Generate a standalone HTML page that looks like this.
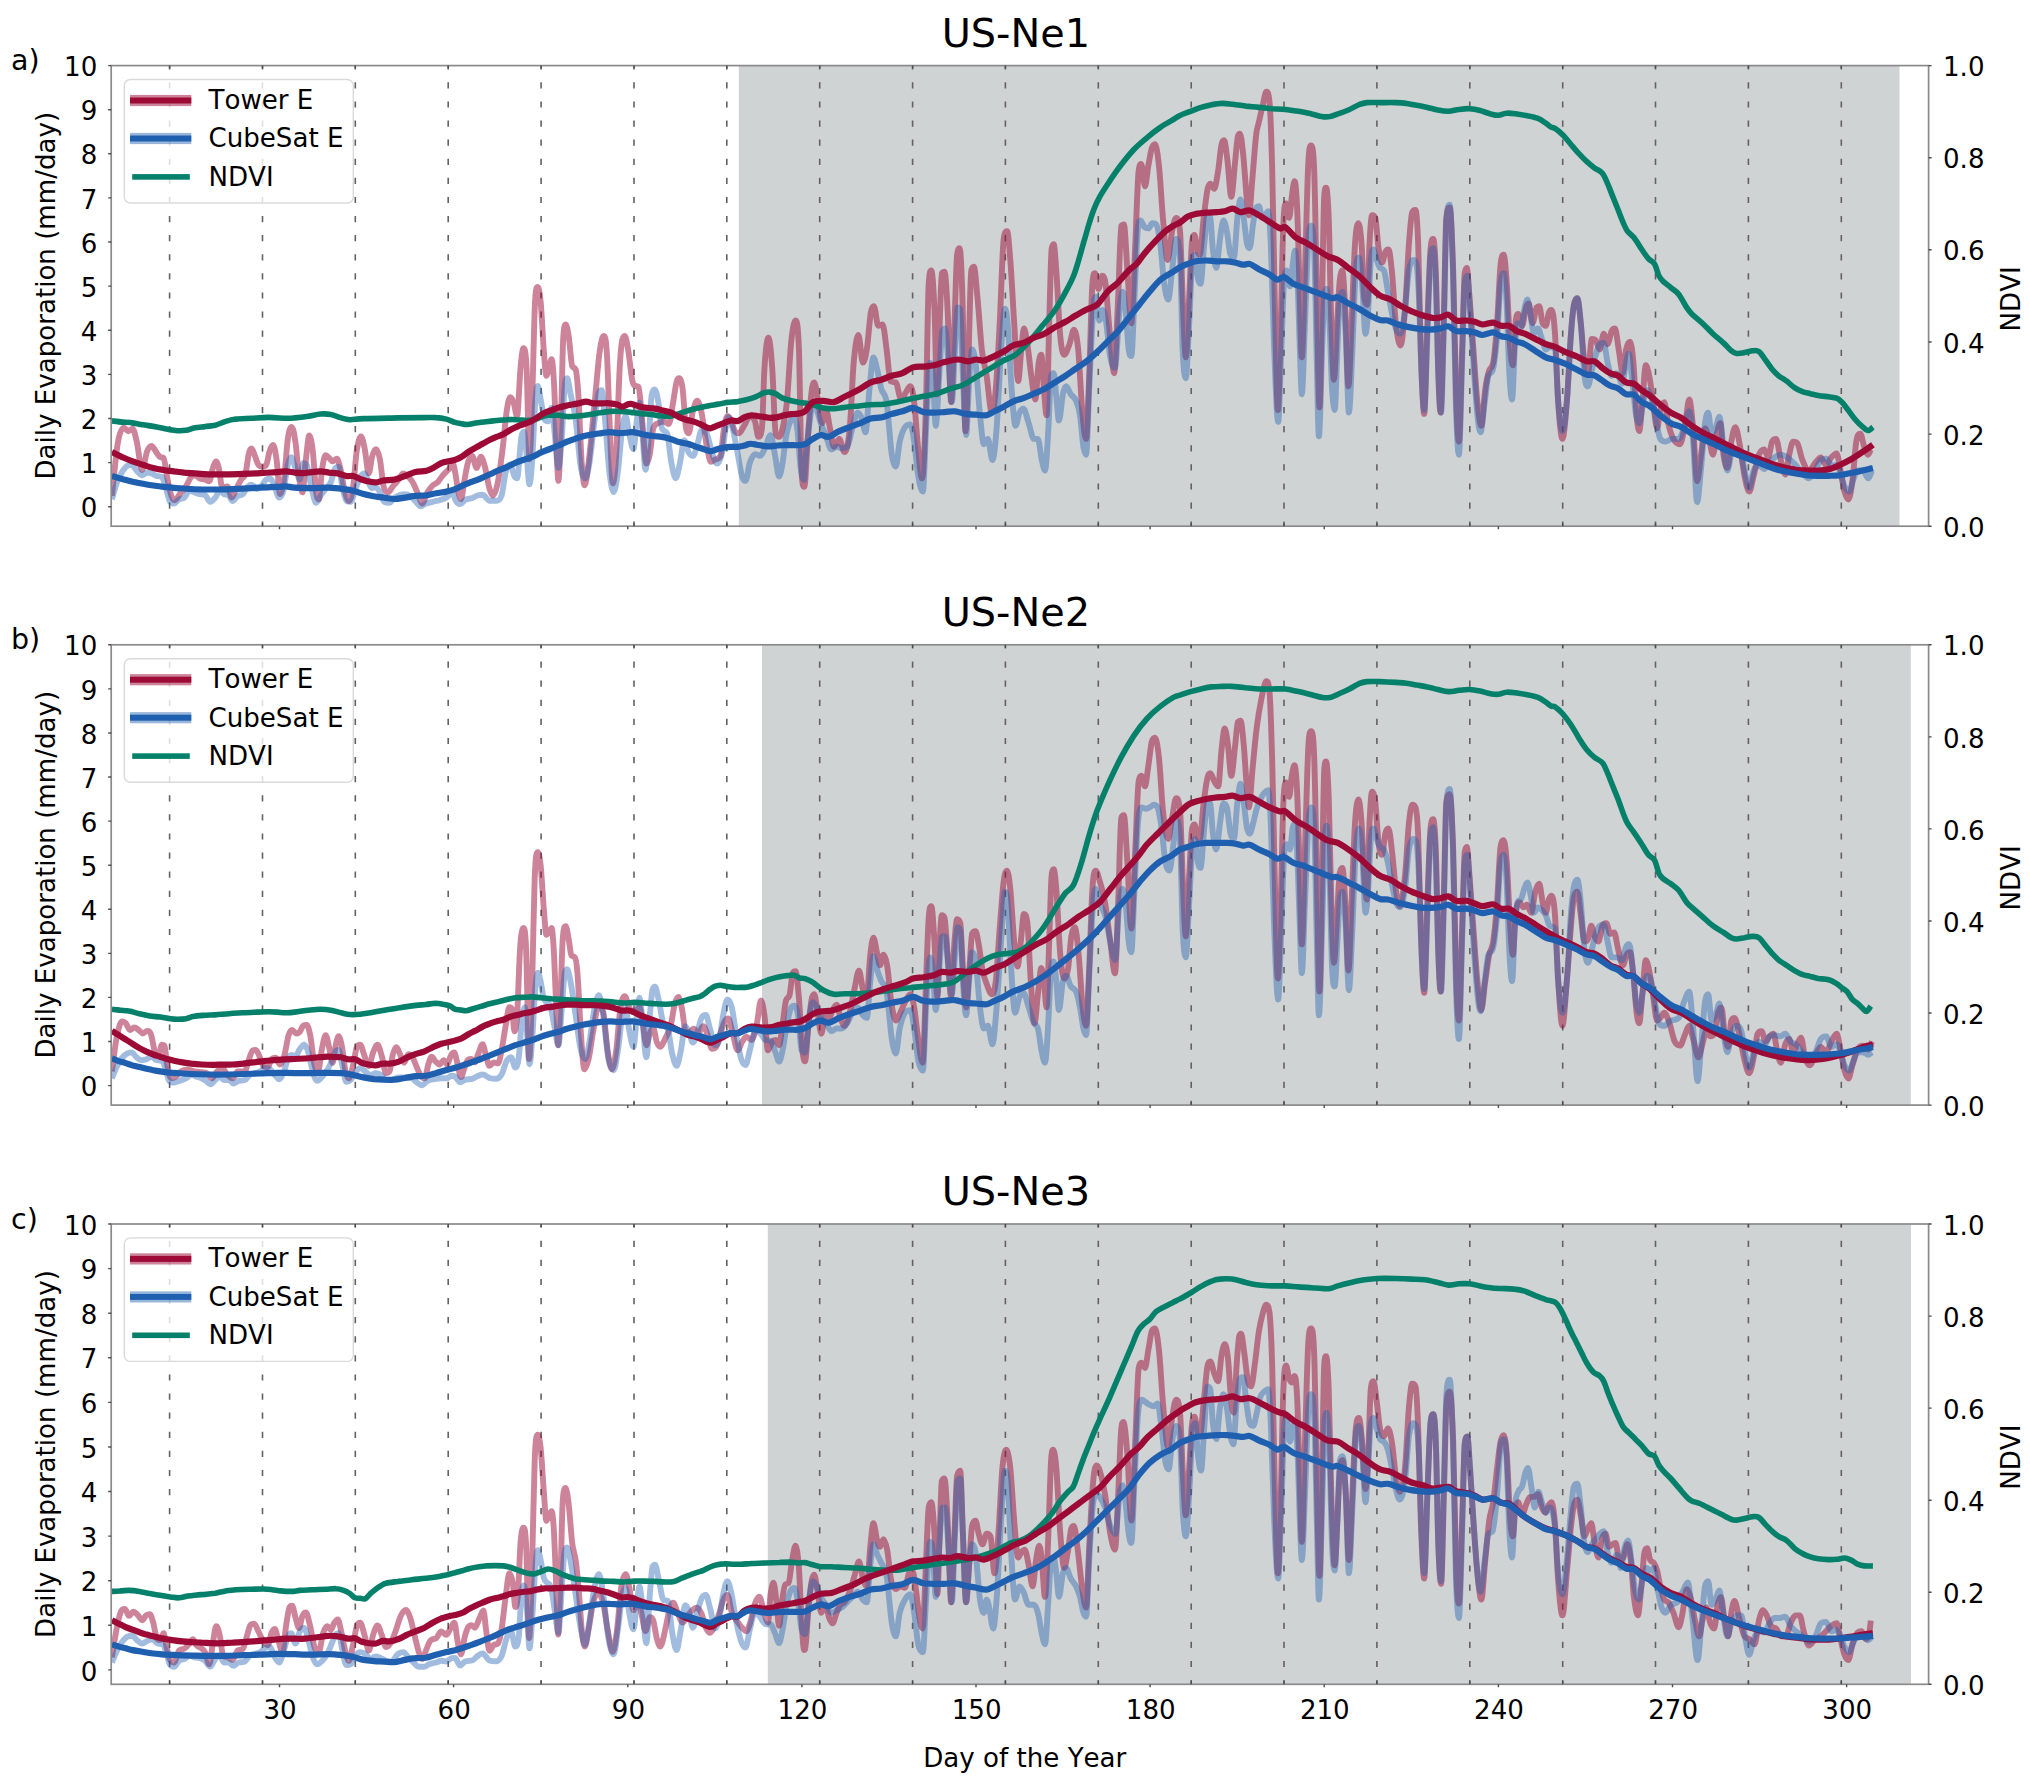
<!DOCTYPE html>
<html lang="en"><head><meta charset="utf-8"><title>Daily Evaporation and NDVI at US-Ne1, US-Ne2, US-Ne3</title>
<style>html,body{margin:0;padding:0;background:#fff}body{width:2030px;height:1786px;overflow:hidden}svg{display:block}</style>
</head><body>
<svg width="2030" height="1786" viewBox="0 0 2030 1786" font-family="'DejaVu Sans','Liberation Sans',sans-serif" style="font-kerning:none">
<rect width="2030" height="1786" fill="#fff"/>
<g id="panel1">
<rect x="738.8" y="65.6" width="1160.7" height="460.6" fill="#d0d3d4"/>
<path d="M169.6,65.6V526.2M262.5,65.6V526.2M355.3,65.6V526.2M448.2,65.6V526.2M541.1,65.6V526.2M634.0,65.6V526.2M726.8,65.6V526.2M819.7,65.6V526.2M912.6,65.6V526.2M1005.4,65.6V526.2M1098.3,65.6V526.2M1191.2,65.6V526.2M1284.0,65.6V526.2M1376.9,65.6V526.2M1469.8,65.6V526.2M1562.7,65.6V526.2M1655.5,65.6V526.2M1748.4,65.6V526.2M1841.3,65.6V526.2" stroke="#626262" stroke-width="1.6" stroke-dasharray="6.2,12.9" stroke-dashoffset="2.4" fill="none"/>
<clipPath id="clip1"><rect x="111.2" y="65.6" width="1817.3999999999999" height="460.6"/></clipPath>
<g clip-path="url(#clip1)">
<path d="M111.9,495.9C113.9,478.0 115.9,453.8 117.9,442.4C119.9,431.1 122.0,427.8 124.0,427.8C125.4,427.8 126.8,431.2 128.3,431.2C129.7,431.2 131.1,428.6 132.6,428.6C134.0,428.6 135.5,436.3 136.9,442.4C138.6,449.8 140.3,470.0 142.1,470.0C143.8,470.0 145.5,455.2 147.2,451.0C148.7,447.5 150.1,445.9 151.6,445.9C153.3,445.9 155.0,450.5 156.7,452.8C157.9,454.2 159.0,456.9 160.2,457.1C161.3,457.3 162.5,457.1 163.6,457.9C164.8,458.8 165.9,471.2 167.1,476.9C168.5,484.0 169.9,491.8 171.4,495.9C172.5,499.1 173.7,500.2 174.8,500.2C176.8,500.2 178.9,494.9 180.9,492.4C182.6,490.3 184.3,489.0 186.0,486.4C187.8,483.8 189.5,478.8 191.2,476.9C192.6,475.3 194.1,475.2 195.5,475.2C197.0,475.2 198.4,478.0 199.8,478.6C201.6,479.4 203.3,479.0 205.0,479.5C206.4,479.8 207.9,481.2 209.3,481.2C210.5,481.2 211.6,471.6 212.8,468.3C213.9,465.0 215.1,461.4 216.2,461.4C217.1,461.4 217.9,464.8 218.8,468.3C219.9,473.0 221.1,487.2 222.2,487.2C224.0,487.2 225.7,486.4 227.4,486.4C228.9,486.4 230.3,497.6 231.7,497.6C233.2,497.6 234.6,491.7 236.0,489.0C237.8,485.7 239.5,482.3 241.2,479.5C242.6,477.2 244.1,478.8 245.5,473.4C246.7,469.2 247.8,457.2 249.0,452.8C249.8,449.5 250.7,448.4 251.6,448.4C252.7,448.4 253.9,453.5 255.0,456.2C256.1,458.9 257.3,463.4 258.4,464.8C259.9,466.6 261.3,466.6 262.8,466.6C263.9,466.6 265.1,466.6 266.2,464.8C267.4,463.1 268.5,454.3 269.7,451.0C270.8,447.7 272.0,445.0 273.1,445.0C274.3,445.0 275.4,451.5 276.6,459.7C277.7,467.8 278.9,494.1 280.0,494.1C281.4,494.1 282.9,487.7 284.3,476.9C285.5,468.3 286.6,447.1 287.8,439.0C289.0,430.0 290.3,426.9 291.6,426.9C292.9,426.9 294.2,433.2 295.5,442.4C296.7,450.4 297.8,468.6 299.0,476.9C300.1,485.2 301.3,492.4 302.4,492.4C303.6,492.4 304.7,469.1 305.9,459.7C307.0,450.2 308.2,435.5 309.3,435.5C310.5,435.5 311.6,441.6 312.8,451.0C313.9,460.5 315.1,484.0 316.2,492.4C317.1,498.7 317.9,499.3 318.8,499.3C319.9,499.3 321.1,475.6 322.2,468.3C323.4,460.9 324.5,455.3 325.7,455.3C326.8,455.3 328.0,456.9 329.1,457.9C330.3,458.9 331.4,461.4 332.6,461.4C334.0,461.4 335.5,458.8 336.9,458.8C338.0,458.8 339.2,463.7 340.3,468.3C341.8,474.0 343.2,485.2 344.7,490.7C346.1,496.1 347.5,501.0 349.0,501.0C350.4,501.0 351.8,495.3 353.3,485.5C354.4,477.7 355.6,458.7 356.7,451.0C358.2,441.4 359.6,436.4 361.0,436.4C362.2,436.4 363.3,442.3 364.5,447.6C365.9,454.2 367.4,473.4 368.8,473.4C369.9,473.4 371.1,460.1 372.2,456.2C373.5,451.9 374.8,449.3 376.0,449.3C377.4,449.3 378.7,453.0 380.0,459.7C381.1,465.5 382.3,480.3 383.4,485.5C384.9,492.1 386.3,492.4 387.8,492.4C389.5,492.4 391.2,488.4 392.9,486.4C394.7,484.4 396.4,482.5 398.1,480.3C399.8,478.2 401.6,473.4 403.3,473.4C405.0,473.4 406.7,475.2 408.4,476.9C410.2,478.6 411.9,480.6 413.6,483.8C415.1,486.5 416.5,490.8 417.9,494.1C419.4,497.4 420.8,503.6 422.2,503.6C424.0,503.6 425.7,495.4 427.4,492.4C429.1,489.4 430.9,487.2 432.6,485.5C434.3,483.8 436.0,483.8 437.8,482.1C439.5,480.3 441.2,477.2 442.9,475.2C444.7,473.2 446.4,471.7 448.1,470.0C449.8,468.3 451.6,464.8 453.3,464.8C453.9,464.8 454.4,468.6 455.0,471.4C456.1,477.0 457.3,487.1 458.4,492.1C459.3,495.8 460.2,499.0 461.0,499.0C462.2,499.0 463.3,486.0 464.5,480.0C465.6,474.0 466.8,466.6 467.9,462.8C469.4,458.0 470.8,455.9 472.2,455.9C473.7,455.9 475.1,467.9 476.6,467.9C478.0,467.9 479.4,456.7 480.9,456.7C482.3,456.7 483.7,462.6 485.2,467.9C486.6,473.2 488.0,483.7 489.5,488.6C490.6,492.5 491.8,495.5 492.9,495.5C494.4,495.5 495.8,491.7 497.2,485.2C499.0,477.4 500.7,464.4 502.4,450.7C503.9,439.3 505.3,420.5 506.7,411.0C507.9,403.4 509.0,397.2 510.2,397.2C511.3,397.2 512.5,399.3 513.6,402.4C514.8,405.6 515.9,416.2 517.1,416.2C518.2,416.2 519.4,379.9 520.5,367.9C521.5,357.8 522.5,348.1 523.4,348.1C524.5,348.1 525.5,348.5 526.6,367.9C527.5,386.3 528.5,459.3 529.5,459.3C530.5,459.3 531.6,414.8 532.6,385.2C533.4,360.5 534.3,311.0 535.2,299.0C536.0,286.9 536.9,286.9 537.8,286.9C538.7,286.9 539.7,292.2 540.7,302.4C541.7,313.2 542.8,337.6 543.8,350.7C544.7,361.6 545.5,375.7 546.4,375.7C547.2,375.7 548.1,370.7 549.0,367.9C549.8,365.2 550.7,359.3 551.6,359.3C552.4,359.3 553.3,369.4 554.1,385.2C555.0,401.0 555.9,436.0 556.7,454.1C557.3,466.3 557.9,480.9 558.4,480.9C559.3,480.9 560.2,445.8 561.0,419.7C561.8,397.0 562.5,347.7 563.3,336.9C564.1,324.5 565.0,324.5 565.9,324.5C566.8,324.5 567.8,330.7 568.8,336.9C569.9,344.2 571.1,363.9 572.2,366.2C573.4,368.5 574.5,367.1 575.7,369.7C576.6,371.6 577.4,381.1 578.3,393.8C579.4,410.7 580.6,446.9 581.7,462.8C582.7,476.3 583.7,485.2 584.7,485.2C586.0,485.2 587.3,473.1 588.6,462.8C590.6,447.0 592.6,422.5 594.7,402.4C596.4,385.2 598.1,362.6 599.8,350.7C601.1,341.9 602.4,336.0 603.6,336.0C604.7,336.0 605.7,336.0 606.7,350.7C607.9,367.0 609.0,412.2 610.2,436.9C611.0,455.4 611.9,483.4 612.8,483.4C613.9,483.4 615.1,473.4 616.2,454.1C617.4,434.9 618.5,388.4 619.7,367.9C620.5,352.6 621.4,344.7 622.2,340.3C623.1,336.0 624.0,336.0 624.8,336.0C626.0,336.0 627.1,344.1 628.3,350.7C629.7,358.9 631.1,376.4 632.6,381.7C633.7,386.0 634.9,385.9 636.0,386.0C636.9,386.2 637.8,386.0 638.6,386.9C639.8,388.0 640.9,408.3 642.1,419.7C643.5,433.8 644.9,463.6 646.4,463.6C647.5,463.6 648.7,460.0 649.8,454.1C651.0,448.2 652.1,431.7 653.3,428.3C655.0,423.2 656.7,423.9 658.4,423.1C660.2,422.3 661.9,421.4 663.6,421.4C665.3,421.4 667.1,424.0 668.8,424.0C670.2,424.0 671.7,410.3 673.1,402.4C674.3,396.1 675.4,385.9 676.6,381.7C677.4,378.6 678.3,378.3 679.1,378.3C680.3,378.3 681.4,380.3 682.6,388.6C683.7,397.0 684.9,421.4 686.0,428.3C686.9,433.4 687.8,433.4 688.6,433.4C690.1,433.4 691.5,416.5 692.9,411.0C694.4,405.6 695.8,400.7 697.2,400.7C698.7,400.7 700.1,406.2 701.6,412.8C703.3,420.6 705.0,436.8 706.7,445.5C708.2,452.8 709.6,461.9 711.0,461.9C712.5,461.9 713.9,459.7 715.3,459.3C717.1,458.8 718.8,459.3 720.5,455.9C721.7,453.6 722.8,434.9 724.0,428.3C725.1,421.7 726.3,416.2 727.4,416.2C728.6,416.2 729.7,417.5 730.9,419.7C732.3,422.4 733.7,429.6 735.2,431.7C736.3,433.4 737.5,433.4 738.6,433.4C740.6,433.4 742.6,427.9 744.7,424.8C746.4,422.2 748.1,416.2 749.8,416.2C751.6,416.2 753.3,416.6 755.0,421.4C756.1,424.5 757.3,436.9 758.4,436.9C759.6,436.9 760.7,436.9 761.9,428.3C762.8,421.8 763.6,381.3 764.5,367.9C765.8,347.5 767.1,337.8 768.4,337.8C769.7,337.8 771.0,350.9 772.2,367.9C773.4,383.4 774.5,430.0 775.7,433.4C776.8,436.9 778.0,436.9 779.1,436.9C780.3,436.9 781.4,433.2 782.6,428.3C784.0,422.2 785.5,416.8 786.9,402.4C788.3,388.0 789.8,355.7 791.2,342.1C792.6,328.4 794.1,320.5 795.5,320.5C796.7,320.5 797.8,320.5 799.0,350.7C799.8,373.3 800.7,455.9 801.6,471.4C802.4,486.9 803.3,486.9 804.1,486.9C804.4,486.9 804.7,486.5 805.0,483.7C805.9,475.0 806.8,454.2 807.6,441.6C808.9,422.7 810.3,402.2 811.6,391.6C812.5,384.5 813.3,382.4 814.2,382.4C815.5,382.4 816.8,395.3 818.2,402.1C819.5,408.9 820.8,423.2 822.1,423.2C823.4,423.2 824.7,410.0 826.1,410.0C827.4,410.0 828.7,422.3 830.0,428.4C831.3,434.6 832.6,446.8 833.9,446.8C835.7,446.8 837.5,438.9 839.2,438.9C841.0,438.9 842.7,452.1 844.5,452.1C846.2,452.1 848.0,447.0 849.7,428.4C851.1,414.5 852.4,377.4 853.7,362.6C855.3,344.9 856.8,335.0 858.4,335.0C859.9,335.0 861.4,362.6 862.9,362.6C864.2,362.6 865.5,357.8 866.8,349.5C868.2,341.1 869.5,320.1 870.8,312.6C871.8,306.6 872.9,306.1 873.9,306.1C875.4,306.1 876.8,325.8 878.2,325.8C879.6,325.8 881.1,324.5 882.6,324.5C883.9,324.5 885.3,340.0 886.6,349.5C887.9,358.9 889.2,380.1 890.5,381.1C892.3,382.3 894.0,381.9 895.8,382.4C897.5,382.9 899.3,399.5 901.1,399.5C902.8,399.5 904.6,394.1 906.3,391.6C907.6,389.7 908.9,386.3 910.3,386.3C911.6,386.3 912.9,391.6 914.2,402.1C915.5,412.6 916.8,436.8 918.2,449.5C919.5,462.2 920.8,478.4 922.1,478.4C923.4,478.4 924.7,444.4 926.1,402.1C926.9,373.9 927.8,296.8 928.7,283.7C929.6,270.5 930.4,270.5 931.3,270.5C932.4,270.5 933.4,286.6 934.5,310.0C935.4,329.5 936.2,394.2 937.1,394.2C938.0,394.2 938.9,345.4 939.7,323.2C940.4,305.4 941.1,274.2 941.8,273.2C942.7,271.8 943.6,271.8 944.5,271.8C945.5,271.8 946.6,289.5 947.6,310.0C948.8,332.2 949.9,402.1 951.1,402.1C952.2,402.1 953.3,351.1 954.5,323.2C955.4,301.6 956.2,261.3 957.1,254.7C958.0,248.2 958.9,248.2 959.7,248.2C960.6,248.2 961.5,270.1 962.4,296.8C963.4,328.9 964.5,431.1 965.5,431.1C966.6,431.1 967.6,378.9 968.7,349.5C969.6,325.0 970.4,274.5 971.3,270.5C972.2,266.6 973.1,266.6 973.9,266.6C975.1,266.6 976.2,285.1 977.4,296.8C978.9,312.2 980.4,336.6 981.8,349.5C983.4,363.1 985.0,365.9 986.6,375.8C988.3,386.8 990.1,412.6 991.8,412.6C993.2,412.6 994.5,403.9 995.8,388.9C997.1,374.0 998.4,348.2 999.7,323.2C1001.1,298.2 1002.4,248.1 1003.7,238.9C1004.8,231.1 1006.0,231.1 1007.1,231.1C1008.2,231.1 1009.2,246.8 1010.3,260.0C1011.6,276.6 1012.9,303.0 1014.2,323.2C1015.5,343.3 1016.8,381.1 1018.2,381.1C1019.2,381.1 1020.3,358.9 1021.3,349.5C1022.2,341.6 1023.1,328.4 1023.9,328.4C1025.1,328.4 1026.2,337.0 1027.4,344.2C1028.7,352.5 1030.0,366.6 1031.3,375.8C1032.6,385.0 1033.9,399.5 1035.3,399.5C1036.4,399.5 1037.5,370.5 1038.7,362.6C1039.6,356.6 1040.4,354.7 1041.3,354.7C1042.2,354.7 1043.1,378.9 1043.9,388.9C1044.8,399.0 1045.7,415.3 1046.6,415.3C1047.5,415.3 1048.3,352.2 1049.2,323.2C1050.0,297.1 1050.8,255.4 1051.6,249.5C1052.3,244.2 1053.0,244.2 1053.7,244.2C1054.6,244.2 1055.4,258.8 1056.3,270.5C1057.6,288.1 1058.9,322.3 1060.3,336.3C1061.6,350.4 1062.9,354.7 1064.2,354.7C1066.0,354.7 1067.7,348.8 1069.5,344.2C1071.0,340.3 1072.5,329.7 1073.9,329.7C1075.4,329.7 1076.8,335.9 1078.2,349.5C1079.6,363.9 1081.1,399.1 1082.6,415.3C1083.8,427.6 1084.9,438.9 1086.1,438.9C1087.1,438.9 1088.2,401.7 1089.2,375.8C1090.3,349.9 1091.3,296.3 1092.4,283.7C1093.2,273.2 1094.1,273.2 1095.0,273.2C1096.1,273.2 1097.3,288.9 1098.4,288.9C1099.7,288.9 1101.1,275.8 1102.4,275.8C1103.4,275.8 1104.5,276.3 1105.5,283.7C1106.7,291.7 1107.8,311.2 1108.9,323.2C1110.7,341.6 1112.5,373.2 1114.2,373.2C1115.5,373.2 1116.8,324.4 1118.2,296.8C1119.2,274.8 1120.3,227.4 1121.3,225.8C1122.2,224.5 1123.1,224.5 1123.9,224.5C1125.1,224.5 1126.2,255.2 1127.4,270.5C1128.7,288.2 1130.0,323.2 1131.3,323.2C1132.6,323.2 1133.9,271.5 1135.3,244.2C1136.4,220.5 1137.5,179.1 1138.7,170.5C1139.6,163.9 1140.4,163.9 1141.3,163.9C1142.5,163.9 1143.8,186.3 1145.0,186.3C1146.1,186.3 1147.3,171.6 1148.4,165.3C1149.6,158.9 1150.7,151.7 1151.8,148.2C1152.9,144.9 1153.9,144.2 1155.0,144.2C1156.3,144.2 1157.6,153.0 1158.9,165.3C1160.3,177.5 1161.6,203.3 1162.9,217.9C1164.5,235.4 1166.1,260.0 1167.6,260.0C1169.1,260.0 1170.6,238.4 1172.1,231.1C1173.4,224.6 1174.7,217.9 1176.1,217.9C1177.4,217.9 1178.7,217.9 1180.0,231.1C1180.9,239.8 1181.8,277.5 1182.6,296.8C1183.7,320.1 1184.7,357.4 1185.8,357.4C1186.9,357.4 1188.1,318.3 1189.2,296.8C1190.1,280.3 1191.0,253.4 1191.8,244.2C1192.7,235.0 1193.6,235.0 1194.5,235.0C1195.4,235.0 1196.2,246.2 1197.1,249.5C1198.0,252.8 1198.9,254.7 1199.7,254.7C1201.1,254.7 1202.4,228.9 1203.7,217.9C1205.0,206.9 1206.3,195.1 1207.6,188.9C1208.5,184.9 1209.4,183.7 1210.3,183.7C1211.6,183.7 1212.9,188.9 1214.2,188.9C1215.5,188.9 1216.8,178.7 1218.2,170.5C1219.3,163.5 1220.4,149.3 1221.6,144.2C1222.5,140.3 1223.3,140.3 1224.2,140.3C1225.3,140.3 1226.3,151.8 1227.4,160.0C1228.7,170.3 1230.0,196.8 1231.3,196.8C1232.6,196.8 1233.9,172.1 1235.3,160.0C1236.1,152.0 1237.0,139.6 1237.9,136.3C1238.6,133.7 1239.3,133.7 1240.0,133.7C1241.1,133.7 1242.1,144.9 1243.2,154.7C1244.5,167.0 1245.8,189.5 1247.1,202.1C1247.7,208.0 1248.3,215.3 1248.9,215.3C1250.1,215.3 1251.2,191.0 1252.4,178.4C1253.7,163.9 1255.0,144.1 1256.3,133.7C1257.2,126.7 1258.1,125.7 1258.9,121.8C1260.3,116.0 1261.6,110.1 1262.9,104.7C1264.0,100.1 1265.2,91.6 1266.3,91.6C1267.4,91.6 1268.4,91.6 1269.5,102.1C1270.4,110.9 1271.2,132.8 1272.1,165.3C1273.0,197.7 1273.9,259.2 1274.7,296.8C1275.8,342.0 1276.8,410.0 1277.9,410.0C1278.9,410.0 1279.8,356.0 1280.8,323.2C1281.7,293.3 1282.5,242.9 1283.4,223.2C1284.3,203.4 1285.2,203.4 1286.1,203.4C1287.1,203.4 1288.2,217.9 1289.2,217.9C1290.1,217.9 1291.0,203.0 1291.8,196.8C1292.7,190.7 1293.6,181.1 1294.5,181.1C1295.4,181.1 1296.2,188.1 1297.1,207.4C1298.0,226.7 1298.9,269.3 1299.7,296.8C1300.4,318.9 1301.1,357.4 1301.8,357.4C1302.9,357.4 1303.9,302.5 1305.0,270.5C1306.1,238.5 1307.1,186.4 1308.2,165.3C1309.1,145.9 1310.1,145.5 1311.1,145.5C1312.1,145.5 1313.2,145.5 1314.2,170.5C1315.1,191.4 1316.0,257.4 1316.8,296.8C1317.7,336.3 1318.6,407.4 1319.5,407.4C1320.4,407.4 1321.2,336.1 1322.1,296.8C1322.8,265.4 1323.5,207.4 1324.2,196.8C1324.8,187.6 1325.4,187.6 1326.1,187.6C1326.9,187.6 1327.8,195.3 1328.7,217.9C1329.6,240.5 1330.4,296.2 1331.3,323.2C1332.2,350.1 1333.1,379.7 1333.9,379.7C1335.0,379.7 1336.1,341.0 1337.1,323.2C1338.0,308.3 1338.9,289.8 1339.7,281.1C1340.6,272.3 1341.5,270.5 1342.4,270.5C1343.3,270.5 1344.3,291.8 1345.3,310.0C1346.3,329.9 1347.4,386.3 1348.4,386.3C1349.5,386.3 1350.5,345.8 1351.6,323.2C1352.7,298.6 1353.9,260.9 1355.0,244.2C1356.1,227.5 1357.3,223.2 1358.4,223.2C1359.5,223.2 1360.5,230.2 1361.6,244.2C1362.5,255.9 1363.3,290.3 1364.2,296.8C1365.3,304.7 1366.3,304.7 1367.4,304.7C1368.1,304.7 1368.8,258.2 1369.5,244.2C1370.4,226.8 1371.2,215.3 1372.1,215.3C1373.2,215.3 1374.2,215.3 1375.3,217.9C1376.4,220.7 1377.5,242.0 1378.7,249.5C1379.8,256.9 1381.0,262.6 1382.1,262.6C1383.2,262.6 1384.2,254.3 1385.3,252.1C1386.3,249.9 1387.4,249.5 1388.4,249.5C1389.6,249.5 1390.7,259.4 1391.8,270.5C1393.2,283.3 1394.5,311.3 1395.8,323.2C1397.4,337.4 1398.9,345.5 1400.5,345.5C1402.0,345.5 1403.5,328.3 1405.0,310.0C1406.3,293.8 1407.6,261.8 1408.9,244.2C1410.0,230.2 1411.1,215.1 1412.1,212.6C1413.2,210.0 1414.4,210.0 1415.5,210.0C1416.4,210.0 1417.3,221.0 1418.2,244.2C1419.0,267.5 1419.9,323.7 1420.8,349.5C1421.9,383.0 1423.1,413.9 1424.2,413.9C1425.3,413.9 1426.3,350.6 1427.4,323.2C1428.4,295.7 1429.5,262.1 1430.5,249.5C1431.4,238.9 1432.3,238.9 1433.2,238.9C1434.0,238.9 1434.9,247.7 1435.8,270.5C1436.7,293.3 1437.5,350.6 1438.4,375.8C1439.1,396.0 1439.8,412.6 1440.5,412.6C1441.6,412.6 1442.6,359.1 1443.7,323.2C1444.6,293.2 1445.4,226.0 1446.3,217.9C1447.5,207.4 1448.6,207.4 1449.7,207.4C1450.9,207.4 1452.0,236.2 1453.2,270.5C1454.2,302.2 1455.3,372.3 1456.3,402.1C1457.2,427.0 1458.1,441.6 1458.9,441.6C1460.0,441.6 1461.1,380.1 1462.1,349.5C1463.0,324.0 1463.9,279.7 1464.7,273.2C1465.4,267.9 1466.1,267.9 1466.8,267.9C1467.7,267.9 1468.6,286.2 1469.5,296.8C1470.8,312.9 1472.1,331.9 1473.4,349.5C1474.7,367.0 1476.1,389.4 1477.4,402.1C1478.7,414.8 1480.0,425.8 1481.3,425.8C1482.6,425.8 1483.9,398.2 1485.3,388.9C1486.6,379.7 1487.9,374.4 1489.2,370.5C1490.5,366.7 1491.8,369.5 1493.2,362.6C1494.5,355.7 1495.8,340.9 1497.1,323.2C1498.2,307.8 1499.4,276.7 1500.5,265.3C1501.6,254.7 1502.6,254.7 1503.7,254.7C1504.7,254.7 1505.8,268.7 1506.8,283.7C1508.0,299.9 1509.1,335.1 1510.3,349.5C1511.1,360.5 1512.0,365.3 1512.9,365.3C1513.8,365.3 1514.6,331.7 1515.5,323.2C1516.4,314.6 1517.3,313.9 1518.2,313.9C1519.5,313.9 1520.8,325.8 1522.1,325.8C1523.4,325.8 1524.7,311.4 1526.1,307.4C1526.9,304.7 1527.8,303.4 1528.7,303.4C1530.0,303.4 1531.3,323.2 1532.6,323.2C1533.9,323.2 1535.3,309.3 1536.6,307.4C1537.5,306.1 1538.3,306.1 1539.2,306.1C1540.4,306.1 1541.5,320.3 1542.6,323.2C1543.7,325.8 1544.7,325.8 1545.8,325.8C1546.8,325.8 1547.9,315.4 1548.9,312.6C1549.8,310.4 1550.7,310.0 1551.6,310.0C1552.7,310.0 1553.9,317.4 1555.0,333.7C1556.1,348.7 1557.1,386.1 1558.2,402.1C1559.6,423.5 1561.0,438.9 1562.4,438.9C1563.9,438.9 1565.4,420.7 1566.8,402.1C1568.2,385.7 1569.5,353.9 1570.8,336.3C1571.8,322.3 1572.9,310.8 1573.9,304.7C1575.1,298.2 1576.2,298.2 1577.4,298.2C1578.5,298.2 1579.6,312.9 1580.8,323.2C1582.0,334.2 1583.2,353.9 1584.5,362.6C1585.6,370.7 1586.8,374.5 1587.9,374.5C1589.2,374.5 1590.5,338.9 1591.8,338.9C1593.2,338.9 1594.5,338.9 1595.8,340.3C1597.1,341.6 1598.4,349.5 1599.7,349.5C1601.1,349.5 1602.4,333.7 1603.7,333.7C1605.0,333.7 1606.3,344.2 1607.6,344.2C1608.9,344.2 1610.3,333.8 1611.6,331.1C1612.7,328.7 1613.9,328.4 1615.0,328.4C1616.2,328.4 1617.5,342.5 1618.7,349.5C1620.1,357.4 1621.5,373.2 1622.9,373.2C1623.9,373.2 1625.0,354.5 1626.1,349.5C1627.4,343.2 1628.7,341.6 1630.0,341.6C1631.1,341.6 1632.3,349.6 1633.4,362.6C1634.5,374.6 1635.5,403.3 1636.6,415.3C1637.5,425.2 1638.3,431.1 1639.2,431.1C1640.3,431.1 1641.3,412.6 1642.4,402.1C1643.5,390.7 1644.6,365.3 1645.8,365.3C1646.9,365.3 1648.1,370.4 1649.2,375.8C1650.4,381.6 1651.7,391.3 1652.9,399.5C1654.3,408.8 1655.7,428.4 1657.1,428.4C1658.2,428.4 1659.2,414.1 1660.3,410.0C1661.6,404.8 1662.9,402.1 1664.2,402.1C1665.5,402.1 1666.8,417.7 1668.2,423.2C1669.9,430.5 1671.7,435.6 1673.4,438.9C1675.6,443.1 1677.8,444.2 1680.0,444.2C1681.8,444.2 1683.5,431.9 1685.3,423.2C1686.6,416.6 1687.9,399.5 1689.2,399.5C1690.5,399.5 1691.8,414.8 1693.2,428.4C1694.5,442.0 1695.8,481.1 1697.1,481.1C1698.4,481.1 1699.7,463.5 1701.1,454.7C1702.4,446.0 1703.7,428.4 1705.0,428.4C1706.3,428.4 1707.6,434.6 1708.9,438.9C1710.3,443.3 1711.6,454.7 1712.9,454.7C1714.2,454.7 1715.5,439.2 1716.8,433.7C1718.0,428.9 1719.1,423.2 1720.3,423.2C1721.3,423.2 1722.4,447.7 1723.4,454.7C1724.7,463.5 1726.1,467.9 1727.4,467.9C1728.7,467.9 1730.0,448.4 1731.3,441.6C1732.6,434.8 1733.9,427.1 1735.3,427.1C1736.6,427.1 1737.9,434.9 1739.2,441.6C1741.0,450.5 1742.7,467.2 1744.5,475.8C1746.1,483.6 1747.6,491.6 1749.2,491.6C1750.7,491.6 1752.2,481.4 1753.7,475.8C1755.4,469.2 1757.2,459.1 1758.9,454.7C1760.7,450.4 1762.5,449.5 1764.2,449.5C1765.5,449.5 1766.8,457.4 1768.2,457.4C1769.5,457.4 1770.8,444.2 1772.1,441.6C1773.4,438.9 1774.7,438.9 1776.1,438.9C1777.6,438.9 1779.2,453.9 1780.8,460.0C1782.3,465.7 1783.8,474.5 1785.3,474.5C1786.6,474.5 1787.9,460.2 1789.2,454.7C1790.5,449.3 1791.8,441.6 1793.2,441.6C1794.5,441.6 1795.8,441.6 1797.1,442.9C1798.9,444.6 1800.6,455.7 1802.4,460.0C1804.6,465.3 1806.8,470.5 1808.9,470.5C1811.1,470.5 1813.3,465.0 1815.5,462.6C1817.3,460.7 1819.0,457.4 1820.8,457.4C1822.5,457.4 1824.3,465.3 1826.1,465.3C1827.8,465.3 1829.6,459.3 1831.3,457.4C1833.1,455.4 1834.8,453.4 1836.6,453.4C1837.9,453.4 1839.2,464.2 1840.5,470.5C1841.8,476.9 1843.2,486.8 1844.5,491.6C1845.8,496.4 1847.1,499.5 1848.4,499.5C1849.7,499.5 1851.1,490.7 1852.4,481.1C1853.7,471.4 1855.0,449.5 1856.3,441.6C1857.6,433.7 1858.9,433.7 1860.3,433.7C1861.6,433.7 1862.9,443.3 1864.2,446.8C1865.5,450.4 1866.8,454.7 1868.2,454.7C1869.0,454.7 1869.9,451.2 1870.8,449.5" fill="none" stroke="#9c0a35" stroke-opacity="0.5" stroke-width="5.9" stroke-linejoin="round" stroke-linecap="butt"/>
<path d="M111.9,499.3C113.6,493.6 115.3,486.7 117.1,482.1C118.8,477.5 120.5,474.5 122.2,471.7C124.0,469.0 125.7,466.7 127.4,465.7C128.9,464.8 130.3,464.8 131.7,464.8C133.4,464.8 135.2,469.1 136.9,470.9C138.6,472.6 140.3,475.2 142.1,475.2C143.8,475.2 145.5,472.6 147.2,472.6C148.7,472.6 150.1,472.9 151.6,473.4C153.3,474.1 155.0,475.8 156.7,476.0C158.4,476.2 160.2,476.1 161.9,476.9C163.0,477.5 164.2,482.0 165.3,485.5C166.8,489.9 168.2,498.4 169.7,501.0C171.1,503.6 172.5,503.6 174.0,503.6C175.7,503.6 177.4,500.3 179.1,499.3C180.9,498.3 182.6,499.0 184.3,497.6C186.0,496.2 187.8,490.7 189.5,490.7C191.2,490.7 192.9,491.8 194.7,492.4C196.4,493.0 198.1,493.9 199.8,494.1C201.6,494.4 203.3,494.2 205.0,495.0C206.7,495.8 208.4,501.9 210.2,501.9C211.9,501.9 213.6,499.7 215.3,497.6C216.8,495.8 218.2,490.7 219.7,490.7C221.1,490.7 222.5,493.7 224.0,494.1C225.4,494.6 226.8,494.3 228.3,495.0C229.7,495.7 231.1,501.0 232.6,501.0C234.3,501.0 236.0,496.8 237.8,495.9C239.5,494.9 241.2,495.6 242.9,494.1C244.4,493.0 245.8,488.8 247.2,487.2C248.7,485.7 250.1,484.7 251.6,484.7C253.3,484.7 255.0,489.0 256.7,489.0C258.4,489.0 260.2,487.3 261.9,485.5C263.3,484.0 264.8,480.3 266.2,479.5C267.6,478.6 269.1,478.6 270.5,478.6C272.0,478.6 273.4,484.1 274.8,487.2C276.3,490.4 277.7,497.6 279.1,497.6C280.6,497.6 282.0,496.1 283.4,490.7C284.9,485.2 286.3,470.8 287.8,464.8C288.9,460.1 290.1,457.1 291.2,457.1C292.6,457.1 294.1,464.5 295.5,468.3C297.0,472.0 298.4,479.5 299.8,479.5C301.0,479.5 302.1,463.1 303.3,463.1C304.4,463.1 305.6,463.1 306.7,464.8C308.2,467.0 309.6,479.7 311.0,485.5C312.8,492.5 314.5,502.8 316.2,502.8C317.6,502.8 319.1,498.0 320.5,495.9C322.2,493.3 324.0,491.3 325.7,489.0C327.4,486.7 329.1,486.0 330.9,482.1C332.3,478.8 333.7,470.4 335.2,468.3C336.3,466.6 337.5,466.6 338.6,466.6C339.8,466.6 340.9,480.3 342.1,485.5C343.5,492.1 344.9,500.2 346.4,501.0C347.8,501.9 349.3,501.9 350.7,501.9C352.1,501.9 353.6,494.5 355.0,490.7C356.7,486.1 358.4,479.9 360.2,476.9C361.6,474.4 363.0,473.4 364.5,473.4C365.6,473.4 366.8,477.9 367.9,480.3C369.1,482.8 370.2,488.1 371.4,488.1C372.8,488.1 374.3,487.2 375.7,487.2C377.1,487.2 378.6,490.0 380.0,492.4C381.4,494.9 382.9,501.2 384.3,501.9C386.0,502.8 387.8,502.8 389.5,502.8C391.2,502.8 392.9,498.9 394.7,497.6C396.4,496.3 398.1,495.6 399.8,495.0C401.6,494.4 403.3,494.1 405.0,494.1C406.7,494.1 408.4,494.7 410.2,495.9C411.9,497.0 413.6,499.3 415.3,501.0C417.1,502.8 418.8,506.2 420.5,506.2C422.2,506.2 424.0,504.3 425.7,503.6C428.0,502.8 430.3,502.5 432.6,501.9C434.9,501.3 437.2,500.9 439.5,500.2C441.8,499.5 444.1,498.9 446.4,497.6C448.7,496.3 451.0,492.4 453.3,492.4C453.9,492.4 454.4,497.6 455.0,499.0C456.7,503.1 458.4,504.1 460.2,504.1C461.9,504.1 463.6,500.8 465.3,499.8C467.6,498.6 469.9,499.0 472.2,498.1C474.0,497.5 475.7,496.1 477.4,495.5C479.1,494.9 480.9,494.7 482.6,494.7C484.9,494.7 487.2,500.7 489.5,500.7C491.8,500.7 494.1,500.7 496.4,500.7C498.1,500.7 499.8,500.7 501.6,495.5C503.0,491.2 504.4,476.6 505.9,471.4C507.3,466.2 508.7,464.5 510.2,464.5C511.6,464.5 513.0,474.1 514.5,476.6C515.3,478.0 516.2,478.3 517.1,478.3C518.5,478.3 519.9,445.2 521.4,436.9C522.2,431.9 523.1,431.7 524.0,431.7C524.8,431.7 525.7,446.0 526.6,454.1C527.5,463.4 528.5,484.3 529.5,484.3C530.5,484.3 531.6,469.5 532.6,454.1C533.4,441.3 534.3,413.8 535.2,402.4C536.0,391.1 536.9,386.0 537.8,386.0C538.9,386.0 540.1,396.8 541.2,402.4C542.4,408.0 543.5,417.9 544.7,419.7C545.8,421.4 547.0,421.4 548.1,421.4C549.3,421.4 550.4,407.6 551.6,407.6C552.7,407.6 553.9,426.8 555.0,436.9C556.1,447.0 557.3,467.9 558.4,467.9C559.6,467.9 560.7,452.8 561.9,436.9C562.8,425.0 563.6,398.4 564.5,388.6C565.3,378.9 566.2,378.3 567.1,378.3C568.2,378.3 569.4,388.3 570.5,393.8C572.2,402.0 574.0,407.3 575.7,419.7C577.4,432.0 579.1,457.8 580.9,467.9C582.3,476.4 583.7,478.3 585.2,478.3C586.6,478.3 588.0,471.3 589.5,462.8C591.2,452.5 592.9,432.4 594.7,419.7C596.1,409.1 597.5,394.9 599.0,392.1C599.8,390.3 600.7,390.3 601.6,390.3C602.7,390.3 603.9,407.9 605.0,419.7C606.4,434.4 607.9,459.3 609.3,471.4C610.7,483.4 612.2,492.1 613.6,492.1C615.1,492.1 616.5,482.0 617.9,471.4C619.4,460.7 620.8,438.0 622.2,428.3C623.4,420.5 624.5,416.2 625.7,416.2C626.8,416.2 628.0,428.5 629.1,433.4C630.6,439.6 632.0,449.0 633.4,449.0C634.6,449.0 635.7,428.4 636.9,419.7C637.8,413.1 638.6,402.4 639.5,402.4C640.3,402.4 641.2,418.8 642.1,428.3C643.2,440.9 644.4,469.7 645.5,469.7C646.7,469.7 647.8,451.6 649.0,436.9C649.8,425.9 650.7,400.5 651.6,395.5C652.6,389.5 653.6,389.5 654.7,389.5C655.9,389.5 657.2,395.5 658.4,402.4C659.6,408.7 660.7,425.7 661.9,428.3C663.6,432.1 665.3,430.0 667.1,433.4C668.5,436.4 669.9,455.3 671.4,462.8C672.8,470.2 674.3,478.3 675.7,478.3C677.1,478.3 678.6,469.1 680.0,462.8C681.4,456.4 682.9,440.3 684.3,440.3C685.7,440.3 687.2,449.8 688.6,452.4C690.1,455.0 691.5,455.9 692.9,455.9C694.4,455.9 695.8,449.8 697.2,445.5C698.7,441.2 700.1,430.0 701.6,430.0C703.3,430.0 705.0,430.0 706.7,433.4C708.4,436.9 710.2,447.4 711.9,452.4C713.6,457.4 715.3,463.6 717.1,463.6C718.8,463.6 720.5,460.3 722.2,452.4C723.4,447.1 724.5,434.8 725.7,428.3C726.6,423.4 727.4,417.1 728.3,417.1C729.7,417.1 731.1,422.8 732.6,428.3C734.3,434.8 736.0,445.3 737.8,454.1C739.2,461.5 740.6,471.9 742.1,476.6C743.2,480.3 744.4,480.9 745.5,480.9C747.0,480.9 748.4,467.0 749.8,462.8C751.6,457.7 753.3,454.1 755.0,454.1C756.7,454.1 758.4,455.9 760.2,455.9C761.9,455.9 763.6,450.7 765.3,447.2C767.1,443.8 768.8,435.2 770.5,435.2C772.0,435.2 773.4,447.2 774.8,454.1C776.3,461.0 777.7,476.6 779.1,476.6C780.3,476.6 781.4,469.4 782.6,462.8C783.7,456.1 784.9,443.3 786.0,436.9C787.5,428.9 788.9,424.7 790.3,421.4C791.5,418.7 792.6,417.9 793.8,417.9C794.9,417.9 796.1,419.9 797.2,428.3C798.4,436.6 799.5,459.3 800.7,467.9C801.8,476.6 803.0,480.0 804.1,480.0C804.4,480.0 804.7,469.1 805.0,465.3C806.3,447.9 807.6,438.9 808.9,428.4C810.3,417.9 811.6,402.1 812.9,402.1C814.2,402.1 815.5,406.5 816.8,410.0C818.2,413.5 819.5,419.3 820.8,423.2C822.5,428.3 824.3,431.9 826.1,436.3C827.8,440.7 829.6,449.5 831.3,449.5C833.1,449.5 834.8,446.8 836.6,446.8C838.3,446.8 840.1,448.2 841.8,448.2C843.6,448.2 845.4,448.2 847.1,446.8C848.9,445.5 850.6,434.1 852.4,428.4C854.1,422.7 855.9,412.6 857.6,412.6C858.9,412.6 860.3,414.6 861.6,417.9C862.9,421.2 864.2,432.4 865.5,432.4C866.8,432.4 868.2,401.4 869.5,388.9C870.8,376.4 872.1,357.4 873.4,357.4C874.7,357.4 876.1,365.3 877.4,370.5C878.7,375.8 880.0,384.2 881.3,388.9C883.1,395.2 884.8,391.1 886.6,402.1C888.3,413.1 890.1,443.3 891.8,454.7C893.2,463.3 894.5,466.6 895.8,466.6C897.1,466.6 898.4,447.6 899.7,441.6C901.5,433.6 903.2,429.7 905.0,427.1C906.8,424.5 908.5,424.5 910.3,424.5C911.6,424.5 912.9,433.0 914.2,441.6C915.5,450.1 916.8,467.9 918.2,475.8C919.7,485.3 921.3,491.6 922.9,491.6C923.9,491.6 925.0,447.7 926.1,428.4C927.4,404.3 928.7,362.6 930.0,362.6C930.9,362.6 931.8,362.6 932.6,370.5C933.7,380.0 934.7,425.8 935.8,425.8C936.9,425.8 938.1,392.2 939.2,375.8C940.3,360.6 941.3,334.2 942.4,331.1C943.2,328.4 944.1,328.4 945.0,328.4C946.1,328.4 947.3,350.4 948.4,362.6C949.6,374.9 950.7,402.1 951.8,402.1C952.9,402.1 953.9,366.7 955.0,349.5C955.9,335.1 956.8,307.4 957.6,307.4C958.5,307.4 959.4,307.4 960.3,310.0C961.1,312.6 962.0,356.6 962.9,375.8C963.9,398.8 965.0,435.0 966.1,435.0C967.2,435.0 968.3,391.4 969.5,375.8C970.4,363.8 971.2,349.5 972.1,349.5C973.2,349.5 974.4,353.7 975.5,362.6C977.0,374.3 978.5,401.0 980.0,415.3C981.3,427.8 982.6,444.2 983.9,444.2C985.3,444.2 986.6,438.9 987.9,438.9C989.4,438.9 990.9,460.0 992.4,460.0C993.8,460.0 995.2,446.1 996.6,428.4C998.1,409.7 999.6,370.3 1001.1,349.5C1002.4,331.1 1003.7,308.7 1005.0,308.7C1005.9,308.7 1006.8,313.4 1007.6,323.2C1008.9,337.7 1010.3,371.8 1011.6,388.9C1012.9,406.1 1014.2,425.8 1015.5,425.8C1016.8,425.8 1018.2,415.5 1019.5,412.6C1020.8,409.8 1022.1,408.7 1023.4,408.7C1025.2,408.7 1026.9,418.1 1028.7,423.2C1030.4,428.2 1032.2,438.9 1033.9,438.9C1035.3,438.9 1036.6,438.9 1037.9,438.9C1039.2,438.9 1040.5,454.3 1041.8,460.0C1042.9,464.6 1043.9,470.5 1045.0,470.5C1046.1,470.5 1047.3,446.8 1048.4,428.4C1049.3,414.3 1050.2,378.4 1051.1,375.8C1051.9,373.2 1052.8,373.2 1053.7,373.2C1054.6,373.2 1055.4,388.9 1056.3,396.8C1057.2,404.7 1058.1,420.5 1058.9,420.5C1060.3,420.5 1061.6,400.2 1062.9,394.2C1063.9,389.4 1065.0,386.3 1066.1,386.3C1067.6,386.3 1069.2,391.9 1070.8,394.2C1072.5,396.8 1074.3,396.5 1076.1,400.8C1077.4,404.0 1078.7,406.8 1080.0,415.3C1081.1,422.6 1082.3,439.9 1083.4,446.8C1084.3,452.2 1085.2,454.7 1086.1,454.7C1087.1,454.7 1088.2,410.4 1089.2,388.9C1090.5,362.1 1091.8,326.4 1093.2,310.0C1094.0,299.0 1094.9,296.8 1095.8,296.8C1096.9,296.8 1098.1,320.5 1099.2,320.5C1100.4,320.5 1101.7,310.0 1102.9,310.0C1104.0,310.0 1105.2,316.0 1106.3,323.2C1107.6,331.4 1108.9,350.2 1110.3,357.4C1111.8,366.0 1113.4,367.9 1115.0,367.9C1116.5,367.9 1118.0,324.0 1119.5,310.0C1120.5,300.1 1121.6,291.6 1122.6,291.6C1123.6,291.6 1124.6,300.9 1125.5,310.0C1126.6,319.9 1127.6,341.6 1128.7,349.5C1129.6,356.1 1130.4,356.1 1131.3,356.1C1132.4,356.1 1133.4,317.2 1134.5,296.8C1135.6,274.7 1136.8,238.7 1137.9,228.4C1138.8,220.5 1139.6,220.5 1140.5,220.5C1141.8,220.5 1143.2,225.8 1144.5,227.1C1145.8,228.4 1147.1,228.4 1148.4,228.4C1149.7,228.4 1151.1,223.2 1152.4,223.2C1153.7,223.2 1155.0,223.2 1156.3,224.5C1157.6,225.8 1158.9,234.3 1160.3,244.2C1161.6,254.1 1162.9,274.5 1164.2,283.7C1165.5,292.9 1166.8,299.5 1168.2,299.5C1169.5,299.5 1170.8,280.6 1172.1,270.5C1173.4,260.4 1174.7,238.9 1176.1,238.9C1177.4,238.9 1178.7,238.9 1180.0,257.4C1180.9,269.6 1181.8,330.1 1182.6,349.5C1183.7,372.7 1184.7,378.4 1185.8,378.4C1186.9,378.4 1188.1,343.3 1189.2,323.2C1190.4,303.0 1191.5,260.8 1192.6,257.4C1193.5,254.7 1194.4,254.7 1195.3,254.7C1196.1,254.7 1197.0,273.6 1197.9,278.4C1198.8,283.2 1199.6,283.7 1200.5,283.7C1201.8,283.7 1203.0,256.0 1204.2,244.2C1205.4,233.3 1206.5,215.3 1207.6,215.3C1208.5,215.3 1209.4,215.3 1210.3,217.9C1211.1,220.5 1212.0,241.8 1212.9,249.5C1214.0,259.4 1215.2,267.9 1216.3,267.9C1217.5,267.9 1218.8,247.1 1220.0,238.9C1221.1,231.4 1222.3,220.5 1223.4,220.5C1224.6,220.5 1225.7,225.6 1226.8,231.1C1228.1,236.9 1229.3,251.9 1230.5,254.7C1231.7,257.4 1232.8,257.4 1233.9,257.4C1235.1,257.4 1236.2,227.8 1237.4,217.9C1238.4,208.8 1239.5,199.5 1240.5,199.5C1241.6,199.5 1242.6,210.8 1243.7,217.9C1244.8,225.6 1246.0,239.1 1247.1,244.2C1248.0,248.2 1248.9,248.2 1249.7,248.2C1250.9,248.2 1252.0,230.2 1253.2,223.2C1254.2,216.7 1255.3,208.9 1256.3,207.4C1257.2,206.1 1258.1,206.1 1258.9,206.1C1260.0,206.1 1261.1,217.9 1262.1,217.9C1263.0,217.9 1263.9,216.2 1264.7,215.3C1265.9,214.0 1267.0,211.3 1268.2,211.3C1269.0,211.3 1269.9,225.2 1270.8,244.2C1271.9,268.9 1273.1,321.5 1274.2,349.5C1275.5,381.8 1276.8,421.8 1278.2,421.8C1279.2,421.8 1280.3,373.8 1281.3,349.5C1282.4,325.1 1283.4,283.7 1284.5,275.8C1285.2,270.5 1285.9,270.5 1286.6,270.5C1287.7,270.5 1288.9,286.3 1290.0,286.3C1290.9,286.3 1291.8,271.5 1292.6,265.3C1293.4,259.7 1294.2,250.8 1295.0,250.8C1295.9,250.8 1296.8,265.0 1297.6,283.7C1298.5,302.3 1299.4,340.7 1300.3,362.6C1300.8,375.8 1301.3,394.2 1301.8,394.2C1302.9,394.2 1303.9,348.0 1305.0,323.2C1306.1,296.3 1307.3,255.8 1308.4,238.9C1309.3,226.0 1310.2,225.8 1311.1,225.8C1312.1,225.8 1313.2,225.8 1314.2,249.5C1315.1,269.2 1316.0,328.4 1316.8,362.6C1317.5,390.0 1318.2,436.3 1318.9,436.3C1320.0,436.3 1321.1,375.5 1322.1,349.5C1323.0,327.8 1323.9,294.9 1324.7,291.6C1325.4,288.9 1326.1,288.9 1326.8,288.9C1327.7,288.9 1328.6,306.5 1329.5,323.2C1330.4,339.8 1331.2,374.5 1332.1,388.9C1333.0,403.4 1333.9,410.0 1334.7,410.0C1335.6,410.0 1336.5,368.3 1337.4,349.5C1338.2,330.6 1339.1,302.1 1340.0,296.8C1340.9,291.6 1341.8,291.6 1342.6,291.6C1343.7,291.6 1344.7,316.1 1345.8,336.3C1346.8,356.5 1347.9,412.6 1348.9,412.6C1350.1,412.6 1351.2,373.2 1352.4,349.5C1353.5,325.8 1354.6,284.8 1355.8,270.5C1356.8,257.4 1357.9,257.4 1358.9,257.4C1360.0,257.4 1361.1,271.6 1362.1,283.7C1363.2,296.8 1364.4,333.7 1365.5,333.7C1366.4,333.7 1367.3,322.3 1368.2,310.0C1369.0,297.7 1369.9,270.1 1370.8,260.0C1371.7,249.9 1372.5,249.5 1373.4,249.5C1374.6,249.5 1375.7,256.8 1376.8,260.0C1377.9,262.9 1378.9,266.9 1380.0,267.9C1381.3,269.1 1382.6,268.2 1383.9,270.5C1385.3,272.9 1386.6,284.6 1387.9,291.6C1389.2,298.6 1390.5,306.5 1391.8,312.6C1393.2,318.8 1394.5,325.1 1395.8,328.4C1397.4,332.5 1398.9,333.7 1400.5,333.7C1402.0,333.7 1403.5,321.4 1405.0,310.0C1406.3,299.9 1407.6,278.9 1408.9,270.5C1410.3,262.2 1411.6,260.0 1412.9,260.0C1413.9,260.0 1415.0,260.0 1416.1,262.6C1417.0,265.0 1418.0,276.7 1418.9,296.8C1419.8,315.2 1420.7,356.9 1421.6,375.8C1422.5,394.6 1423.3,410.0 1424.2,410.0C1425.3,410.0 1426.3,361.8 1427.4,336.3C1428.4,310.9 1429.5,268.4 1430.5,257.4C1431.4,248.2 1432.3,248.2 1433.2,248.2C1434.0,248.2 1434.9,262.4 1435.8,283.7C1436.7,305.0 1437.5,354.3 1438.4,375.8C1439.3,397.3 1440.2,412.6 1441.1,412.6C1442.0,412.6 1443.0,357.4 1443.9,323.2C1444.8,292.1 1445.7,228.9 1446.6,217.9C1447.6,204.7 1448.7,204.7 1449.7,204.7C1450.8,204.7 1451.8,235.6 1452.9,270.5C1453.9,302.5 1454.8,372.1 1455.8,402.1C1456.8,434.8 1457.9,454.7 1458.9,454.7C1460.0,454.7 1461.1,393.8 1462.1,362.6C1463.0,336.7 1463.9,291.6 1464.7,283.7C1465.6,275.8 1466.5,275.8 1467.4,275.8C1468.2,275.8 1469.1,297.6 1470.0,310.0C1471.1,326.2 1472.3,346.3 1473.4,362.6C1474.7,381.5 1476.1,402.9 1477.4,415.3C1478.4,425.1 1479.5,432.4 1480.5,432.4C1481.9,432.4 1483.3,412.2 1484.7,402.1C1486.0,393.3 1487.2,378.9 1488.4,375.8C1489.8,372.2 1491.2,374.4 1492.6,370.5C1494.1,366.5 1495.6,353.5 1497.1,336.3C1498.2,323.2 1499.4,294.4 1500.5,283.7C1501.6,273.8 1502.6,273.2 1503.7,273.2C1504.6,273.2 1505.4,281.9 1506.3,296.8C1507.4,314.7 1508.4,357.9 1509.5,375.8C1510.4,390.7 1511.2,399.5 1512.1,399.5C1513.0,399.5 1513.9,361.8 1514.7,349.5C1515.7,335.9 1516.7,323.2 1517.6,323.2C1518.7,323.2 1519.7,328.4 1520.8,328.4C1521.9,328.4 1523.1,315.0 1524.2,310.0C1525.3,305.4 1526.3,299.5 1527.4,299.5C1528.4,299.5 1529.5,309.8 1530.5,315.3C1531.7,321.2 1532.8,333.7 1533.9,333.7C1535.3,333.7 1536.6,328.4 1537.9,328.4C1539.2,328.4 1540.5,335.4 1541.8,338.9C1543.2,342.5 1544.5,349.5 1545.8,349.5C1547.1,349.5 1548.4,346.8 1549.7,346.8C1551.5,346.8 1553.2,346.8 1555.0,349.5C1556.1,351.1 1557.1,389.7 1558.2,402.1C1559.6,418.6 1561.0,431.1 1562.4,431.1C1563.9,431.1 1565.4,419.4 1566.8,402.1C1568.2,386.9 1569.5,353.9 1570.8,336.3C1571.8,322.3 1572.9,310.8 1573.9,304.7C1575.1,298.2 1576.2,298.2 1577.4,298.2C1578.5,298.2 1579.6,310.8 1580.8,323.2C1582.0,336.4 1583.2,365.1 1584.5,375.8C1585.6,385.7 1586.8,386.3 1587.9,386.3C1589.2,386.3 1590.5,375.8 1591.8,370.5C1593.2,365.3 1594.5,359.1 1595.8,354.7C1597.1,350.4 1598.4,345.5 1599.7,344.2C1601.1,342.9 1602.4,342.9 1603.7,342.9C1605.0,342.9 1606.3,357.1 1607.6,362.6C1608.9,368.1 1610.3,375.8 1611.6,375.8C1613.3,375.8 1615.1,373.2 1616.8,373.2C1618.6,373.2 1620.4,383.7 1622.1,383.7C1623.4,383.7 1624.7,368.4 1626.1,362.6C1626.9,358.8 1627.8,353.4 1628.7,353.4C1629.7,353.4 1630.8,367.1 1631.8,375.8C1633.2,387.3 1634.6,406.9 1636.1,415.3C1637.1,421.5 1638.2,423.2 1639.2,423.2C1640.5,423.2 1641.8,407.6 1643.2,402.1C1644.5,396.6 1645.8,390.3 1647.1,390.3C1648.4,390.3 1649.7,392.7 1651.1,396.8C1652.4,401.0 1653.7,409.2 1655.0,415.3C1656.8,423.3 1658.5,436.3 1660.3,438.9C1662.0,441.6 1663.8,441.6 1665.5,441.6C1667.7,441.6 1669.9,438.9 1672.1,438.9C1674.3,438.9 1676.5,438.9 1678.7,438.9C1680.4,438.9 1682.2,433.0 1683.9,428.4C1685.7,423.8 1687.5,411.3 1689.2,411.3C1690.5,411.3 1691.8,426.4 1693.2,441.6C1694.5,456.7 1695.8,502.1 1697.1,502.1C1698.4,502.1 1699.7,481.1 1701.1,467.9C1702.4,454.7 1703.7,432.8 1705.0,423.2C1706.1,415.4 1707.1,412.6 1708.2,412.6C1709.3,412.6 1710.4,433.7 1711.6,433.7C1712.9,433.7 1714.2,431.3 1715.5,428.4C1716.8,425.6 1718.2,416.6 1719.5,416.6C1720.6,416.6 1721.8,433.7 1722.9,441.6C1724.4,451.9 1725.9,470.5 1727.4,470.5C1728.7,470.5 1730.0,458.2 1731.3,454.7C1732.6,451.2 1733.9,449.5 1735.3,449.5C1737.0,449.5 1738.8,449.5 1740.5,452.1C1741.8,454.1 1743.2,465.1 1744.5,470.5C1746.1,477.1 1747.6,487.6 1749.2,487.6C1750.7,487.6 1752.2,474.1 1753.7,470.5C1755.4,466.3 1757.2,465.3 1758.9,465.3C1760.7,465.3 1762.5,469.2 1764.2,469.2C1766.0,469.2 1767.7,464.6 1769.5,462.6C1771.2,460.7 1773.0,458.7 1774.7,457.4C1776.5,456.1 1778.2,454.7 1780.0,454.7C1781.8,454.7 1783.5,455.2 1785.3,456.1C1787.0,456.9 1788.8,458.5 1790.5,460.0C1792.3,461.5 1794.0,463.3 1795.8,465.3C1798.0,467.7 1800.2,471.0 1802.4,473.2C1804.6,475.4 1806.8,478.4 1808.9,478.4C1811.1,478.4 1813.3,474.0 1815.5,470.5C1817.3,467.7 1819.0,461.3 1820.8,460.0C1822.5,458.7 1824.3,458.7 1826.1,458.7C1827.8,458.7 1829.6,465.3 1831.3,465.3C1833.1,465.3 1834.8,465.3 1836.6,465.3C1837.9,465.3 1839.2,469.6 1840.5,473.2C1841.8,476.7 1843.2,483.4 1844.5,486.3C1846.1,489.8 1847.6,491.6 1849.2,491.6C1850.7,491.6 1852.2,482.1 1853.7,478.4C1855.0,475.2 1856.3,470.5 1857.6,470.5C1859.4,470.5 1861.1,470.5 1862.9,470.5C1864.6,470.5 1866.4,478.4 1868.2,478.4C1869.5,478.4 1870.8,473.2 1872.1,470.5" fill="none" stroke="#1f5fb0" stroke-opacity="0.42" stroke-width="5.9" stroke-linejoin="round" stroke-linecap="butt"/>
<path d="M111.9,420.9C113.6,421.1 119.1,421.8 122.2,422.1C125.4,422.4 127.4,422.1 130.9,422.6C134.3,423.0 138.6,424.1 142.9,424.8C147.2,425.5 152.4,426.1 156.7,426.9C161.0,427.7 165.3,428.9 168.8,429.5C172.2,430.1 174.5,430.5 177.4,430.7C180.3,430.8 183.2,430.8 186.0,430.3C188.9,429.9 191.5,428.4 194.7,427.8C197.8,427.1 201.6,427.0 205.0,426.6C208.4,426.1 211.9,426.0 215.3,425.2C218.8,424.3 222.2,422.4 225.7,421.4C229.1,420.4 231.7,419.7 236.0,419.1C240.3,418.6 246.1,418.6 251.6,418.3C257.0,418.0 263.0,417.4 268.8,417.4C274.5,417.4 281.7,418.2 286.0,418.3C290.3,418.4 290.9,418.3 294.7,417.9C298.4,417.6 304.1,416.9 308.4,416.2C312.8,415.5 316.8,414.3 320.5,414.0C324.3,413.7 327.4,413.8 330.9,414.5C334.3,415.1 338.0,417.1 341.2,417.9C344.4,418.8 346.1,419.5 349.8,419.7C353.6,419.8 355.6,418.9 363.6,418.6C371.7,418.3 388.0,418.1 398.1,417.9C408.2,417.8 417.6,417.6 424.0,417.6C430.3,417.5 432.3,417.3 436.0,417.6C439.8,417.8 443.2,418.3 446.4,419.1C449.5,419.9 452.7,421.7 455.0,422.4C457.3,423.1 458.2,423.1 460.2,423.4C462.2,423.8 464.5,424.5 467.1,424.5C469.7,424.4 472.5,423.6 475.7,423.1C478.9,422.6 482.6,422.2 486.0,421.7C489.5,421.3 492.9,420.9 496.4,420.5C499.8,420.2 503.3,419.8 506.7,419.7C510.2,419.5 513.6,419.5 517.1,419.7C520.5,419.8 524.3,420.6 527.4,420.5C530.6,420.5 533.7,419.9 536.0,419.3C538.3,418.7 539.2,417.7 541.2,417.1C543.2,416.4 545.2,415.6 548.1,415.3C551.0,415.1 555.0,415.1 558.4,415.3C561.9,415.5 565.3,416.5 568.8,416.6C572.2,416.6 575.7,416.2 579.1,415.9C582.6,415.5 586.0,415.0 589.5,414.5C592.9,414.0 596.4,413.3 599.8,412.8C603.3,412.2 606.7,411.6 610.2,411.4C613.6,411.1 617.1,411.2 620.5,411.4C624.0,411.6 627.4,412.0 630.9,412.4C634.3,412.8 637.8,413.3 641.2,413.6C644.7,414.0 648.4,414.1 651.6,414.5C654.7,414.9 657.3,415.6 660.2,415.9C663.0,416.1 666.2,416.4 668.8,416.2C671.4,416.0 673.1,415.5 675.7,414.8C678.3,414.1 681.4,412.8 684.3,411.9C687.2,411.0 690.1,410.1 692.9,409.3C695.8,408.5 698.7,407.9 701.6,407.2C704.4,406.6 707.3,406.0 710.2,405.5C713.0,405.0 715.9,404.7 718.8,404.1C721.7,403.6 724.3,402.8 727.4,402.4C730.6,402.0 734.6,402.0 737.8,401.6C740.9,401.1 743.5,400.5 746.4,399.8C749.3,399.1 752.1,398.4 755.0,397.2C757.9,396.1 761.2,393.8 763.6,392.9C766.1,392.1 767.6,391.9 769.7,392.1C771.7,392.2 773.5,392.8 775.7,393.8C777.8,394.8 780.0,397.0 782.6,398.1C785.2,399.3 788.3,400.0 791.2,400.7C794.1,401.4 797.5,402.0 799.8,402.4C802.1,402.8 802.8,402.7 805.0,403.1C807.2,403.5 809.8,403.9 812.9,404.7C816.0,405.5 819.9,407.2 823.4,407.9C826.9,408.6 830.4,408.8 833.9,408.7C837.5,408.6 840.5,407.8 844.5,407.4C848.4,406.9 853.2,406.5 857.6,406.1C862.0,405.6 866.4,405.0 870.8,404.7C875.2,404.4 879.6,404.6 883.9,404.2C888.3,403.8 892.7,403.0 897.1,402.1C901.5,401.2 905.9,399.9 910.3,398.9C914.6,398.0 919.0,397.2 923.4,396.3C927.8,395.4 932.2,394.9 936.6,393.7C941.0,392.5 945.4,390.4 949.7,388.9C954.1,387.5 958.5,387.0 962.9,385.0C967.3,383.0 971.7,379.7 976.1,377.1C980.4,374.5 984.8,371.8 989.2,369.2C993.6,366.6 998.0,363.7 1002.4,361.3C1006.8,358.9 1011.1,357.9 1015.5,354.7C1019.9,351.5 1024.3,346.8 1028.7,342.1C1033.1,337.4 1037.5,331.7 1041.8,326.3C1046.2,321.0 1051.1,315.7 1055.0,310.0C1058.9,304.3 1062.5,297.7 1065.5,292.1C1068.6,286.5 1071.2,281.7 1073.4,276.3C1075.6,271.0 1076.9,265.8 1078.7,260.0C1080.4,254.2 1082.2,247.7 1083.9,241.6C1085.7,235.4 1087.5,228.8 1089.2,223.2C1091.0,217.5 1092.7,212.3 1094.5,207.9C1096.2,203.5 1097.5,200.8 1099.7,196.8C1101.9,192.9 1104.1,189.5 1107.6,184.2C1111.1,178.9 1116.4,171.1 1120.8,165.3C1125.2,159.5 1129.6,154.1 1133.9,149.5C1138.3,144.9 1142.7,141.3 1147.1,137.6C1151.5,133.9 1155.9,130.4 1160.3,127.4C1164.6,124.3 1170.1,121.4 1173.4,119.5C1176.7,117.5 1177.1,116.9 1180.0,115.5C1182.9,114.2 1187.0,112.7 1190.5,111.3C1194.0,110.0 1197.5,108.5 1201.1,107.4C1204.6,106.3 1208.1,105.4 1211.6,104.7C1215.1,104.1 1218.6,103.5 1222.1,103.4C1225.6,103.3 1228.7,103.8 1232.6,104.2C1236.6,104.6 1241.4,105.5 1245.8,106.1C1250.2,106.6 1254.6,106.9 1258.9,107.4C1263.3,107.8 1267.7,108.3 1272.1,108.7C1276.5,109.0 1280.9,109.0 1285.3,109.5C1289.6,109.9 1294.0,110.6 1298.4,111.3C1302.8,112.1 1307.6,113.1 1311.6,113.9C1315.5,114.8 1319.0,116.1 1322.1,116.6C1325.2,117.0 1327.4,117.0 1330.0,116.6C1332.6,116.1 1334.8,115.0 1337.9,113.9C1341.0,112.9 1344.9,111.5 1348.4,110.0C1351.9,108.5 1355.9,106.0 1358.9,104.7C1362.0,103.5 1363.3,103.0 1366.8,102.6C1370.4,102.3 1375.2,102.6 1380.0,102.6C1384.8,102.6 1391.4,102.5 1395.8,102.6C1400.2,102.8 1402.8,103.0 1406.3,103.4C1409.8,103.9 1413.3,104.6 1416.8,105.3C1420.4,105.9 1423.9,106.6 1427.4,107.4C1430.9,108.2 1434.4,109.3 1437.9,110.0C1441.4,110.7 1444.9,111.4 1448.4,111.3C1451.9,111.2 1455.4,109.9 1458.9,109.5C1462.5,109.0 1466.0,108.5 1469.5,108.7C1473.0,108.9 1476.5,109.6 1480.0,110.5C1483.5,111.4 1487.5,113.2 1490.5,113.9C1493.6,114.7 1495.8,115.4 1498.4,115.3C1501.1,115.1 1503.2,113.4 1506.3,113.2C1509.4,112.9 1513.3,113.5 1516.8,113.9C1520.4,114.4 1523.9,115.0 1527.4,115.8C1530.9,116.5 1534.8,117.2 1537.9,118.4C1541.0,119.6 1543.6,121.7 1545.8,123.2C1548.0,124.6 1549.5,126.2 1551.1,127.1C1552.6,128.0 1553.0,127.1 1555.0,128.4C1557.0,129.7 1560.3,132.4 1562.9,135.0C1565.5,137.6 1568.2,141.1 1570.8,144.2C1573.4,147.3 1576.1,150.6 1578.7,153.4C1581.3,156.3 1583.9,158.9 1586.6,161.3C1589.2,163.7 1591.8,165.9 1594.5,167.9C1597.1,169.9 1600.2,170.5 1602.4,173.2C1604.6,175.8 1605.9,179.7 1607.6,183.7C1609.4,187.6 1611.1,192.5 1612.9,196.8C1614.6,201.2 1616.4,205.6 1618.2,210.0C1619.9,214.4 1621.9,219.6 1623.4,223.2C1625.0,226.7 1625.6,228.6 1627.4,231.1C1629.1,233.5 1631.5,234.6 1633.9,237.6C1636.4,240.7 1639.4,246.0 1641.8,249.5C1644.3,253.0 1646.3,256.3 1648.4,258.7C1650.5,261.1 1652.7,261.1 1654.5,263.9C1656.2,266.8 1657.5,272.9 1658.9,275.8C1660.4,278.6 1660.9,279.1 1662.9,281.1C1664.9,283.0 1668.2,285.4 1670.8,287.6C1673.4,289.8 1676.1,290.9 1678.7,294.2C1681.3,297.5 1684.4,304.1 1686.6,307.4C1688.8,310.7 1689.2,311.3 1691.8,313.9C1694.5,316.6 1698.9,319.9 1702.4,323.2C1705.9,326.4 1709.4,330.4 1712.9,333.7C1716.4,337.0 1720.4,340.0 1723.4,342.9C1726.5,345.7 1729.1,349.0 1731.3,350.8C1733.5,352.5 1734.4,353.1 1736.6,353.4C1738.8,353.7 1741.8,353.1 1744.5,352.6C1747.1,352.2 1750.0,351.0 1752.4,350.8C1754.8,350.6 1756.8,350.0 1758.9,351.6C1761.1,353.1 1763.3,357.1 1765.5,360.0C1767.7,362.9 1769.9,366.6 1772.1,369.2C1774.3,371.8 1776.3,373.8 1778.7,375.8C1781.1,377.8 1783.9,379.1 1786.6,381.1C1789.2,383.0 1791.8,385.9 1794.5,387.6C1797.1,389.4 1799.7,390.6 1802.4,391.6C1805.0,392.6 1807.6,393.0 1810.3,393.7C1812.9,394.3 1815.1,395.0 1818.2,395.5C1821.2,396.1 1825.6,396.4 1828.7,396.8C1831.8,397.3 1834.4,397.3 1836.6,398.2C1838.8,399.0 1840.1,400.4 1841.8,402.1C1843.6,403.9 1844.9,405.8 1847.1,408.7C1849.3,411.5 1852.4,416.1 1855.0,419.2C1857.6,422.3 1860.7,425.2 1862.9,427.1C1865.1,429.0 1866.5,430.5 1868.2,430.5C1869.8,430.5 1872.1,427.7 1872.9,427.1" fill="none" stroke="#05806a" stroke-width="5.6" stroke-linejoin="round"/>
<path d="M111.9,451.9C113.6,452.8 118.8,455.5 122.2,457.1C125.7,458.6 129.1,460.1 132.6,461.4C136.0,462.7 139.5,463.7 142.9,464.8C146.4,465.9 149.8,467.1 153.3,467.9C156.7,468.8 160.2,469.4 163.6,470.0C167.1,470.6 170.5,470.9 174.0,471.4C177.4,471.8 180.9,472.2 184.3,472.6C187.8,472.9 190.6,473.2 194.7,473.4C198.7,473.7 203.3,474.2 208.4,474.3C213.6,474.5 219.9,474.4 225.7,474.3C231.4,474.2 237.2,474.0 242.9,473.8C248.7,473.6 254.4,473.4 260.2,473.1C265.9,472.8 273.1,472.4 277.4,472.1C281.7,471.8 283.2,471.3 286.0,471.4C288.9,471.5 291.8,472.3 294.7,472.6C297.5,472.9 300.4,473.2 303.3,473.1C306.1,473.0 309.0,472.4 311.9,472.1C314.8,471.8 317.6,471.3 320.5,471.4C323.4,471.5 326.3,472.2 329.1,472.6C332.0,472.9 334.9,472.9 337.8,473.4C340.6,474.0 343.8,475.6 346.4,476.0C349.0,476.5 351.0,475.5 353.3,476.0C355.6,476.5 357.9,478.1 360.2,479.0C362.5,479.8 364.5,480.6 367.1,481.2C369.7,481.8 372.8,482.6 375.7,482.4C378.6,482.3 381.1,480.8 384.3,480.3C387.5,479.9 391.2,480.2 394.7,479.5C398.1,478.8 401.6,477.3 405.0,476.0C408.4,474.8 411.9,472.9 415.3,472.1C418.8,471.2 422.8,471.5 425.7,470.9C428.6,470.2 430.0,469.6 432.6,468.3C435.2,467.0 438.3,464.3 441.2,463.1C444.1,461.9 447.5,461.6 449.8,461.0C452.1,460.5 453.0,460.6 455.0,459.9C457.0,459.2 459.6,458.1 461.9,456.7C464.2,455.3 466.5,453.1 468.8,451.6C471.1,450.0 473.4,448.9 475.7,447.6C478.0,446.3 480.3,445.1 482.6,443.8C484.9,442.5 487.2,441.1 489.5,440.0C491.8,438.9 494.1,437.8 496.4,436.9C498.7,435.9 501.0,435.5 503.3,434.3C505.6,433.2 507.9,431.3 510.2,430.0C512.5,428.7 514.8,427.6 517.1,426.6C519.4,425.5 521.7,424.8 524.0,424.0C526.3,423.1 528.6,422.5 530.9,421.4C533.2,420.2 535.5,418.5 537.8,417.1C540.1,415.6 542.4,413.9 544.7,412.8C547.0,411.6 549.3,411.0 551.6,410.2C553.9,409.3 556.1,408.3 558.4,407.6C560.7,406.9 563.0,406.4 565.3,405.9C567.6,405.3 569.9,404.9 572.2,404.5C574.5,404.1 576.8,403.8 579.1,403.3C581.4,402.8 583.7,401.6 586.0,401.6C588.3,401.6 590.3,403.0 592.9,403.3C595.5,403.6 598.7,403.3 601.6,403.3C604.4,403.3 607.6,403.1 610.2,403.3C612.8,403.5 615.1,403.9 617.1,404.5C619.1,405.1 620.5,406.7 622.2,406.7C624.0,406.7 626.0,405.0 627.4,404.5C628.9,404.0 629.1,403.6 630.9,403.8C632.6,404.0 635.5,405.2 637.8,405.9C640.1,406.5 642.1,407.2 644.7,407.6C647.2,408.0 650.4,408.0 653.3,408.4C656.1,408.9 659.0,409.5 661.9,410.2C664.8,410.8 667.6,411.3 670.5,412.4C673.4,413.6 676.6,415.9 679.1,417.1C681.7,418.3 683.7,418.9 686.0,419.7C688.3,420.4 690.6,420.7 692.9,421.4C695.2,422.1 697.8,423.1 699.8,424.0C701.8,424.8 703.3,425.8 705.0,426.6C706.7,427.3 708.2,428.4 710.2,428.3C712.2,428.1 714.8,426.6 717.1,425.7C719.4,424.8 721.7,424.0 724.0,423.1C726.3,422.2 728.6,420.9 730.9,420.5C733.2,420.2 735.5,421.6 737.8,421.0C740.1,420.5 742.4,418.0 744.7,417.1C747.0,416.1 749.3,415.5 751.6,415.3C753.9,415.2 756.1,415.9 758.4,416.2C760.7,416.5 763.3,416.8 765.3,417.1C767.4,417.4 768.5,417.9 770.5,417.9C772.5,417.9 775.1,417.5 777.4,417.1C779.7,416.6 782.0,415.8 784.3,415.3C786.6,414.9 788.9,414.4 791.2,414.1C793.5,413.9 795.8,414.1 798.1,413.6C800.4,413.1 802.5,413.1 805.0,411.2C807.5,409.3 809.8,403.8 812.9,402.1C816.0,400.4 819.9,400.8 823.4,400.8C826.9,400.8 830.4,402.8 833.9,402.1C837.5,401.4 840.5,398.8 844.5,396.8C848.4,394.9 853.2,392.7 857.6,390.3C862.0,387.9 866.8,384.1 870.8,382.4C874.7,380.6 877.8,380.8 881.3,379.7C884.8,378.6 888.3,376.9 891.8,375.8C895.4,374.7 898.9,374.6 902.4,373.2C905.9,371.8 909.4,368.5 912.9,367.4C916.4,366.3 919.9,366.9 923.4,366.6C926.9,366.2 930.4,366.0 933.9,365.3C937.5,364.5 940.5,363.1 944.5,362.1C948.4,361.1 953.7,359.6 957.6,359.5C961.6,359.3 965.1,361.3 968.2,361.3C971.2,361.3 973.4,359.6 976.1,359.5C978.7,359.3 980.9,361.1 983.9,360.5C987.0,360.0 991.0,357.7 994.5,356.1C998.0,354.4 1001.9,352.5 1005.0,350.8C1008.1,349.0 1009.8,346.8 1012.9,345.5C1016.0,344.2 1019.9,344.2 1023.4,342.9C1026.9,341.6 1030.4,339.2 1033.9,337.6C1037.5,336.1 1041.0,335.4 1044.5,333.7C1048.0,331.9 1051.5,329.1 1055.0,327.1C1058.5,325.1 1062.0,323.8 1065.5,321.8C1069.0,319.9 1072.5,317.3 1076.1,315.3C1079.6,313.2 1083.1,311.2 1086.6,309.5C1090.1,307.7 1093.6,307.7 1097.1,304.7C1100.6,301.8 1104.1,295.3 1107.6,291.6C1111.1,287.9 1114.6,285.9 1118.2,282.4C1121.7,278.9 1125.6,273.6 1128.7,270.5C1131.8,267.5 1133.9,266.8 1136.6,263.9C1139.2,261.1 1141.4,257.1 1144.5,253.4C1147.5,249.7 1151.5,245.3 1155.0,241.6C1158.5,237.9 1162.5,233.7 1165.5,231.1C1168.6,228.4 1171.0,227.2 1173.4,225.8C1175.8,224.4 1177.6,224.0 1180.0,222.5C1182.4,221.0 1185.3,218.0 1187.9,216.6C1190.5,215.2 1192.7,214.6 1195.8,213.9C1198.9,213.3 1202.8,212.9 1206.3,212.6C1209.8,212.3 1213.8,212.3 1216.8,212.1C1219.9,211.9 1222.1,211.9 1224.7,211.3C1227.4,210.7 1230.0,208.6 1232.6,208.7C1235.3,208.8 1237.7,211.8 1240.5,212.1C1243.4,212.4 1246.7,210.0 1249.7,210.5C1252.8,211.1 1255.7,213.4 1258.9,215.3C1262.2,217.1 1266.0,219.6 1269.5,221.8C1273.0,224.0 1277.4,227.5 1280.0,228.4C1282.6,229.3 1282.6,225.6 1285.3,227.1C1287.9,228.6 1292.3,235.0 1295.8,237.6C1299.3,240.3 1302.8,240.9 1306.3,242.9C1309.8,244.9 1313.3,247.3 1316.8,249.5C1320.4,251.7 1323.9,254.3 1327.4,256.1C1330.9,257.8 1334.4,258.0 1337.9,260.0C1341.4,262.0 1344.9,265.3 1348.4,267.9C1351.9,270.5 1355.4,272.7 1358.9,275.8C1362.5,278.9 1366.0,283.0 1369.5,286.3C1373.0,289.6 1376.5,293.3 1380.0,295.5C1383.5,297.7 1387.0,297.7 1390.5,299.5C1394.0,301.2 1397.5,304.1 1401.1,306.1C1404.6,308.0 1408.1,309.8 1411.6,311.3C1415.1,312.9 1418.6,314.2 1422.1,315.3C1425.6,316.4 1429.6,317.5 1432.6,317.9C1435.7,318.2 1437.9,317.9 1440.5,317.4C1443.2,316.8 1445.8,314.2 1448.4,314.7C1451.1,315.3 1453.2,319.6 1456.3,320.5C1459.4,321.5 1463.8,320.3 1466.8,320.5C1469.9,320.7 1472.1,321.2 1474.7,321.8C1477.4,322.5 1479.6,324.3 1482.6,324.5C1485.7,324.6 1490.1,322.4 1493.2,322.6C1496.2,322.9 1498.4,325.3 1501.1,325.8C1503.7,326.3 1506.3,324.9 1508.9,325.8C1511.6,326.7 1514.2,329.7 1516.8,331.1C1519.5,332.4 1521.7,332.4 1524.7,333.7C1527.8,335.0 1531.8,337.2 1535.3,338.9C1538.8,340.7 1542.5,342.9 1545.8,344.2C1549.1,345.5 1551.7,345.5 1555.0,346.8C1558.3,348.2 1562.0,350.6 1565.5,352.1C1569.0,353.6 1572.5,354.5 1576.1,356.1C1579.6,357.6 1583.5,360.4 1586.6,361.3C1589.6,362.2 1591.8,360.2 1594.5,361.3C1597.1,362.4 1599.7,365.9 1602.4,367.9C1605.0,369.9 1607.6,371.8 1610.3,373.2C1612.9,374.5 1615.5,374.3 1618.2,375.8C1620.8,377.3 1623.4,381.1 1626.1,382.4C1628.7,383.7 1631.3,382.4 1633.9,383.7C1636.6,385.0 1639.2,388.3 1641.8,390.3C1644.5,392.2 1646.7,393.1 1649.7,395.5C1652.8,397.9 1656.8,401.9 1660.3,404.7C1663.8,407.6 1667.3,410.4 1670.8,412.6C1674.3,414.8 1677.8,415.7 1681.3,417.9C1684.8,420.1 1688.3,423.4 1691.8,425.8C1695.4,428.2 1698.9,430.4 1702.4,432.4C1705.9,434.3 1709.4,435.9 1712.9,437.6C1716.4,439.4 1719.9,441.1 1723.4,442.9C1726.9,444.6 1730.4,446.4 1733.9,448.2C1737.5,449.9 1741.0,451.9 1744.5,453.4C1748.0,455.0 1751.5,456.1 1755.0,457.4C1758.5,458.7 1762.0,460.0 1765.5,461.3C1769.0,462.6 1772.5,464.2 1776.1,465.3C1779.6,466.4 1783.1,467.1 1786.6,467.9C1790.1,468.7 1793.6,469.6 1797.1,470.0C1800.6,470.4 1804.1,470.4 1807.6,470.5C1811.1,470.6 1814.6,470.7 1818.2,470.5C1821.7,470.3 1825.2,470.1 1828.7,469.2C1832.2,468.3 1835.7,466.8 1839.2,465.3C1842.7,463.7 1846.2,462.0 1849.7,460.0C1853.2,458.0 1857.2,455.4 1860.3,453.4C1863.3,451.4 1866.1,449.6 1868.2,448.2C1870.3,446.7 1872.1,445.3 1872.9,444.7" fill="none" stroke="#9c0a35" stroke-width="6.2" stroke-linejoin="round"/>
<path d="M111.9,476.0C113.6,476.5 118.8,478.0 122.2,479.0C125.7,479.9 129.1,480.9 132.6,481.7C136.0,482.5 139.5,483.2 142.9,483.8C146.4,484.4 149.8,485.0 153.3,485.5C156.7,486.0 160.2,486.5 163.6,486.9C167.1,487.3 169.4,487.4 174.0,487.8C178.6,488.1 185.5,488.7 191.2,489.0C197.0,489.3 202.7,489.4 208.4,489.5C214.2,489.5 219.9,489.5 225.7,489.3C231.4,489.2 237.2,488.9 242.9,488.6C248.7,488.3 254.4,487.9 260.2,487.6C265.9,487.3 273.1,487.1 277.4,486.9C281.7,486.7 283.2,486.3 286.0,486.4C288.9,486.5 290.3,487.3 294.7,487.6C299.0,487.9 306.1,488.1 311.9,488.1C317.6,488.1 324.0,487.4 329.1,487.6C334.3,487.7 338.9,488.4 342.9,489.0C347.0,489.5 349.8,489.8 353.3,490.7C356.7,491.6 360.2,493.2 363.6,494.1C367.1,495.1 370.5,495.6 374.0,496.2C377.4,496.8 380.9,497.1 384.3,497.6C387.8,498.0 391.2,499.0 394.7,499.0C398.1,499.0 401.6,498.1 405.0,497.6C408.4,497.1 411.9,496.2 415.3,495.9C418.8,495.5 422.2,495.9 425.7,495.5C429.1,495.1 432.6,493.9 436.0,493.3C439.5,492.6 443.2,492.3 446.4,491.6C449.5,490.8 452.1,490.1 455.0,489.1C457.9,488.0 460.7,486.4 463.6,485.2C466.5,484.0 469.4,482.9 472.2,481.7C475.1,480.6 478.0,479.5 480.9,478.3C483.7,477.1 486.6,475.8 489.5,474.5C492.4,473.2 495.2,471.8 498.1,470.5C501.0,469.3 503.9,468.4 506.7,467.1C509.6,465.8 512.5,464.0 515.3,462.8C518.2,461.5 521.1,460.7 524.0,459.7C526.8,458.6 529.7,457.9 532.6,456.7C535.5,455.5 538.3,453.7 541.2,452.4C544.1,451.1 547.0,450.1 549.8,449.0C552.7,447.8 555.6,446.7 558.4,445.5C561.3,444.3 564.2,442.9 567.1,441.7C569.9,440.6 572.8,439.6 575.7,438.6C578.6,437.7 581.4,436.8 584.3,436.0C587.2,435.3 590.1,434.8 592.9,434.3C595.8,433.8 598.7,433.5 601.6,433.1C604.4,432.7 607.3,432.1 610.2,432.1C613.0,432.1 615.9,433.0 618.8,433.1C621.7,433.2 625.1,432.8 627.4,432.6C629.7,432.4 630.6,431.9 632.6,432.1C634.6,432.2 637.5,433.0 639.5,433.4C641.5,433.9 642.4,434.4 644.7,434.8C647.0,435.3 650.4,435.7 653.3,436.0C656.1,436.4 659.0,436.4 661.9,436.9C664.8,437.4 667.6,438.1 670.5,439.0C673.4,439.8 676.3,441.3 679.1,442.1C682.0,442.9 684.9,443.0 687.8,443.8C690.6,444.6 693.8,446.0 696.4,446.9C699.0,447.8 701.0,448.2 703.3,449.0C705.6,449.7 707.9,451.1 710.2,451.2C712.5,451.3 714.8,449.9 717.1,449.3C719.4,448.7 721.7,448.0 724.0,447.6C726.3,447.2 728.6,447.0 730.9,446.9C733.2,446.8 735.5,447.1 737.8,446.9C740.1,446.7 742.6,446.0 744.7,445.5C746.7,445.0 747.8,443.9 749.8,443.8C751.8,443.6 754.4,444.3 756.7,444.7C759.0,445.0 761.3,445.6 763.6,445.9C765.9,446.1 768.2,446.4 770.5,446.4C772.8,446.3 775.1,445.7 777.4,445.5C779.7,445.3 782.0,445.2 784.3,445.2C786.6,445.1 788.9,445.2 791.2,445.2C793.5,445.2 795.8,445.3 798.1,445.2C800.4,445.0 802.5,445.3 805.0,444.2C807.5,443.2 810.3,440.5 812.9,438.9C815.5,437.4 818.2,435.4 820.8,435.0C823.4,434.6 825.6,437.5 828.7,436.8C831.8,436.2 835.7,432.7 839.2,431.1C842.7,429.4 846.2,428.4 849.7,427.1C853.2,425.8 856.8,424.6 860.3,423.2C863.8,421.7 867.3,419.4 870.8,418.4C874.3,417.5 877.8,418.1 881.3,417.4C884.8,416.6 888.3,415.0 891.8,413.9C895.4,412.9 898.9,412.3 902.4,411.3C905.9,410.3 909.4,407.8 912.9,407.9C916.4,408.0 919.9,411.3 923.4,412.1C926.9,412.9 930.4,412.6 933.9,412.6C937.5,412.6 941.0,412.3 944.5,412.1C948.0,411.9 951.5,411.0 955.0,411.3C958.5,411.6 962.0,413.4 965.5,413.9C969.0,414.5 972.5,414.5 976.1,414.7C979.6,415.0 983.5,415.8 986.6,415.3C989.6,414.7 991.8,412.6 994.5,411.3C997.1,410.0 999.3,409.0 1002.4,407.4C1005.4,405.7 1009.4,403.1 1012.9,401.6C1016.4,400.0 1019.9,399.5 1023.4,398.2C1026.9,396.8 1030.4,395.2 1033.9,393.7C1037.5,392.1 1041.0,390.8 1044.5,388.9C1048.0,387.1 1051.5,384.6 1055.0,382.4C1058.5,380.2 1062.0,378.1 1065.5,375.8C1069.0,373.5 1072.5,370.8 1076.1,368.4C1079.6,366.0 1083.1,364.0 1086.6,361.3C1090.1,358.6 1093.6,355.4 1097.1,352.1C1100.6,348.8 1104.1,345.1 1107.6,341.6C1111.1,338.1 1114.6,335.0 1118.2,331.1C1121.7,327.1 1125.2,322.3 1128.7,317.9C1132.2,313.5 1135.7,309.1 1139.2,304.7C1142.7,300.4 1146.2,295.7 1149.7,291.6C1153.2,287.4 1156.8,282.8 1160.3,279.7C1163.8,276.7 1167.5,275.2 1170.8,273.2C1174.1,271.1 1177.1,268.8 1180.0,267.2C1182.9,265.7 1185.3,264.9 1187.9,263.9C1190.5,263.0 1192.7,261.9 1195.8,261.3C1198.9,260.7 1202.8,260.5 1206.3,260.5C1209.8,260.5 1213.3,261.2 1216.8,261.3C1220.4,261.4 1224.3,261.1 1227.4,261.3C1230.4,261.5 1232.6,262.1 1235.3,262.6C1237.9,263.2 1240.7,264.5 1243.2,264.7C1245.6,265.0 1247.1,263.2 1249.7,263.9C1252.4,264.7 1255.7,267.5 1258.9,269.2C1262.2,271.0 1266.4,272.7 1269.5,274.5C1272.5,276.2 1275.0,279.3 1277.4,279.7C1279.8,280.2 1281.3,276.4 1283.9,277.1C1286.6,277.8 1289.9,281.9 1293.2,283.7C1296.4,285.4 1300.2,286.3 1303.7,287.6C1307.2,288.9 1310.7,290.3 1314.2,291.6C1317.7,292.9 1321.7,294.4 1324.7,295.5C1327.8,296.6 1330.4,297.9 1332.6,298.2C1334.8,298.5 1335.3,296.5 1337.9,297.4C1340.5,298.2 1344.9,301.5 1348.4,303.4C1351.9,305.3 1355.4,306.7 1358.9,308.7C1362.5,310.7 1366.0,313.4 1369.5,315.3C1373.0,317.1 1376.9,319.1 1380.0,320.0C1383.1,320.9 1384.8,319.8 1387.9,320.5C1391.0,321.3 1394.9,323.4 1398.4,324.5C1401.9,325.6 1405.4,326.4 1408.9,327.1C1412.5,327.9 1416.0,328.5 1419.5,328.9C1423.0,329.4 1426.5,329.8 1430.0,329.7C1433.5,329.6 1437.5,329.0 1440.5,328.4C1443.6,327.9 1445.8,325.9 1448.4,326.3C1451.1,326.8 1453.2,330.3 1456.3,331.1C1459.4,331.8 1463.8,330.8 1466.8,331.1C1469.9,331.3 1472.1,331.7 1474.7,332.4C1477.4,333.0 1479.6,335.0 1482.6,335.0C1485.7,335.0 1490.1,332.1 1493.2,332.4C1496.2,332.6 1498.4,335.4 1501.1,336.3C1503.7,337.2 1506.3,336.8 1508.9,337.6C1511.6,338.5 1514.2,340.5 1516.8,341.6C1519.5,342.7 1521.7,342.7 1524.7,344.2C1527.8,345.7 1531.8,348.6 1535.3,350.8C1538.8,353.0 1542.5,355.8 1545.8,357.4C1549.1,358.9 1551.7,358.9 1555.0,360.0C1558.3,361.1 1562.0,362.4 1565.5,363.9C1569.0,365.5 1572.5,367.5 1576.1,369.2C1579.6,371.0 1583.5,373.5 1586.6,374.5C1589.6,375.5 1591.8,374.3 1594.5,375.3C1597.1,376.3 1599.7,378.8 1602.4,380.5C1605.0,382.3 1607.6,384.5 1610.3,385.8C1612.9,387.1 1615.5,387.0 1618.2,388.4C1620.8,389.8 1623.4,393.2 1626.1,394.2C1628.7,395.3 1631.3,393.4 1633.9,394.7C1636.6,396.1 1639.2,400.2 1641.8,402.1C1644.5,404.0 1646.7,403.9 1649.7,406.1C1652.8,408.2 1656.8,412.4 1660.3,415.3C1663.8,418.1 1667.3,421.2 1670.8,423.2C1674.3,425.1 1677.8,425.4 1681.3,427.1C1684.8,428.9 1688.3,431.7 1691.8,433.7C1695.4,435.7 1698.9,437.3 1702.4,438.9C1705.9,440.6 1709.4,442.0 1712.9,443.7C1716.4,445.4 1719.9,447.3 1723.4,448.9C1726.9,450.6 1730.4,452.0 1733.9,453.4C1737.5,454.8 1741.0,456.1 1744.5,457.4C1748.0,458.7 1751.5,460.0 1755.0,461.3C1758.5,462.6 1762.0,463.9 1765.5,465.3C1769.0,466.6 1772.5,468.1 1776.1,469.2C1779.6,470.3 1783.1,471.1 1786.6,471.8C1790.1,472.6 1793.6,473.1 1797.1,473.7C1800.6,474.3 1804.1,474.9 1807.6,475.3C1811.1,475.6 1814.6,475.7 1818.2,475.8C1821.7,475.9 1825.2,475.9 1828.7,475.8C1832.2,475.7 1835.7,475.7 1839.2,475.3C1842.7,474.8 1846.2,473.9 1849.7,473.2C1853.2,472.5 1857.2,471.7 1860.3,471.1C1863.3,470.4 1866.1,469.7 1868.2,469.2C1870.3,468.7 1872.1,468.1 1872.9,467.9" fill="none" stroke="#1f5fb0" stroke-width="6.2" stroke-linejoin="round"/>
</g>
<rect x="111.2" y="65.6" width="1817.3999999999999" height="460.6" fill="none" stroke="#8a8a8a" stroke-width="1.7"/>
<path d="M111.2,506.7h-3M111.2,462.6h-3M111.2,418.5h-3M111.2,374.4h-3M111.2,330.3h-3M111.2,286.1h-3M111.2,242.0h-3M111.2,197.9h-3M111.2,153.8h-3M111.2,109.7h-3M111.2,65.6h-3M1928.6,526.2h3M1928.6,434.1h3M1928.6,342.0h3M1928.6,249.8h3M1928.6,157.7h3M1928.6,65.6h3M279.5,526.2v3M453.6,526.2v3M627.8,526.2v3M801.9,526.2v3M976.0,526.2v3M1150.1,526.2v3M1324.2,526.2v3M1498.4,526.2v3M1672.5,526.2v3M1846.6,526.2v3M169.6,526.2v-3M169.6,65.6v3M262.5,526.2v-3M262.5,65.6v3M355.3,526.2v-3M355.3,65.6v3M448.2,526.2v-3M448.2,65.6v3M541.1,526.2v-3M541.1,65.6v3M634.0,526.2v-3M634.0,65.6v3M726.8,526.2v-3M726.8,65.6v3M819.7,526.2v-3M819.7,65.6v3M912.6,526.2v-3M912.6,65.6v3M1005.4,526.2v-3M1005.4,65.6v3M1098.3,526.2v-3M1098.3,65.6v3M1191.2,526.2v-3M1191.2,65.6v3M1284.0,526.2v-3M1284.0,65.6v3M1376.9,526.2v-3M1376.9,65.6v3M1469.8,526.2v-3M1469.8,65.6v3M1562.7,526.2v-3M1562.7,65.6v3M1655.5,526.2v-3M1655.5,65.6v3M1748.4,526.2v-3M1748.4,65.6v3M1841.3,526.2v-3M1841.3,65.6v3" stroke="#4d4d4d" stroke-width="1.4" fill="none"/>
<g font-size="26.1" text-anchor="end" fill="#000">
<text x="97.3" y="517.3">0</text>
<text x="97.3" y="473.2">1</text>
<text x="97.3" y="429.1">2</text>
<text x="97.3" y="385.0">3</text>
<text x="97.3" y="340.9">4</text>
<text x="97.3" y="296.8">5</text>
<text x="97.3" y="252.6">6</text>
<text x="97.3" y="208.5">7</text>
<text x="97.3" y="164.4">8</text>
<text x="97.3" y="120.3">9</text>
<text x="97.3" y="76.2">10</text>
</g>
<g font-size="26.1" text-anchor="start" fill="#000">
<text x="1943" y="536.8">0.0</text>
<text x="1943" y="444.7">0.2</text>
<text x="1943" y="352.6">0.4</text>
<text x="1943" y="260.4">0.6</text>
<text x="1943" y="168.3">0.8</text>
<text x="1943" y="76.2">1.0</text>
</g>
<text font-size="26.1" text-anchor="middle" transform="translate(54.9,295.7) rotate(-90)">Daily Evaporation (mm/day)</text>
<text font-size="26.1" text-anchor="middle" transform="translate(2019.8,298.9) rotate(-90)">NDVI</text>
<text font-size="39.8" text-anchor="middle" x="1015.8" y="46.6">US-Ne1</text>
<text font-size="28.5" x="11" y="70.1">a)</text>
<rect x="124.3" y="79.5" width="229" height="123.5" rx="6" ry="6" fill="#fff" fill-opacity="0.8" stroke="#dadada" stroke-width="1.4"/>
<rect x="130" y="94.9" width="61.3" height="11.2" fill="#9c0a35" fill-opacity="0.5"/>
<rect x="130" y="97.5" width="61.3" height="6" fill="#9c0a35"/>
<rect x="130" y="132.9" width="61.3" height="11.2" fill="#1f5fb0" fill-opacity="0.45"/>
<rect x="130" y="135.5" width="61.3" height="6" fill="#1f5fb0"/>
<rect x="132.2" y="174.1" width="57.6" height="5.6" fill="#05806a"/>
<g font-size="26.1" fill="#000">
<text x="208.5" y="108.9">Tower E</text>
<text x="208.5" y="147.3">CubeSat E</text>
<text x="208.5" y="185.7">NDVI</text>
</g>
</g>
<g id="panel2">
<rect x="762" y="644.8" width="1148.8" height="460.29999999999995" fill="#d0d3d4"/>
<path d="M169.6,644.8V1105.1M262.5,644.8V1105.1M355.3,644.8V1105.1M448.2,644.8V1105.1M541.1,644.8V1105.1M634.0,644.8V1105.1M726.8,644.8V1105.1M819.7,644.8V1105.1M912.6,644.8V1105.1M1005.4,644.8V1105.1M1098.3,644.8V1105.1M1191.2,644.8V1105.1M1284.0,644.8V1105.1M1376.9,644.8V1105.1M1469.8,644.8V1105.1M1562.7,644.8V1105.1M1655.5,644.8V1105.1M1748.4,644.8V1105.1M1841.3,644.8V1105.1" stroke="#626262" stroke-width="1.6" stroke-dasharray="6.2,12.9" stroke-dashoffset="2.4" fill="none"/>
<clipPath id="clip2"><rect x="111.2" y="644.8" width="1817.3999999999999" height="460.29999999999995"/></clipPath>
<g clip-path="url(#clip2)">
<path d="M111.9,1071.4C113.6,1059.3 115.3,1043.5 117.1,1035.2C118.8,1026.9 120.5,1021.4 122.2,1021.4C123.4,1021.4 124.5,1021.9 125.7,1023.1C127.1,1024.6 128.6,1030.0 130.0,1030.0C131.4,1030.0 132.9,1027.4 134.3,1027.4C135.7,1027.4 137.2,1029.0 138.6,1030.0C140.1,1031.0 141.5,1033.5 142.9,1033.5C144.4,1033.5 145.8,1030.9 147.2,1030.9C148.4,1030.9 149.5,1030.9 150.7,1033.5C152.1,1036.7 153.6,1048.6 155.0,1052.4C156.1,1055.6 157.3,1055.9 158.4,1055.9C159.6,1055.9 160.7,1044.7 161.9,1044.7C162.8,1044.7 163.6,1044.7 164.5,1045.6C165.3,1046.4 166.2,1060.0 167.1,1064.5C168.5,1072.1 169.9,1078.3 171.4,1078.3C172.8,1078.3 174.3,1077.6 175.7,1076.6C177.4,1075.4 179.1,1072.5 180.9,1071.4C183.2,1070.0 185.5,1069.7 187.8,1069.7C190.1,1069.7 192.4,1071.0 194.7,1071.4C197.0,1071.8 199.3,1072.0 201.6,1072.3C203.3,1072.5 205.0,1072.3 206.7,1073.1C208.4,1074.0 210.2,1078.3 211.9,1078.3C213.6,1078.3 215.3,1073.1 217.1,1071.4C218.8,1069.7 220.5,1068.0 222.2,1068.0C224.0,1068.0 225.7,1073.1 227.4,1074.9C229.1,1076.6 230.9,1078.3 232.6,1078.3C234.3,1078.3 236.0,1071.4 237.8,1071.4C240.1,1071.4 242.4,1071.4 244.7,1071.4C246.1,1071.4 247.5,1063.2 249.0,1059.3C250.1,1056.3 251.3,1051.6 252.4,1050.7C253.6,1049.9 254.7,1049.9 255.9,1049.9C257.0,1049.9 258.2,1053.5 259.3,1055.9C260.7,1058.9 262.2,1065.4 263.6,1066.2C265.1,1067.1 266.5,1067.1 267.9,1067.1C269.1,1067.1 270.2,1060.7 271.4,1059.3C272.8,1057.6 274.3,1057.6 275.7,1057.6C277.1,1057.6 278.6,1064.5 280.0,1064.5C281.4,1064.5 282.9,1060.8 284.3,1055.9C285.7,1051.0 287.2,1039.7 288.6,1035.2C289.8,1031.6 290.9,1030.0 292.1,1030.0C293.5,1030.0 294.9,1033.5 296.4,1033.5C297.5,1033.5 298.7,1033.1 299.8,1031.8C301.0,1030.5 302.1,1026.6 303.3,1025.7C304.4,1024.9 305.6,1024.9 306.7,1024.9C307.9,1024.9 309.0,1029.6 310.2,1035.2C311.6,1042.2 313.0,1058.2 314.5,1064.5C315.6,1069.6 316.8,1071.4 317.9,1071.4C319.4,1071.4 320.8,1053.8 322.2,1047.3C323.4,1042.0 324.5,1035.2 325.7,1035.2C326.8,1035.2 328.0,1042.7 329.1,1047.3C330.3,1051.9 331.4,1062.8 332.6,1062.8C333.7,1062.8 334.9,1048.7 336.0,1043.8C336.9,1040.2 337.8,1036.1 338.6,1036.1C339.8,1036.1 340.9,1041.4 342.1,1047.3C343.2,1053.2 344.4,1066.2 345.5,1071.4C346.7,1076.6 347.8,1078.3 349.0,1078.3C350.4,1078.3 351.8,1070.4 353.3,1064.5C354.4,1059.8 355.6,1049.9 356.7,1047.3C357.9,1044.7 359.0,1044.7 360.2,1044.7C361.6,1044.7 363.0,1052.3 364.5,1055.9C365.9,1059.5 367.4,1066.2 368.8,1066.2C370.2,1066.2 371.7,1056.0 373.1,1052.4C374.5,1048.9 376.0,1044.7 377.4,1044.7C378.9,1044.7 380.3,1051.2 381.7,1055.9C383.2,1060.6 384.6,1073.1 386.0,1073.1C387.2,1073.1 388.3,1073.1 389.5,1071.4C390.6,1069.7 391.8,1058.2 392.9,1054.2C394.1,1050.1 395.2,1047.3 396.4,1047.3C397.8,1047.3 399.3,1053.0 400.7,1055.9C401.8,1058.2 403.0,1062.8 404.1,1062.8C405.6,1062.8 407.0,1054.2 408.4,1054.2C409.9,1054.2 411.3,1055.3 412.8,1057.6C414.2,1059.9 415.6,1064.8 417.1,1068.0C418.5,1071.1 419.9,1074.8 421.4,1076.6C422.5,1078.0 423.7,1078.3 424.8,1078.3C426.0,1078.3 427.1,1068.1 428.3,1064.5C429.4,1060.9 430.6,1056.8 431.7,1056.8C432.9,1056.8 434.0,1059.9 435.2,1061.1C436.6,1062.5 438.0,1064.5 439.5,1064.5C440.9,1064.5 442.4,1060.2 443.8,1060.2C444.9,1060.2 446.1,1064.5 447.2,1064.5C448.4,1064.5 449.5,1057.9 450.7,1055.9C451.8,1053.9 453.0,1052.4 454.1,1052.4C454.4,1052.4 454.7,1053.0 455.0,1053.8C455.9,1056.2 456.7,1060.8 457.6,1064.2C458.7,1068.6 459.9,1077.1 461.0,1077.1C462.2,1077.1 463.3,1070.5 464.5,1067.6C465.6,1064.7 466.8,1060.7 467.9,1059.9C469.1,1059.0 470.2,1059.0 471.4,1059.0C472.5,1059.0 473.7,1062.4 474.8,1062.4C476.0,1062.4 477.1,1056.5 478.3,1053.8C479.7,1050.5 481.1,1044.3 482.6,1044.3C483.7,1044.3 484.9,1052.0 486.0,1055.6C487.2,1059.1 488.3,1065.9 489.5,1065.9C490.9,1065.9 492.4,1062.4 493.8,1062.4C495.2,1062.4 496.7,1063.3 498.1,1063.3C499.3,1063.3 500.4,1056.0 501.6,1050.4C503.0,1043.4 504.4,1032.4 505.9,1024.5C507.0,1018.2 508.2,1007.3 509.3,1007.3C510.2,1007.3 511.0,1007.3 511.9,1009.0C512.8,1010.7 513.6,1031.4 514.5,1031.4C515.3,1031.4 516.2,1028.1 517.1,1015.9C518.1,1001.3 519.1,961.4 520.2,946.9C521.3,931.6 522.4,928.0 523.4,928.0C524.3,928.0 525.2,928.2 526.0,946.9C527.1,969.4 528.1,1059.0 529.1,1059.0C530.2,1059.0 531.2,1016.5 532.2,981.4C533.0,954.1 533.9,898.1 534.7,878.0C535.7,852.1 536.7,852.1 537.8,852.1C538.7,852.1 539.7,856.8 540.7,865.9C541.7,875.5 542.8,896.6 543.8,909.0C544.7,919.3 545.5,934.9 546.4,934.9C547.2,934.9 548.1,933.4 549.0,932.3C549.8,931.1 550.7,928.0 551.6,928.0C552.2,928.0 552.9,935.8 553.6,946.9C554.4,959.0 555.1,982.3 555.9,998.7C556.6,1015.0 557.4,1045.2 558.1,1045.2C558.9,1045.2 559.7,1017.2 560.5,998.7C561.3,981.4 562.0,947.5 562.8,938.3C563.7,926.2 564.7,926.2 565.7,926.2C566.7,926.2 567.8,934.6 568.8,940.0C569.7,944.5 570.5,954.6 571.4,955.6C572.5,956.8 573.7,956.1 574.8,957.3C575.7,958.2 576.6,962.7 577.4,972.8C578.6,986.3 579.7,1017.0 580.9,1033.1C582.0,1049.2 583.2,1069.3 584.3,1069.3C585.7,1069.3 587.2,1065.0 588.6,1059.0C590.1,1053.0 591.5,1041.0 592.9,1033.1C594.7,1023.7 596.4,1007.3 598.1,1007.3C599.8,1007.3 601.6,1007.3 603.3,1012.4C604.7,1016.8 606.1,1040.9 607.6,1050.4C609.0,1059.9 610.5,1069.3 611.9,1069.3C613.3,1069.3 614.8,1060.7 616.2,1050.4C617.6,1040.0 619.1,1016.3 620.5,1007.3C622.0,998.2 623.4,996.1 624.8,996.1C626.3,996.1 627.7,1004.7 629.1,1007.3C630.9,1010.4 632.6,1012.4 634.3,1012.4C636.0,1012.4 637.8,1007.3 639.5,1007.3C640.6,1007.3 641.8,1018.2 642.9,1024.5C644.1,1030.8 645.2,1045.2 646.4,1045.2C647.5,1045.2 648.7,1036.0 649.8,1033.1C651.0,1030.3 652.1,1028.0 653.3,1028.0C654.4,1028.0 655.6,1038.6 656.7,1041.8C657.9,1044.9 659.0,1046.9 660.2,1046.9C661.9,1046.9 663.6,1041.8 665.3,1038.3C667.1,1034.9 668.8,1032.7 670.5,1026.2C672.0,1020.8 673.4,1009.0 674.8,1003.8C676.0,999.7 677.1,996.9 678.3,996.9C679.4,996.9 680.6,1002.1 681.7,1007.3C683.2,1013.7 684.6,1033.1 686.0,1033.1C687.5,1033.1 688.9,1032.2 690.3,1031.4C691.5,1030.8 692.6,1028.8 693.8,1028.8C695.2,1028.8 696.7,1033.1 698.1,1033.1C699.8,1033.1 701.6,1026.2 703.3,1026.2C704.7,1026.2 706.1,1031.1 707.6,1034.9C709.0,1038.6 710.5,1048.7 711.9,1048.7C713.3,1048.7 714.8,1048.7 716.2,1046.9C717.6,1045.2 719.1,1037.4 720.5,1033.1C722.0,1028.8 723.4,1023.6 724.8,1021.1C726.0,1019.0 727.1,1018.5 728.3,1018.5C729.7,1018.5 731.1,1028.3 732.6,1033.1C734.3,1038.9 736.0,1050.4 737.8,1050.4C739.2,1050.4 740.6,1044.1 742.1,1041.8C743.5,1039.5 744.9,1036.6 746.4,1036.6C748.1,1036.6 749.8,1040.0 751.6,1040.0C753.3,1040.0 755.0,1031.9 756.7,1024.5C758.2,1018.3 759.6,1000.4 761.0,1000.4C762.2,1000.4 763.3,1007.6 764.5,1015.9C765.6,1024.2 766.8,1050.4 767.9,1050.4C769.4,1050.4 770.8,1043.6 772.2,1041.8C773.4,1040.3 774.5,1040.0 775.7,1040.0C776.8,1040.0 778.0,1045.2 779.1,1045.2C780.3,1045.2 781.4,1032.0 782.6,1024.5C783.7,1017.0 784.9,1004.1 786.0,1000.4C787.2,996.6 788.3,998.8 789.5,995.2C790.6,991.7 791.8,975.1 792.9,972.8C793.8,971.1 794.7,971.1 795.5,971.1C796.7,971.1 797.8,985.4 799.0,998.7C800.1,1011.9 801.3,1039.3 802.4,1050.4C803.3,1058.7 804.1,1061.3 805.0,1061.3C806.1,1061.3 807.1,1038.4 808.2,1028.5C809.3,1017.7 810.4,1005.5 811.6,999.5C812.5,994.9 813.3,994.3 814.2,994.3C815.4,994.3 816.5,1006.4 817.6,1012.7C818.9,1019.5 820.1,1033.7 821.3,1033.7C822.7,1033.7 824.1,1012.7 825.5,1012.7C826.8,1012.7 828.0,1017.9 829.2,1017.9C830.4,1017.9 831.5,1012.1 832.6,1010.1C833.9,1007.7 835.3,1004.8 836.6,1004.8C837.9,1004.8 839.2,1014.4 840.5,1017.9C841.8,1021.5 843.2,1025.8 844.5,1025.8C846.2,1025.8 848.0,1019.3 849.7,1012.7C851.3,1006.8 852.9,996.2 854.5,989.0C856.0,982.2 857.5,970.6 858.9,970.6C860.3,970.6 861.6,985.1 862.9,989.0C864.2,992.9 865.5,994.3 866.8,994.3C868.0,994.3 869.1,964.5 870.3,954.8C871.3,945.9 872.4,937.7 873.4,937.7C874.7,937.7 876.1,949.3 877.4,954.8C878.2,958.4 879.1,965.3 880.0,965.3C881.1,965.3 882.3,954.8 883.4,954.8C884.6,954.8 885.9,958.2 887.1,965.3C888.5,973.5 889.9,993.1 891.3,1002.2C892.8,1011.8 894.3,1020.6 895.8,1020.6C897.3,1020.6 898.8,1015.7 900.3,1012.7C901.8,1009.5 903.4,1005.1 905.0,1002.2C906.8,998.9 908.5,994.3 910.3,994.3C911.6,994.3 912.9,1000.0 914.2,1007.4C915.5,1014.9 916.8,1030.3 918.2,1039.0C919.6,1048.9 921.1,1062.7 922.6,1062.7C923.8,1062.7 924.9,1008.4 926.1,981.1C926.9,960.1 927.8,929.8 928.7,917.9C929.6,906.1 930.4,906.1 931.3,906.1C932.4,906.1 933.4,925.7 934.5,941.6C935.4,956.3 936.4,996.9 937.4,996.9C938.2,996.9 938.9,955.8 939.7,941.6C940.4,929.1 941.1,915.3 941.8,915.3C942.7,915.3 943.6,915.3 944.5,917.9C945.5,921.1 946.6,942.2 947.6,954.8C948.8,968.5 949.9,996.9 951.1,996.9C952.2,996.9 953.3,955.7 954.5,941.6C955.4,930.8 956.2,919.3 957.1,919.3C958.2,919.3 959.2,919.3 960.3,923.2C961.1,926.5 962.0,955.0 962.9,967.9C963.9,983.5 965.0,1007.4 966.1,1007.4C967.2,1007.4 968.3,981.9 969.5,967.9C970.4,957.2 971.2,935.8 972.1,933.7C973.2,931.1 974.4,931.1 975.5,931.1C976.6,931.1 977.6,938.6 978.7,944.3C980.0,951.4 981.3,964.0 982.6,970.6C983.9,977.2 985.3,980.2 986.6,983.7C988.3,988.4 990.1,994.3 991.8,994.3C993.2,994.3 994.5,992.1 995.8,981.1C997.1,970.1 998.4,945.1 999.7,928.5C1001.1,911.8 1002.4,891.0 1003.7,881.1C1004.8,872.5 1006.0,870.6 1007.1,870.6C1008.2,870.6 1009.2,878.9 1010.3,889.0C1011.6,901.6 1012.9,928.1 1014.2,941.6C1015.4,953.4 1016.5,966.6 1017.6,966.6C1018.7,966.6 1019.7,950.4 1020.8,941.6C1021.8,932.9 1022.9,914.0 1023.9,914.0C1025.1,914.0 1026.2,914.0 1027.4,923.2C1028.5,932.4 1029.6,964.9 1030.8,981.1C1032.0,998.5 1033.2,1023.2 1034.5,1023.2C1035.6,1023.2 1036.8,1003.5 1037.9,994.3C1039.0,985.1 1040.2,967.9 1041.3,967.9C1042.2,967.9 1043.1,974.5 1043.9,981.1C1044.8,987.7 1045.7,1007.4 1046.6,1007.4C1047.5,1007.4 1048.3,964.8 1049.2,941.6C1050.0,920.8 1050.8,883.2 1051.6,875.8C1052.3,869.3 1053.0,869.3 1053.7,869.3C1054.6,869.3 1055.4,878.4 1056.3,889.0C1057.6,904.9 1058.9,939.9 1060.3,954.8C1061.6,969.7 1062.9,978.5 1064.2,978.5C1065.5,978.5 1066.8,976.3 1068.2,967.9C1069.2,961.3 1070.3,943.0 1071.3,936.4C1072.5,929.1 1073.6,927.2 1074.7,927.2C1076.1,927.2 1077.4,941.4 1078.7,954.8C1080.0,968.2 1081.3,995.1 1082.6,1007.4C1083.8,1018.1 1084.9,1025.8 1086.1,1025.8C1087.1,1025.8 1088.2,990.8 1089.2,967.9C1090.3,945.1 1091.3,905.0 1092.4,889.0C1093.5,871.7 1094.6,870.6 1095.8,870.6C1097.1,870.6 1098.4,876.7 1099.7,881.1C1101.5,887.0 1103.2,892.1 1105.0,902.2C1106.8,912.2 1108.5,929.2 1110.3,941.6C1111.8,952.8 1113.4,973.2 1115.0,973.2C1116.1,973.2 1117.1,928.0 1118.2,902.2C1119.2,876.3 1120.3,821.1 1121.3,817.9C1122.2,815.3 1123.1,815.3 1123.9,815.3C1125.1,815.3 1126.2,845.3 1127.4,862.7C1128.7,882.8 1130.0,928.5 1131.3,928.5C1132.6,928.5 1133.9,875.8 1135.3,849.5C1136.4,826.7 1137.5,787.9 1138.7,781.1C1139.6,775.8 1140.4,775.8 1141.3,775.8C1142.5,775.8 1143.8,786.4 1145.0,786.4C1146.1,786.4 1147.3,772.8 1148.4,765.3C1149.6,757.9 1150.7,745.9 1151.8,741.6C1152.9,737.7 1153.9,737.7 1155.0,737.7C1156.3,737.7 1157.6,745.4 1158.9,757.4C1160.3,769.5 1161.6,797.7 1162.9,810.1C1164.6,826.6 1166.4,839.0 1168.2,839.0C1169.5,839.0 1170.8,824.7 1172.1,817.9C1173.4,811.1 1174.7,798.2 1176.1,798.2C1177.4,798.2 1178.7,798.2 1180.0,810.1C1180.9,817.9 1181.8,856.5 1182.6,875.8C1183.7,899.1 1184.7,936.4 1185.8,936.4C1186.9,936.4 1188.1,895.6 1189.2,875.8C1190.1,860.6 1191.0,837.7 1191.8,831.1C1192.7,824.5 1193.6,824.5 1194.5,824.5C1195.4,824.5 1196.2,834.0 1197.1,836.4C1198.0,838.8 1198.9,839.0 1199.7,839.0C1201.1,839.0 1202.4,812.5 1203.7,802.2C1205.0,791.9 1206.3,782.3 1207.6,777.2C1208.5,773.7 1209.4,773.2 1210.3,773.2C1211.6,773.2 1212.9,778.9 1214.2,781.1C1215.5,783.3 1216.8,786.4 1218.2,786.4C1219.3,786.4 1220.4,759.5 1221.6,749.5C1222.6,740.3 1223.7,728.5 1224.7,728.5C1225.8,728.5 1226.8,736.8 1227.9,744.3C1229.0,752.4 1230.2,775.8 1231.3,775.8C1232.6,775.8 1233.9,755.1 1235.3,744.3C1236.1,737.0 1237.0,723.2 1237.9,721.9C1238.8,720.6 1239.6,720.6 1240.5,720.6C1241.6,720.6 1242.6,733.0 1243.7,744.3C1244.8,756.4 1246.0,778.8 1247.1,791.6C1247.7,798.5 1248.3,807.4 1248.9,807.4C1250.1,807.4 1251.2,782.4 1252.4,770.6C1253.7,756.9 1255.0,742.3 1256.3,731.1C1257.2,723.6 1258.1,718.1 1258.9,712.7C1260.3,704.6 1261.6,697.2 1262.9,691.6C1264.0,686.8 1265.2,681.1 1266.3,681.1C1267.4,681.1 1268.4,681.1 1269.5,691.6C1270.4,700.4 1271.2,726.7 1272.1,757.4C1273.0,788.1 1273.9,841.9 1274.7,875.8C1275.8,916.6 1276.8,978.5 1277.9,978.5C1278.9,978.5 1279.8,933.2 1280.8,902.2C1281.7,873.9 1282.5,821.9 1283.4,802.2C1284.3,782.4 1285.2,782.4 1286.1,782.4C1287.1,782.4 1288.2,796.9 1289.2,796.9C1290.1,796.9 1291.0,781.1 1291.8,775.8C1292.7,770.6 1293.6,765.3 1294.5,765.3C1295.4,765.3 1296.2,773.2 1297.1,791.6C1298.0,810.1 1298.9,847.6 1299.7,875.8C1300.4,898.5 1301.1,944.3 1301.8,944.3C1302.9,944.3 1303.9,882.0 1305.0,849.5C1306.1,817.1 1307.1,769.5 1308.2,749.5C1309.1,731.2 1310.1,731.1 1311.1,731.1C1312.1,731.1 1313.2,731.1 1314.2,757.4C1315.1,779.4 1316.0,836.8 1316.8,875.8C1317.7,914.9 1318.6,991.6 1319.5,991.6C1320.4,991.6 1321.2,917.1 1322.1,875.8C1322.8,842.9 1323.5,781.1 1324.2,770.6C1324.8,761.4 1325.4,761.4 1326.1,761.4C1326.9,761.4 1327.8,773.4 1328.7,796.9C1329.6,820.4 1330.4,874.5 1331.3,902.2C1332.2,929.8 1333.1,962.7 1333.9,962.7C1335.0,962.7 1336.1,931.6 1337.1,915.3C1338.0,901.7 1338.9,878.5 1339.7,873.2C1340.6,867.9 1341.5,867.9 1342.4,867.9C1343.3,867.9 1344.3,886.0 1345.3,902.2C1346.3,919.8 1347.4,970.6 1348.4,970.6C1349.5,970.6 1350.5,925.7 1351.6,902.2C1352.7,876.6 1353.9,840.3 1355.0,823.2C1356.1,806.1 1357.3,799.5 1358.4,799.5C1359.5,799.5 1360.5,808.7 1361.6,823.2C1362.5,835.3 1363.3,863.1 1364.2,875.8C1365.1,888.6 1366.0,899.5 1366.8,899.5C1367.7,899.5 1368.6,841.2 1369.5,823.2C1370.4,805.2 1371.2,791.6 1372.1,791.6C1373.2,791.6 1374.2,793.9 1375.3,802.2C1376.4,811.1 1377.5,835.5 1378.7,844.3C1379.8,853.0 1381.0,854.8 1382.1,854.8C1383.2,854.8 1384.2,838.1 1385.3,833.7C1386.3,829.4 1387.4,828.5 1388.4,828.5C1389.6,828.5 1390.7,840.3 1391.8,849.5C1393.2,860.2 1394.5,879.6 1395.8,889.0C1397.1,898.4 1398.4,906.1 1399.7,906.1C1401.5,906.1 1403.2,892.6 1405.0,875.8C1406.3,863.3 1407.6,835.8 1408.9,823.2C1410.0,813.1 1411.1,804.8 1412.1,804.8C1413.2,804.8 1414.4,804.8 1415.5,807.4C1416.4,809.4 1417.3,816.2 1418.2,836.4C1419.0,856.5 1419.9,904.9 1420.8,928.5C1421.9,959.2 1423.1,992.9 1424.2,992.9C1425.3,992.9 1426.3,929.6 1427.4,902.2C1428.4,874.7 1429.5,839.5 1430.5,828.5C1431.4,819.3 1432.3,819.3 1433.2,819.3C1434.0,819.3 1434.9,826.9 1435.8,849.5C1436.7,872.1 1437.5,929.6 1438.4,954.8C1439.1,975.0 1439.8,991.6 1440.5,991.6C1441.6,991.6 1442.6,937.1 1443.7,902.2C1444.6,873.1 1445.4,808.2 1446.3,802.2C1447.5,794.3 1448.6,794.3 1449.7,794.3C1450.9,794.3 1452.0,816.6 1453.2,849.5C1454.2,880.0 1455.3,951.3 1456.3,981.1C1457.2,1006.0 1458.1,1020.6 1458.9,1020.6C1460.0,1020.6 1461.1,959.1 1462.1,928.5C1463.0,903.0 1463.9,858.7 1464.7,852.2C1465.4,846.9 1466.1,846.9 1466.8,846.9C1467.7,846.9 1468.6,865.2 1469.5,875.8C1470.8,891.9 1472.1,910.9 1473.4,928.5C1474.7,946.0 1476.1,967.5 1477.4,981.1C1478.7,994.7 1480.0,1010.1 1481.3,1010.1C1482.6,1010.1 1483.9,990.3 1485.3,981.1C1486.6,971.9 1487.9,961.4 1489.2,954.8C1490.5,948.2 1491.8,950.4 1493.2,941.6C1494.5,932.9 1495.8,919.4 1497.1,902.2C1498.2,887.2 1499.4,854.0 1500.5,846.9C1501.6,840.3 1502.6,840.3 1503.7,840.3C1504.7,840.3 1505.8,848.8 1506.8,862.7C1508.0,877.7 1509.1,911.8 1510.3,928.5C1511.1,941.3 1512.0,954.8 1512.9,954.8C1513.8,954.8 1514.6,923.4 1515.5,915.3C1516.8,903.3 1518.2,902.2 1519.5,902.2C1520.8,902.2 1522.1,907.4 1523.4,907.4C1524.6,907.4 1525.7,904.8 1526.8,904.8C1528.3,904.8 1529.8,912.7 1531.3,912.7C1532.6,912.7 1533.9,896.5 1535.3,891.6C1536.6,886.8 1537.9,883.7 1539.2,883.7C1540.4,883.7 1541.5,897.2 1542.6,902.2C1543.7,906.7 1544.7,912.7 1545.8,912.7C1546.8,912.7 1547.9,902.5 1548.9,899.5C1549.8,897.0 1550.7,895.6 1551.6,895.6C1552.7,895.6 1553.9,900.1 1555.0,915.3C1556.1,929.3 1557.1,964.5 1558.2,981.1C1559.6,1003.2 1561.0,1025.8 1562.4,1025.8C1563.9,1025.8 1565.4,998.5 1566.8,981.1C1568.2,965.8 1569.5,943.8 1570.8,928.5C1571.8,916.2 1572.9,901.8 1573.9,896.9C1575.1,891.6 1576.2,891.6 1577.4,891.6C1578.5,891.6 1579.6,907.3 1580.8,915.3C1582.0,924.0 1583.2,941.6 1584.5,941.6C1585.6,941.6 1586.8,941.6 1587.9,939.0C1589.0,936.4 1590.2,925.8 1591.3,925.8C1592.4,925.8 1593.4,933.9 1594.5,936.4C1595.8,939.4 1597.1,941.6 1598.4,941.6C1599.7,941.6 1601.1,928.5 1602.4,925.8C1603.7,923.2 1605.0,923.2 1606.3,923.2C1607.6,923.2 1608.9,933.7 1610.3,933.7C1611.6,933.7 1612.9,932.4 1614.2,932.4C1615.5,932.4 1616.8,944.5 1618.2,949.5C1619.7,955.6 1621.3,965.3 1622.9,965.3C1624.1,965.3 1625.4,957.0 1626.6,954.8C1627.7,952.7 1628.9,952.2 1630.0,952.2C1631.1,952.2 1632.3,965.2 1633.4,975.8C1634.5,985.6 1635.5,1004.4 1636.6,1012.7C1637.5,1019.6 1638.3,1023.2 1639.2,1023.2C1640.3,1023.2 1641.3,1004.4 1642.4,994.3C1643.5,983.3 1644.6,960.1 1645.8,960.1C1646.9,960.1 1648.1,965.2 1649.2,970.6C1650.4,976.4 1651.7,986.5 1652.9,994.3C1654.3,1003.2 1655.7,1020.6 1657.1,1020.6C1658.2,1020.6 1659.2,1019.1 1660.3,1017.9C1661.6,1016.5 1662.9,1012.7 1664.2,1012.7C1666.0,1012.7 1667.7,1018.4 1669.5,1023.2C1671.2,1028.0 1673.0,1037.9 1674.7,1041.6C1676.5,1045.4 1678.2,1045.6 1680.0,1045.6C1681.8,1045.6 1683.5,1037.5 1685.3,1033.7C1686.6,1030.9 1687.9,1025.8 1689.2,1025.8C1690.5,1025.8 1691.8,1034.5 1693.2,1039.0C1694.9,1045.0 1696.7,1057.4 1698.4,1057.4C1699.7,1057.4 1701.1,1048.6 1702.4,1044.3C1703.7,1039.9 1705.0,1031.1 1706.3,1031.1C1707.6,1031.1 1708.9,1036.4 1710.3,1036.4C1711.6,1036.4 1712.9,1036.4 1714.2,1033.7C1715.5,1031.1 1716.8,1017.3 1718.2,1012.7C1719.2,1009.0 1720.3,1007.4 1721.3,1007.4C1722.5,1007.4 1723.6,1027.2 1724.7,1033.7C1725.9,1040.3 1727.0,1046.9 1728.2,1046.9C1729.2,1046.9 1730.3,1023.2 1731.3,1020.6C1732.4,1017.9 1733.4,1017.9 1734.5,1017.9C1736.1,1017.9 1737.6,1027.2 1739.2,1033.7C1741.0,1041.0 1742.7,1053.2 1744.5,1060.1C1746.1,1066.2 1747.6,1073.2 1749.2,1073.2C1750.7,1073.2 1752.2,1064.5 1753.7,1057.4C1755.0,1051.2 1756.3,1036.4 1757.6,1033.7C1758.9,1031.1 1760.3,1031.1 1761.6,1031.1C1762.9,1031.1 1764.2,1041.6 1765.5,1041.6C1766.8,1041.6 1768.2,1037.7 1769.5,1036.4C1770.8,1035.1 1772.1,1033.7 1773.4,1033.7C1774.7,1033.7 1776.1,1047.1 1777.4,1052.2C1778.5,1056.6 1779.6,1062.7 1780.8,1062.7C1782.3,1062.7 1783.8,1048.3 1785.3,1044.3C1786.6,1040.7 1787.9,1039.0 1789.2,1039.0C1790.5,1039.0 1791.8,1052.2 1793.2,1052.2C1794.5,1052.2 1795.8,1046.7 1797.1,1044.3C1798.4,1041.9 1799.7,1037.7 1801.1,1037.7C1802.4,1037.7 1803.7,1053.0 1805.0,1057.4C1806.6,1062.7 1808.2,1065.3 1809.7,1065.3C1811.7,1065.3 1813.6,1058.0 1815.5,1054.8C1817.3,1051.9 1819.0,1046.9 1820.8,1046.9C1822.5,1046.9 1824.3,1052.2 1826.1,1052.2C1827.8,1052.2 1829.6,1044.7 1831.3,1041.6C1833.1,1038.6 1834.8,1033.7 1836.6,1033.7C1837.9,1033.7 1839.2,1043.4 1840.5,1049.5C1841.8,1055.7 1843.2,1065.8 1844.5,1070.6C1845.8,1075.4 1847.1,1078.5 1848.4,1078.5C1849.7,1078.5 1851.1,1069.5 1852.4,1065.3C1854.1,1059.8 1855.9,1052.8 1857.6,1049.5C1859.4,1046.2 1861.1,1045.6 1862.9,1045.6C1864.6,1045.6 1866.4,1049.5 1868.2,1049.5C1869.5,1049.5 1870.8,1044.3 1872.1,1041.6" fill="none" stroke="#9c0a35" stroke-opacity="0.5" stroke-width="5.9" stroke-linejoin="round" stroke-linecap="butt"/>
<path d="M111.9,1078.3C113.6,1074.3 115.3,1069.7 117.1,1066.2C118.8,1062.8 120.5,1059.8 122.2,1057.6C124.0,1055.5 125.7,1054.2 127.4,1053.3C128.9,1052.6 130.3,1052.4 131.7,1052.4C133.2,1052.4 134.6,1055.6 136.0,1056.8C137.8,1058.2 139.5,1060.2 141.2,1060.2C142.9,1060.2 144.7,1059.9 146.4,1059.3C148.1,1058.8 149.8,1056.8 151.6,1056.8C153.3,1056.8 155.0,1059.9 156.7,1060.2C158.4,1060.5 160.2,1060.3 161.9,1061.1C163.0,1061.6 164.2,1064.8 165.3,1068.0C166.5,1071.1 167.6,1078.0 168.8,1080.0C170.2,1082.6 171.7,1082.6 173.1,1082.6C175.1,1082.6 177.1,1081.6 179.1,1080.9C181.4,1080.1 183.7,1079.5 186.0,1078.3C187.8,1077.4 189.5,1074.9 191.2,1074.9C192.9,1074.9 194.7,1076.0 196.4,1076.6C198.1,1077.2 199.8,1077.5 201.6,1078.3C203.0,1079.0 204.4,1079.9 205.9,1080.9C207.3,1081.9 208.7,1084.3 210.2,1084.3C211.9,1084.3 213.6,1081.4 215.3,1080.0C216.8,1078.9 218.2,1076.6 219.7,1076.6C221.1,1076.6 222.5,1080.0 224.0,1080.0C225.7,1080.0 227.4,1080.0 229.1,1080.0C230.6,1080.0 232.0,1083.5 233.4,1083.5C235.2,1083.5 236.9,1081.3 238.6,1080.9C240.6,1080.5 242.6,1080.8 244.7,1080.0C246.4,1079.4 248.1,1076.0 249.8,1074.9C251.6,1073.7 253.3,1073.7 255.0,1073.1C256.7,1072.6 258.4,1072.3 260.2,1071.4C261.9,1070.6 263.6,1068.0 265.3,1068.0C267.1,1068.0 268.8,1068.4 270.5,1069.7C272.0,1070.8 273.4,1073.3 274.8,1074.9C276.3,1076.4 277.7,1079.2 279.1,1079.2C280.6,1079.2 282.0,1076.4 283.4,1073.1C284.9,1069.8 286.3,1062.5 287.8,1059.3C288.9,1056.8 290.1,1055.0 291.2,1055.0C292.6,1055.0 294.1,1055.9 295.5,1055.9C297.0,1055.9 298.4,1050.9 299.8,1049.0C301.3,1047.1 302.7,1044.7 304.1,1044.7C305.6,1044.7 307.0,1048.0 308.4,1052.4C309.9,1056.9 311.3,1066.7 312.8,1071.4C314.2,1076.2 315.6,1080.9 317.1,1080.9C318.8,1080.9 320.5,1078.5 322.2,1076.6C324.0,1074.7 325.7,1072.6 327.4,1069.7C328.9,1067.3 330.3,1064.2 331.7,1061.1C333.2,1057.9 334.6,1052.2 336.0,1050.7C336.9,1049.9 337.8,1049.9 338.6,1049.9C339.8,1049.9 340.9,1059.8 342.1,1064.5C343.5,1070.4 344.9,1081.8 346.4,1081.8C347.8,1081.8 349.3,1081.5 350.7,1080.0C352.1,1078.6 353.6,1075.0 355.0,1073.1C356.7,1070.9 358.4,1068.0 360.2,1068.0C361.9,1068.0 363.6,1070.3 365.3,1071.4C367.1,1072.6 368.8,1074.9 370.5,1074.9C372.2,1074.9 374.0,1073.1 375.7,1073.1C377.4,1073.1 379.1,1073.7 380.9,1074.9C382.6,1076.0 384.3,1080.0 386.0,1080.0C387.8,1080.0 389.5,1080.0 391.2,1080.0C393.5,1080.0 395.8,1077.4 398.1,1077.4C400.4,1077.4 402.7,1077.4 405.0,1077.4C407.3,1077.4 409.6,1077.4 411.9,1078.3C413.6,1079.0 415.3,1081.5 417.1,1082.6C418.8,1083.8 420.5,1085.2 422.2,1085.2C424.0,1085.2 425.7,1081.8 427.4,1080.9C429.7,1079.7 432.0,1079.6 434.3,1079.2C436.6,1078.7 438.9,1078.3 441.2,1078.3C442.9,1078.3 444.7,1078.3 446.4,1078.3C448.1,1078.3 449.8,1075.7 451.6,1075.7C452.7,1075.7 453.9,1075.7 455.0,1076.4C456.7,1077.4 458.4,1082.3 460.2,1082.3C461.9,1082.3 463.6,1080.1 465.3,1079.7C467.6,1079.1 469.9,1079.4 472.2,1078.8C474.0,1078.4 475.7,1077.0 477.4,1076.2C479.1,1075.5 480.9,1074.5 482.6,1074.5C484.9,1074.5 487.2,1077.2 489.5,1078.0C491.8,1078.7 494.1,1078.8 496.4,1078.8C498.1,1078.8 499.8,1077.5 501.6,1074.5C503.3,1071.5 505.0,1063.7 506.7,1060.7C508.2,1058.2 509.6,1057.3 511.0,1057.3C512.5,1057.3 513.9,1067.6 515.3,1067.6C516.5,1067.6 517.6,1065.9 518.8,1057.3C519.9,1048.7 521.1,1024.7 522.2,1015.9C523.1,1009.3 524.0,1007.3 524.8,1007.3C525.6,1007.3 526.3,1024.0 527.1,1033.1C527.9,1043.0 528.7,1064.2 529.5,1064.2C530.5,1064.2 531.6,1046.9 532.6,1033.1C533.4,1021.6 534.3,1000.1 535.2,990.0C536.0,980.0 536.9,972.8 537.8,972.8C538.7,972.8 539.7,977.3 540.7,981.4C541.7,985.8 542.8,995.8 543.8,998.7C544.9,1001.9 546.1,1000.9 547.2,1002.1C548.4,1003.3 549.5,1003.4 550.7,1007.3C552.1,1012.1 553.6,1022.7 555.0,1029.7C556.1,1035.3 557.3,1045.2 558.4,1045.2C559.6,1045.2 560.7,1020.9 561.9,1007.3C562.8,997.1 563.6,979.7 564.5,974.5C565.3,969.3 566.2,969.3 567.1,969.3C568.2,969.3 569.4,975.6 570.5,981.4C572.2,990.2 574.0,1004.4 575.7,1015.9C577.4,1027.4 579.1,1042.9 580.9,1050.4C582.3,1056.6 583.7,1059.0 585.2,1059.0C586.6,1059.0 588.0,1049.4 589.5,1041.8C591.2,1032.6 592.9,1015.4 594.7,1007.3C596.1,1000.5 597.5,995.2 599.0,995.2C600.4,995.2 601.8,1006.5 603.3,1015.9C605.0,1027.2 606.7,1049.9 608.4,1059.0C610.2,1068.1 611.9,1070.2 613.6,1070.2C615.1,1070.2 616.5,1059.4 617.9,1050.4C619.4,1041.3 620.8,1023.1 622.2,1015.9C623.4,1010.1 624.5,1009.0 625.7,1009.0C626.8,1009.0 628.0,1023.9 629.1,1029.7C630.6,1036.9 632.0,1046.9 633.4,1046.9C634.6,1046.9 635.7,1025.1 636.9,1015.9C637.8,1009.0 638.6,997.8 639.5,997.8C640.3,997.8 641.2,1008.7 642.1,1015.9C643.5,1027.8 644.9,1057.3 646.4,1057.3C647.5,1057.3 648.7,1028.5 649.8,1015.9C650.7,1006.4 651.6,993.5 652.4,990.0C653.3,986.6 654.1,986.6 655.0,986.6C656.1,986.6 657.3,993.8 658.4,998.7C660.2,1006.0 661.9,1020.3 663.6,1024.5C665.1,1028.0 666.5,1025.9 667.9,1029.7C669.4,1033.5 670.8,1047.8 672.2,1053.8C673.7,1059.9 675.1,1065.9 676.6,1065.9C678.0,1065.9 679.4,1057.0 680.9,1050.4C682.3,1043.8 683.7,1026.2 685.2,1026.2C686.3,1026.2 687.5,1029.1 688.6,1031.4C690.1,1034.4 691.5,1042.6 692.9,1042.6C694.4,1042.6 695.8,1037.3 697.2,1033.1C698.7,1029.0 700.1,1020.2 701.6,1017.6C703.0,1015.0 704.4,1015.0 705.9,1015.0C707.3,1015.0 708.7,1025.1 710.2,1029.7C711.9,1035.2 713.6,1045.2 715.3,1045.2C716.5,1045.2 717.6,1045.2 718.8,1041.8C720.2,1037.4 721.7,1022.9 723.1,1015.9C724.5,1008.9 726.0,999.5 727.4,999.5C728.9,999.5 730.3,1001.7 731.7,1007.3C733.2,1012.9 734.6,1025.2 736.0,1033.1C737.8,1042.6 739.5,1053.5 741.2,1059.0C742.6,1063.6 744.1,1065.0 745.5,1065.0C747.0,1065.0 748.4,1055.5 749.8,1050.4C751.6,1044.3 753.3,1031.4 755.0,1031.4C756.7,1031.4 758.4,1031.7 760.2,1033.1C761.9,1034.6 763.6,1039.6 765.3,1040.0C767.1,1040.5 768.8,1040.2 770.5,1040.9C772.0,1041.5 773.4,1046.9 774.8,1050.4C776.3,1053.8 777.7,1061.6 779.1,1061.6C780.3,1061.6 781.4,1055.7 782.6,1050.4C784.0,1043.7 785.5,1031.7 786.9,1024.5C788.3,1017.3 789.8,1009.4 791.2,1007.3C792.4,1005.6 793.5,1005.6 794.7,1005.6C795.8,1005.6 797.0,1008.4 798.1,1015.9C799.3,1023.4 800.4,1048.3 801.6,1050.4C802.7,1052.5 803.9,1052.5 805.0,1052.5C806.3,1052.5 807.6,1029.0 808.9,1020.6C810.3,1012.2 811.6,1002.2 812.9,1002.2C814.2,1002.2 815.5,1004.8 816.8,1007.4C818.2,1010.1 819.5,1015.5 820.8,1017.9C822.5,1021.2 824.3,1021.0 826.1,1023.2C827.8,1025.4 829.6,1031.1 831.3,1031.1C833.1,1031.1 834.8,1028.5 836.6,1028.5C838.3,1028.5 840.1,1028.5 841.8,1028.5C843.6,1028.5 845.4,1025.8 847.1,1023.2C848.9,1020.6 850.6,1015.3 852.4,1012.7C854.1,1010.1 855.9,1007.4 857.6,1007.4C859.4,1007.4 861.1,1013.4 862.9,1015.3C864.2,1016.7 865.5,1017.9 866.8,1017.9C868.0,1017.9 869.1,991.8 870.3,981.1C871.3,971.3 872.4,956.1 873.4,956.1C874.7,956.1 876.1,966.4 877.4,970.6C878.7,974.7 880.0,978.0 881.3,981.1C883.1,985.2 884.8,982.0 886.6,991.6C888.3,1001.3 890.1,1027.9 891.8,1039.0C893.2,1047.3 894.5,1053.5 895.8,1053.5C897.1,1053.5 898.4,1034.6 899.7,1028.5C901.5,1020.3 903.2,1015.3 905.0,1012.7C906.8,1010.1 908.5,1010.1 910.3,1010.1C911.6,1010.1 912.9,1020.1 914.2,1028.5C915.5,1036.8 916.8,1053.3 918.2,1060.1C919.7,1068.1 921.3,1070.6 922.9,1070.6C923.9,1070.6 925.0,1024.6 926.1,1007.4C927.4,985.9 928.7,957.4 930.0,957.4C930.9,957.4 931.8,960.3 932.6,967.9C933.7,977.1 934.7,1010.1 935.8,1010.1C936.9,1010.1 938.1,980.7 939.2,967.9C940.3,956.2 941.3,936.4 942.4,936.4C943.2,936.4 944.1,936.4 945.0,936.4C946.1,936.4 947.3,958.3 948.4,967.9C949.6,977.6 950.7,994.3 951.8,994.3C952.9,994.3 953.9,966.9 955.0,954.8C955.9,944.7 956.8,927.2 957.6,927.2C958.5,927.2 959.4,927.2 960.3,931.1C961.1,935.1 962.0,968.0 962.9,981.1C963.9,996.8 965.0,1015.3 966.1,1015.3C967.2,1015.3 968.3,987.6 969.5,975.8C970.4,966.8 971.2,952.2 972.1,952.2C973.2,952.2 974.4,952.7 975.5,960.1C977.0,969.7 978.5,995.5 980.0,1007.4C981.3,1017.9 982.6,1028.5 983.9,1028.5C985.3,1028.5 986.6,1025.8 987.9,1025.8C989.4,1025.8 990.9,1044.3 992.4,1044.3C993.8,1044.3 995.2,1023.9 996.6,1007.4C998.1,989.9 999.6,962.0 1001.1,941.6C1002.4,923.6 1003.7,891.6 1005.0,891.6C1005.9,891.6 1006.8,892.2 1007.6,902.2C1008.9,917.1 1010.3,956.5 1011.6,975.8C1012.7,992.6 1013.9,1012.7 1015.0,1012.7C1016.5,1012.7 1018.0,1000.3 1019.5,996.9C1020.8,993.9 1022.1,992.9 1023.4,992.9C1025.2,992.9 1026.9,1002.4 1028.7,1007.4C1030.4,1012.5 1032.2,1019.6 1033.9,1023.2C1035.3,1025.9 1036.6,1023.9 1037.9,1028.5C1039.2,1033.0 1040.5,1046.0 1041.8,1052.2C1042.9,1057.1 1043.9,1062.7 1045.0,1062.7C1046.1,1062.7 1047.3,1039.0 1048.4,1020.6C1049.3,1006.4 1050.2,974.5 1051.1,967.9C1051.9,961.4 1052.8,961.4 1053.7,961.4C1054.6,961.4 1055.4,973.0 1056.3,981.1C1057.2,989.2 1058.1,1010.1 1058.9,1010.1C1060.3,1010.1 1061.6,987.0 1062.9,981.1C1063.9,976.4 1065.0,975.8 1066.1,975.8C1067.6,975.8 1069.2,983.8 1070.8,986.4C1072.5,989.2 1074.3,987.2 1076.1,991.6C1077.4,994.9 1078.7,1000.7 1080.0,1007.4C1081.1,1013.2 1082.3,1023.5 1083.4,1028.5C1084.3,1032.3 1085.2,1035.1 1086.1,1035.1C1087.1,1035.1 1088.2,995.5 1089.2,975.8C1090.5,951.2 1091.8,917.7 1093.2,902.2C1094.0,891.8 1094.9,889.0 1095.8,889.0C1096.9,889.0 1098.1,898.7 1099.2,902.2C1101.1,908.1 1103.1,908.3 1105.0,915.3C1106.8,921.7 1108.5,933.8 1110.3,941.6C1111.8,948.6 1113.4,960.1 1115.0,960.1C1116.5,960.1 1118.0,914.9 1119.5,902.2C1120.5,893.2 1121.6,889.0 1122.6,889.0C1123.6,889.0 1124.6,893.9 1125.5,902.2C1126.6,911.1 1127.6,932.9 1128.7,941.6C1129.6,948.9 1130.4,952.2 1131.3,952.2C1132.4,952.2 1133.4,909.6 1134.5,889.0C1135.6,866.6 1136.8,836.5 1137.9,823.2C1139.2,807.9 1140.5,807.4 1141.8,807.4C1143.2,807.4 1144.5,808.7 1145.8,808.7C1147.1,808.7 1148.4,808.1 1149.7,807.4C1151.1,806.8 1152.4,804.8 1153.7,804.8C1155.0,804.8 1156.3,804.8 1157.6,807.4C1158.9,810.1 1160.3,819.3 1161.6,828.5C1162.9,837.7 1164.2,855.7 1165.5,862.7C1166.8,869.7 1168.2,870.6 1169.5,870.6C1170.8,870.6 1172.1,853.6 1173.4,844.3C1174.5,836.8 1175.5,820.6 1176.6,820.6C1177.7,820.6 1178.9,820.6 1180.0,839.0C1180.9,853.2 1181.8,909.5 1182.6,928.5C1183.7,951.2 1184.7,957.4 1185.8,957.4C1186.9,957.4 1188.1,921.0 1189.2,902.2C1190.4,883.3 1191.5,851.1 1192.6,844.3C1193.5,839.0 1194.4,839.0 1195.3,839.0C1196.1,839.0 1197.0,857.9 1197.9,862.7C1198.8,867.5 1199.6,867.9 1200.5,867.9C1201.8,867.9 1203.0,839.8 1204.2,828.5C1205.4,818.0 1206.5,802.2 1207.6,802.2C1208.5,802.2 1209.4,802.2 1210.3,803.5C1211.1,804.8 1212.0,826.7 1212.9,833.7C1214.0,842.9 1215.2,849.5 1216.3,849.5C1217.5,849.5 1218.8,831.1 1220.0,823.2C1221.1,815.8 1222.3,803.5 1223.4,803.5C1224.6,803.5 1225.7,803.5 1226.8,807.4C1228.1,811.7 1229.3,828.4 1230.5,833.7C1231.7,838.7 1232.8,839.0 1233.9,839.0C1235.1,839.0 1236.2,811.6 1237.4,802.2C1238.4,793.4 1239.5,783.7 1240.5,783.7C1241.6,783.7 1242.6,795.0 1243.7,802.2C1244.8,809.9 1246.0,822.9 1247.1,828.5C1248.0,832.7 1248.9,833.7 1249.7,833.7C1250.9,833.7 1252.0,827.3 1253.2,823.2C1254.2,819.4 1255.3,813.6 1256.3,810.1C1257.6,805.6 1258.9,802.4 1260.3,799.5C1261.6,796.7 1262.9,794.5 1264.2,792.9C1265.5,791.4 1266.8,790.3 1268.2,790.3C1269.0,790.3 1269.9,804.2 1270.8,823.2C1271.9,847.9 1273.1,900.7 1274.2,928.5C1275.5,960.6 1276.8,999.5 1278.2,999.5C1279.2,999.5 1280.3,953.5 1281.3,928.5C1282.4,903.5 1283.4,857.4 1284.5,849.5C1285.2,844.3 1285.9,844.3 1286.6,844.3C1287.7,844.3 1288.9,849.5 1290.0,849.5C1290.9,849.5 1291.8,833.0 1292.6,828.5C1293.4,824.4 1294.2,823.2 1295.0,823.2C1295.9,823.2 1296.8,842.9 1297.6,862.7C1298.5,882.4 1299.4,919.7 1300.3,941.6C1300.8,954.8 1301.3,973.2 1301.8,973.2C1302.9,973.2 1303.9,926.1 1305.0,902.2C1306.1,876.2 1307.3,839.8 1308.4,823.2C1309.3,810.5 1310.2,807.4 1311.1,807.4C1312.1,807.4 1313.2,807.4 1314.2,828.5C1315.1,846.0 1316.0,907.4 1316.8,941.6C1317.5,969.0 1318.2,1015.3 1318.9,1015.3C1320.0,1015.3 1321.1,961.4 1322.1,928.5C1323.0,901.1 1323.9,849.5 1324.7,836.4C1325.4,825.8 1326.1,825.8 1326.8,825.8C1327.7,825.8 1328.6,852.2 1329.5,875.8C1330.4,899.5 1331.2,949.5 1332.1,967.9C1333.0,986.4 1333.9,986.4 1334.7,986.4C1335.6,986.4 1336.5,956.5 1337.4,941.6C1338.2,926.7 1339.1,902.2 1340.0,896.9C1340.9,891.6 1341.8,891.6 1342.6,891.6C1343.7,891.6 1344.7,912.0 1345.8,928.5C1346.8,944.9 1347.9,990.3 1348.9,990.3C1350.1,990.3 1351.2,951.9 1352.4,928.5C1353.5,905.0 1354.6,866.5 1355.8,849.5C1356.8,833.9 1357.9,828.5 1358.9,828.5C1360.0,828.5 1361.1,836.3 1362.1,849.5C1363.2,863.9 1364.4,912.7 1365.5,912.7C1366.4,912.7 1367.3,901.3 1368.2,889.0C1369.0,876.7 1369.9,849.1 1370.8,839.0C1371.7,828.9 1372.5,828.5 1373.4,828.5C1374.6,828.5 1375.7,835.8 1376.8,839.0C1377.9,841.9 1378.9,845.6 1380.0,846.9C1381.3,848.5 1382.6,847.5 1383.9,849.5C1385.3,851.6 1386.6,857.0 1387.9,862.7C1389.2,868.4 1390.5,877.2 1391.8,883.7C1393.2,890.3 1394.5,898.2 1395.8,902.2C1397.1,906.1 1398.4,907.4 1399.7,907.4C1401.5,907.4 1403.2,900.8 1405.0,889.0C1406.3,880.1 1407.6,857.9 1408.9,849.5C1410.3,841.2 1411.6,839.0 1412.9,839.0C1413.9,839.0 1415.0,839.0 1416.1,841.6C1417.0,844.0 1418.0,855.7 1418.9,875.8C1419.8,894.2 1420.7,935.9 1421.6,954.8C1422.5,973.6 1423.3,989.0 1424.2,989.0C1425.3,989.0 1426.3,940.8 1427.4,915.3C1428.4,889.9 1429.5,847.4 1430.5,836.4C1431.4,827.2 1432.3,827.2 1433.2,827.2C1434.0,827.2 1434.9,841.4 1435.8,862.7C1436.7,884.0 1437.5,933.3 1438.4,954.8C1439.3,976.3 1440.2,991.6 1441.1,991.6C1442.0,991.6 1443.0,935.4 1443.9,902.2C1444.8,871.9 1445.7,813.1 1446.6,802.2C1447.6,789.0 1448.7,789.0 1449.7,789.0C1450.8,789.0 1451.8,815.5 1452.9,849.5C1453.9,880.7 1454.8,950.3 1455.8,981.1C1456.8,1014.7 1457.9,1039.0 1458.9,1039.0C1460.0,1039.0 1461.1,973.6 1462.1,941.6C1463.0,915.0 1463.9,870.6 1464.7,862.7C1465.6,854.8 1466.5,854.8 1467.4,854.8C1468.2,854.8 1469.1,876.6 1470.0,889.0C1471.1,905.2 1472.3,925.3 1473.4,941.6C1474.7,960.5 1476.1,981.9 1477.4,994.3C1478.4,1004.1 1479.5,1011.4 1480.5,1011.4C1481.9,1011.4 1483.3,991.2 1484.7,981.1C1486.0,972.3 1487.2,957.9 1488.4,954.8C1489.8,951.2 1491.2,953.4 1492.6,949.5C1494.1,945.5 1495.6,932.5 1497.1,915.3C1498.2,902.2 1499.4,871.2 1500.5,862.7C1501.6,854.8 1502.6,854.8 1503.7,854.8C1504.6,854.8 1505.4,861.4 1506.3,875.8C1507.4,893.2 1508.4,936.4 1509.5,954.8C1510.4,970.1 1511.2,981.1 1512.1,981.1C1513.0,981.1 1513.9,941.2 1514.7,928.5C1515.7,914.4 1516.7,904.4 1517.6,902.2C1518.7,899.7 1519.7,900.5 1520.8,899.5C1521.9,898.5 1523.1,891.9 1524.2,889.0C1525.3,886.3 1526.3,882.4 1527.4,882.4C1528.4,882.4 1529.5,889.5 1530.5,894.3C1531.7,899.5 1532.8,912.7 1533.9,912.7C1535.3,912.7 1536.6,907.4 1537.9,907.4C1539.2,907.4 1540.5,908.7 1541.8,910.1C1543.2,911.4 1544.5,912.7 1545.8,915.3C1547.1,917.9 1548.4,925.5 1549.7,925.8C1551.5,926.3 1553.2,925.9 1555.0,928.5C1556.1,930.0 1557.1,968.4 1558.2,981.1C1559.6,998.1 1561.0,1012.7 1562.4,1012.7C1563.9,1012.7 1565.4,998.8 1566.8,981.1C1568.2,965.5 1569.5,932.3 1570.8,915.3C1571.8,901.7 1572.9,892.2 1573.9,886.4C1575.1,880.0 1576.2,879.8 1577.4,879.8C1578.5,879.8 1579.6,891.1 1580.8,902.2C1582.0,914.1 1583.2,939.3 1584.5,949.5C1585.6,959.1 1586.8,962.7 1587.9,962.7C1589.2,962.7 1590.5,954.4 1591.8,949.5C1593.2,944.7 1594.5,937.7 1595.8,933.7C1597.1,929.8 1598.4,927.2 1599.7,925.8C1601.1,924.5 1602.4,924.5 1603.7,924.5C1605.0,924.5 1606.3,936.1 1607.6,941.6C1608.9,947.1 1610.3,957.4 1611.6,957.4C1613.3,957.4 1615.1,957.4 1616.8,957.4C1618.6,957.4 1620.4,960.1 1622.1,960.1C1623.4,960.1 1624.7,949.6 1626.1,946.9C1627.1,944.7 1628.2,944.3 1629.2,944.3C1630.4,944.3 1631.5,958.3 1632.6,967.9C1633.8,977.6 1634.9,994.6 1636.1,1002.2C1637.1,1009.2 1638.2,1012.7 1639.2,1012.7C1640.5,1012.7 1641.8,995.1 1643.2,989.0C1644.5,982.9 1645.8,975.8 1647.1,975.8C1648.4,975.8 1649.7,976.7 1651.1,981.1C1652.4,985.5 1653.7,995.1 1655.0,1002.2C1656.3,1009.2 1657.6,1021.2 1658.9,1023.2C1660.7,1025.8 1662.5,1025.8 1664.2,1025.8C1666.4,1025.8 1668.6,1021.3 1670.8,1020.6C1673.4,1019.7 1676.1,1020.4 1678.7,1017.9C1680.4,1016.3 1682.2,1006.5 1683.9,1002.2C1685.7,997.8 1687.5,991.6 1689.2,991.6C1690.5,991.6 1691.8,1014.6 1693.2,1028.5C1694.6,1044.2 1696.1,1081.1 1697.6,1081.1C1698.8,1081.1 1699.9,1059.1 1701.1,1046.9C1702.4,1032.9 1703.7,1011.3 1705.0,1002.2C1706.1,994.9 1707.1,994.3 1708.2,994.3C1709.3,994.3 1710.4,1020.6 1711.6,1020.6C1712.9,1020.6 1714.2,1018.2 1715.5,1015.3C1716.8,1012.5 1718.2,1003.5 1719.5,1003.5C1720.6,1003.5 1721.8,1021.3 1722.9,1028.5C1724.4,1037.9 1725.9,1052.2 1727.4,1052.2C1728.7,1052.2 1730.0,1037.8 1731.3,1033.7C1733.1,1028.3 1734.8,1025.8 1736.6,1025.8C1738.2,1025.8 1739.7,1025.8 1741.3,1031.1C1742.5,1035.2 1743.8,1046.3 1745.0,1052.2C1746.4,1058.8 1747.8,1067.9 1749.2,1067.9C1750.7,1067.9 1752.2,1056.3 1753.7,1052.2C1755.4,1047.3 1757.2,1041.6 1758.9,1041.6C1760.7,1041.6 1762.5,1045.6 1764.2,1045.6C1766.0,1045.6 1767.7,1037.7 1769.5,1036.4C1771.2,1035.1 1773.0,1035.1 1774.7,1035.1C1776.5,1035.1 1778.2,1036.4 1780.0,1036.4C1781.8,1036.4 1783.5,1033.7 1785.3,1033.7C1787.0,1033.7 1788.8,1039.9 1790.5,1041.6C1792.3,1043.4 1794.0,1042.8 1795.8,1044.3C1798.0,1046.1 1800.2,1049.5 1802.4,1052.2C1804.6,1054.8 1806.8,1060.1 1808.9,1060.1C1811.1,1060.1 1813.3,1056.2 1815.5,1052.2C1817.3,1048.9 1819.0,1041.6 1820.8,1039.0C1822.5,1036.4 1824.3,1036.4 1826.1,1036.4C1827.8,1036.4 1829.6,1046.9 1831.3,1046.9C1833.1,1046.9 1834.8,1044.3 1836.6,1044.3C1837.9,1044.3 1839.2,1048.6 1840.5,1052.2C1841.8,1055.7 1843.2,1062.4 1844.5,1065.3C1846.1,1068.8 1847.6,1070.6 1849.2,1070.6C1850.7,1070.6 1852.2,1063.3 1853.7,1060.1C1855.0,1057.2 1856.3,1052.2 1857.6,1052.2C1859.4,1052.2 1861.1,1052.2 1862.9,1052.2C1864.6,1052.2 1866.4,1054.8 1868.2,1054.8C1869.5,1054.8 1870.8,1053.0 1872.1,1052.2" fill="none" stroke="#1f5fb0" stroke-opacity="0.42" stroke-width="5.9" stroke-linejoin="round" stroke-linecap="butt"/>
<path d="M111.9,1009.3C113.3,1009.5 117.6,1009.9 120.5,1010.2C123.4,1010.5 126.0,1010.5 129.1,1011.1C132.3,1011.6 136.0,1012.9 139.5,1013.7C142.9,1014.5 146.4,1015.3 149.8,1015.9C153.3,1016.5 156.7,1016.6 160.2,1017.1C163.6,1017.6 167.6,1018.5 170.5,1018.8C173.4,1019.2 174.8,1019.3 177.4,1019.3C180.0,1019.3 183.4,1019.3 186.0,1018.8C188.6,1018.4 190.1,1017.2 192.9,1016.6C195.8,1016.0 199.5,1015.7 203.3,1015.4C207.0,1015.1 211.0,1015.1 215.3,1014.9C219.7,1014.6 224.5,1014.0 229.1,1013.7C233.7,1013.3 238.3,1013.1 242.9,1012.8C247.5,1012.5 252.4,1012.3 256.7,1012.1C261.0,1011.9 265.3,1011.8 268.8,1011.8C272.2,1011.8 274.5,1011.9 277.4,1012.1C280.3,1012.3 282.9,1012.8 286.0,1012.8C289.2,1012.8 292.6,1012.4 296.4,1011.9C300.1,1011.5 304.4,1010.6 308.4,1010.2C312.5,1009.8 316.8,1009.3 320.5,1009.3C324.3,1009.3 327.4,1009.6 330.9,1010.2C334.3,1010.8 338.0,1012.1 341.2,1012.8C344.4,1013.5 346.7,1014.3 349.8,1014.5C353.0,1014.7 356.7,1014.5 360.2,1014.2C363.6,1013.9 366.5,1013.5 370.5,1012.8C374.5,1012.1 379.7,1011.0 384.3,1010.2C388.9,1009.4 393.5,1008.7 398.1,1008.0C402.7,1007.2 407.3,1006.5 411.9,1005.9C416.5,1005.3 421.8,1004.9 425.7,1004.5C429.6,1004.1 432.3,1003.4 435.2,1003.3C438.0,1003.3 440.5,1003.7 442.9,1004.2C445.4,1004.6 447.8,1005.1 449.8,1005.9C451.8,1006.7 453.3,1008.5 455.0,1009.2C456.7,1009.8 458.3,1009.6 460.2,1009.9C462.0,1010.1 464.2,1010.9 466.2,1010.7C468.2,1010.6 469.8,1009.7 472.2,1009.0C474.7,1008.3 478.0,1007.3 480.9,1006.4C483.7,1005.6 486.6,1004.6 489.5,1003.8C492.4,1003.1 495.2,1002.5 498.1,1001.8C501.0,1001.0 503.9,1000.2 506.7,999.5C509.6,998.9 512.5,998.2 515.3,997.8C518.2,997.4 521.1,997.4 524.0,997.3C526.8,997.1 529.7,996.8 532.6,996.9C535.5,997.0 538.0,997.5 541.2,997.8C544.4,998.1 548.1,998.4 551.6,998.7C555.0,998.9 558.4,999.3 561.9,999.5C565.3,999.7 568.8,999.8 572.2,1000.0C575.7,1000.2 579.1,1000.6 582.6,1000.7C586.0,1000.8 589.5,1000.6 592.9,1000.7C596.4,1000.8 599.8,1001.0 603.3,1001.2C606.7,1001.5 610.2,1001.8 613.6,1002.1C617.1,1002.4 620.5,1002.9 624.0,1003.0C627.4,1003.0 630.9,1002.4 634.3,1002.4C637.8,1002.4 641.2,1002.7 644.7,1003.0C648.1,1003.2 651.6,1003.6 655.0,1003.8C658.4,1004.0 662.2,1004.2 665.3,1004.2C668.5,1004.1 671.1,1004.0 674.0,1003.5C676.8,1003.0 679.7,1002.0 682.6,1001.2C685.5,1000.4 688.3,999.4 691.2,998.7C694.1,997.9 697.5,997.4 699.8,996.6C702.1,995.7 703.3,994.7 705.0,993.5C706.7,992.2 708.4,990.4 710.2,989.2C711.9,988.0 713.6,986.9 715.3,986.2C717.1,985.6 718.5,985.1 720.5,985.2C722.5,985.3 725.1,986.2 727.4,986.6C729.7,987.0 732.0,987.3 734.3,987.4C736.6,987.6 738.9,987.5 741.2,987.4C743.5,987.4 745.8,987.4 748.1,986.9C750.4,986.5 752.7,985.6 755.0,984.9C757.3,984.1 759.6,983.1 761.9,982.3C764.2,981.4 766.5,980.5 768.8,979.7C771.1,978.9 773.4,978.2 775.7,977.6C778.0,977.0 780.3,976.6 782.6,976.2C784.9,975.9 787.5,975.5 789.5,975.4C791.5,975.2 792.9,974.9 794.7,975.4C796.4,975.8 798.1,977.4 799.8,978.0C801.6,978.5 802.8,977.9 805.0,978.6C807.2,979.4 809.8,980.5 812.9,982.4C816.0,984.4 819.9,988.3 823.4,990.3C826.9,992.3 830.4,993.7 833.9,994.3C837.5,994.8 840.5,993.8 844.5,993.7C848.4,993.6 853.2,993.9 857.6,993.7C862.0,993.6 866.4,993.4 870.8,992.9C875.2,992.5 879.6,991.8 883.9,991.1C888.3,990.4 892.7,989.6 897.1,989.0C901.5,988.4 905.9,988.1 910.3,987.7C914.6,987.2 919.0,986.8 923.4,986.4C927.8,985.9 932.6,985.5 936.6,985.1C940.5,984.6 944.0,984.4 947.1,983.7C950.2,983.1 951.9,982.9 955.0,981.1C958.1,979.4 962.0,975.8 965.5,973.2C969.0,970.6 972.5,967.7 976.1,965.3C979.6,962.9 983.1,960.5 986.6,958.7C990.1,957.0 993.6,955.7 997.1,954.8C1000.6,953.9 1004.1,954.0 1007.6,953.5C1011.1,952.9 1015.1,952.7 1018.2,951.6C1021.2,950.5 1023.4,949.0 1026.1,946.9C1028.7,944.8 1031.3,941.9 1033.9,939.0C1036.6,936.1 1039.2,933.3 1041.8,929.8C1044.5,926.3 1047.1,922.1 1049.7,917.9C1052.4,913.8 1055.0,909.0 1057.6,904.8C1060.3,900.6 1062.9,896.2 1065.5,892.9C1068.2,889.7 1070.8,890.0 1073.4,885.1C1076.1,880.1 1078.7,871.5 1081.3,863.2C1083.9,854.9 1086.6,843.8 1089.2,835.1C1091.8,826.3 1094.0,818.9 1097.1,810.6C1100.2,802.3 1103.7,794.1 1107.6,785.3C1111.6,776.5 1116.4,766.2 1120.8,757.9C1125.2,749.7 1129.6,742.2 1133.9,735.6C1138.3,729.0 1142.7,723.3 1147.1,718.5C1151.5,713.6 1155.9,709.9 1160.3,706.4C1164.6,702.9 1170.1,699.3 1173.4,697.4C1176.7,695.6 1177.1,696.1 1180.0,695.2C1182.9,694.2 1187.0,692.7 1190.5,691.6C1194.0,690.6 1197.5,689.8 1201.1,689.0C1204.6,688.2 1208.1,687.3 1211.6,686.9C1215.1,686.5 1218.6,686.5 1222.1,686.4C1225.6,686.3 1228.7,686.1 1232.6,686.4C1236.6,686.6 1241.4,687.2 1245.8,687.7C1250.2,688.1 1254.6,688.8 1258.9,689.0C1263.3,689.2 1267.7,689.0 1272.1,689.0C1276.5,689.0 1280.9,688.6 1285.3,689.0C1289.6,689.4 1294.0,690.7 1298.4,691.6C1302.8,692.6 1307.6,693.8 1311.6,694.8C1315.5,695.8 1319.0,697.0 1322.1,697.4C1325.2,697.9 1327.4,697.9 1330.0,697.4C1332.6,696.9 1334.8,695.6 1337.9,694.3C1341.0,692.9 1344.9,691.3 1348.4,689.5C1351.9,687.8 1355.9,685.1 1358.9,683.7C1362.0,682.4 1363.3,682.0 1366.8,681.6C1370.4,681.3 1375.2,681.5 1380.0,681.6C1384.8,681.8 1391.4,682.2 1395.8,682.4C1400.2,682.7 1402.8,682.8 1406.3,683.2C1409.8,683.6 1413.3,684.4 1416.8,685.1C1420.4,685.7 1423.9,686.1 1427.4,686.9C1430.9,687.6 1434.4,688.7 1437.9,689.5C1441.4,690.3 1444.9,691.5 1448.4,691.6C1451.9,691.8 1455.4,690.7 1458.9,690.3C1462.5,690.0 1466.0,689.4 1469.5,689.5C1473.0,689.7 1476.5,690.4 1480.0,691.1C1483.5,691.8 1487.5,693.2 1490.5,693.7C1493.6,694.3 1495.8,694.5 1498.4,694.3C1501.1,694.0 1503.2,692.4 1506.3,692.2C1509.4,691.9 1513.3,692.5 1516.8,692.9C1520.4,693.4 1523.9,694.0 1527.4,694.8C1530.9,695.5 1534.8,696.2 1537.9,697.4C1541.0,698.6 1543.6,700.7 1545.8,702.2C1548.0,703.6 1549.5,705.3 1551.1,706.1C1552.6,706.9 1553.0,705.4 1555.0,706.8C1557.0,708.1 1560.3,711.0 1562.9,714.0C1565.5,717.0 1568.2,720.6 1570.8,724.5C1573.4,728.5 1576.1,733.5 1578.7,737.7C1581.3,741.9 1583.9,746.2 1586.6,749.5C1589.2,752.8 1591.8,755.2 1594.5,757.4C1597.1,759.6 1600.2,760.1 1602.4,762.7C1604.6,765.3 1605.9,769.3 1607.6,773.2C1609.4,777.2 1611.1,782.0 1612.9,786.4C1614.6,790.8 1616.4,794.9 1618.2,799.5C1619.9,804.1 1621.9,810.1 1623.4,814.0C1625.0,817.9 1625.6,820.1 1627.4,823.2C1629.1,826.3 1631.5,828.9 1633.9,832.4C1636.4,835.9 1639.4,840.5 1641.8,844.3C1644.3,848.0 1646.3,852.2 1648.4,854.8C1650.5,857.4 1652.7,857.0 1654.5,860.1C1656.2,863.1 1657.5,870.1 1658.9,873.2C1660.4,876.3 1660.9,876.7 1662.9,878.5C1664.9,880.2 1668.2,881.8 1670.8,883.7C1673.4,885.7 1676.1,887.2 1678.7,890.3C1681.3,893.4 1684.4,899.3 1686.6,902.2C1688.8,905.0 1689.2,905.0 1691.8,907.4C1694.5,909.8 1698.9,913.6 1702.4,916.6C1705.9,919.7 1709.4,923.2 1712.9,925.8C1716.4,928.5 1720.4,930.4 1723.4,932.4C1726.5,934.4 1729.1,936.6 1731.3,937.7C1733.5,938.8 1734.4,939.0 1736.6,939.0C1738.8,939.0 1741.8,938.1 1744.5,937.7C1747.1,937.2 1750.0,936.4 1752.4,936.4C1754.8,936.4 1756.8,936.1 1758.9,937.7C1761.1,939.2 1763.3,942.9 1765.5,945.6C1767.7,948.2 1769.9,951.1 1772.1,953.5C1774.3,955.9 1776.3,958.1 1778.7,960.1C1781.1,962.0 1783.9,963.6 1786.6,965.3C1789.2,967.1 1791.8,969.0 1794.5,970.6C1797.1,972.1 1799.7,973.6 1802.4,974.5C1805.0,975.5 1807.6,975.7 1810.3,976.4C1812.9,977.0 1815.1,977.9 1818.2,978.5C1821.2,979.0 1825.6,978.9 1828.7,979.8C1831.8,980.7 1834.4,982.4 1836.6,983.7C1838.8,985.1 1840.1,986.4 1841.8,987.7C1843.6,989.0 1845.4,989.7 1847.1,991.6C1848.9,993.6 1850.6,997.6 1852.4,999.5C1854.1,1001.5 1855.9,1001.9 1857.6,1003.5C1859.4,1005.0 1861.4,1007.4 1862.9,1008.7C1864.4,1010.1 1865.5,1011.8 1866.8,1011.4C1868.2,1010.9 1870.1,1007.0 1870.8,1006.1" fill="none" stroke="#05806a" stroke-width="5.6" stroke-linejoin="round"/>
<path d="M111.9,1030.9C113.0,1031.6 116.5,1033.8 118.8,1035.2C121.1,1036.6 123.4,1038.1 125.7,1039.5C128.0,1041.0 130.3,1042.4 132.6,1043.8C134.9,1045.3 137.2,1046.8 139.5,1048.1C141.8,1049.4 144.1,1050.5 146.4,1051.6C148.7,1052.6 151.0,1053.7 153.3,1054.5C155.6,1055.4 157.9,1056.0 160.2,1056.8C162.5,1057.5 164.8,1058.3 167.1,1059.0C169.4,1059.7 171.4,1060.1 174.0,1060.7C176.6,1061.3 179.7,1062.0 182.6,1062.4C185.5,1062.9 188.0,1063.3 191.2,1063.7C194.4,1064.0 198.1,1064.3 201.6,1064.5C205.0,1064.7 208.4,1064.9 211.9,1064.9C215.3,1064.9 218.8,1064.6 222.2,1064.5C225.7,1064.5 229.1,1064.7 232.6,1064.5C236.0,1064.4 239.5,1064.0 242.9,1063.7C246.4,1063.3 249.8,1062.9 253.3,1062.4C256.7,1062.0 260.2,1061.4 263.6,1061.1C267.1,1060.7 270.5,1060.5 274.0,1060.2C277.4,1059.9 280.9,1059.5 284.3,1059.3C287.8,1059.1 291.2,1059.1 294.7,1059.0C298.1,1058.9 301.6,1058.7 305.0,1058.5C308.4,1058.3 312.2,1057.9 315.3,1057.6C318.5,1057.3 321.1,1056.9 324.0,1056.8C326.8,1056.6 329.7,1056.7 332.6,1056.8C335.5,1056.8 338.6,1056.8 341.2,1057.3C343.8,1057.7 345.8,1059.0 348.1,1059.3C350.4,1059.7 352.7,1058.8 355.0,1059.3C357.3,1059.9 359.6,1061.9 361.9,1062.8C364.2,1063.7 366.5,1064.1 368.8,1064.5C371.1,1064.9 373.4,1065.5 375.7,1065.4C378.0,1065.2 380.3,1063.9 382.6,1063.7C384.9,1063.4 386.9,1063.9 389.5,1063.7C392.1,1063.4 395.2,1062.9 398.1,1061.9C401.0,1060.9 403.9,1058.9 406.7,1057.6C409.6,1056.3 412.5,1055.2 415.3,1054.2C418.2,1053.2 421.1,1052.7 424.0,1051.6C426.8,1050.4 429.7,1048.6 432.6,1047.3C435.5,1046.0 438.3,1044.7 441.2,1043.8C444.1,1042.9 447.5,1042.3 449.8,1041.8C452.1,1041.2 453.0,1041.2 455.0,1040.6C457.0,1040.1 459.6,1039.4 461.9,1038.3C464.2,1037.2 466.5,1035.3 468.8,1034.0C471.1,1032.7 473.4,1031.8 475.7,1030.6C478.0,1029.3 480.3,1027.7 482.6,1026.6C484.9,1025.4 487.2,1024.5 489.5,1023.7C491.8,1022.8 494.1,1022.1 496.4,1021.4C498.7,1020.8 501.0,1020.5 503.3,1019.7C505.6,1018.9 507.9,1017.5 510.2,1016.8C512.5,1016.0 514.8,1015.6 517.1,1015.0C519.4,1014.5 521.7,1013.8 524.0,1013.3C526.3,1012.8 528.6,1012.7 530.9,1012.1C533.2,1011.5 535.5,1010.6 537.8,1009.9C540.1,1009.1 542.4,1008.1 544.7,1007.6C547.0,1007.1 549.3,1007.3 551.6,1006.9C553.9,1006.6 555.9,1005.9 558.4,1005.6C561.0,1005.2 564.2,1004.8 567.1,1004.7C569.9,1004.5 572.8,1004.6 575.7,1004.7C578.6,1004.8 581.4,1005.1 584.3,1005.2C587.2,1005.3 590.1,1005.1 592.9,1005.2C595.8,1005.3 598.7,1005.3 601.6,1005.6C604.4,1005.8 607.6,1006.4 610.2,1006.9C612.8,1007.5 615.1,1008.4 617.1,1009.0C619.1,1009.6 620.5,1010.5 622.2,1010.7C624.0,1011.0 625.7,1010.2 627.4,1010.4C629.1,1010.5 630.6,1010.8 632.6,1011.6C634.6,1012.4 637.2,1014.0 639.5,1015.0C641.8,1016.0 644.1,1016.8 646.4,1017.6C648.7,1018.5 651.0,1019.3 653.3,1020.2C655.6,1021.1 657.9,1022.0 660.2,1022.8C662.5,1023.6 664.8,1024.0 667.1,1024.9C669.4,1025.7 671.7,1026.9 674.0,1028.0C676.3,1029.1 678.6,1030.3 680.9,1031.4C683.2,1032.6 685.5,1034.0 687.8,1034.9C690.1,1035.7 692.4,1035.9 694.7,1036.6C697.0,1037.3 699.5,1038.3 701.6,1039.2C703.6,1040.0 705.1,1041.2 706.7,1041.8C708.3,1042.3 709.3,1042.9 711.0,1042.6C712.8,1042.3 714.9,1041.0 717.1,1040.0C719.2,1039.0 721.7,1037.7 724.0,1036.6C726.3,1035.4 728.6,1033.7 730.9,1033.1C733.2,1032.6 735.5,1033.9 737.8,1033.1C740.1,1032.4 742.4,1029.9 744.7,1028.8C747.0,1027.7 749.3,1026.9 751.6,1026.6C753.9,1026.3 756.1,1026.9 758.4,1027.1C760.7,1027.3 763.0,1027.6 765.3,1027.6C767.6,1027.6 769.9,1027.6 772.2,1027.1C774.5,1026.6 776.8,1025.4 779.1,1024.9C781.4,1024.3 783.7,1024.1 786.0,1023.7C788.3,1023.3 790.6,1022.8 792.9,1022.4C795.2,1022.1 797.8,1021.9 799.8,1021.4C801.8,1020.9 802.8,1020.5 805.0,1019.3C807.2,1018.1 810.3,1015.3 812.9,1014.0C815.5,1012.7 817.7,1011.9 820.8,1011.4C823.9,1010.8 827.8,1011.2 831.3,1010.6C834.8,1009.9 838.3,1008.6 841.8,1007.4C845.4,1006.2 848.9,1005.0 852.4,1003.5C855.9,1001.9 859.4,1000.0 862.9,998.2C866.4,996.5 869.9,994.5 873.4,992.9C876.9,991.4 880.4,990.2 883.9,989.0C887.5,987.8 891.0,986.9 894.5,985.8C898.0,984.7 901.9,983.6 905.0,982.4C908.1,981.2 909.8,979.4 912.9,978.5C916.0,977.6 919.9,977.7 923.4,977.2C926.9,976.6 930.9,976.2 933.9,975.3C937.0,974.4 939.2,972.3 941.8,971.9C944.5,971.5 947.1,972.8 949.7,972.7C952.4,972.6 954.6,971.2 957.6,971.1C960.7,971.0 965.1,972.0 968.2,971.9C971.2,971.8 973.4,970.4 976.1,970.6C978.7,970.7 980.9,973.1 983.9,972.7C987.0,972.2 991.0,969.4 994.5,967.9C998.0,966.5 1001.5,965.8 1005.0,964.0C1008.5,962.2 1012.0,959.6 1015.5,957.4C1019.0,955.2 1022.5,953.0 1026.1,950.8C1029.6,948.6 1033.1,946.2 1036.6,944.3C1040.1,942.3 1043.6,941.2 1047.1,939.0C1050.6,936.8 1054.1,933.5 1057.6,931.1C1061.1,928.7 1064.6,926.9 1068.2,924.5C1071.7,922.1 1075.2,919.0 1078.7,916.6C1082.2,914.2 1085.7,912.5 1089.2,910.1C1092.7,907.6 1096.2,905.7 1099.7,902.2C1103.2,898.6 1106.8,893.4 1110.3,889.0C1113.8,884.6 1117.3,880.0 1120.8,875.8C1124.3,871.7 1128.2,867.5 1131.3,864.0C1134.4,860.5 1136.6,858.1 1139.2,854.8C1141.8,851.5 1144.0,847.8 1147.1,844.3C1150.2,840.8 1154.1,837.2 1157.6,833.7C1161.1,830.2 1164.4,826.8 1168.2,823.2C1171.9,819.6 1176.7,815.1 1180.0,812.0C1183.3,809.0 1185.3,806.5 1187.9,804.8C1190.5,803.1 1192.7,802.6 1195.8,801.6C1198.9,800.7 1202.8,799.7 1206.3,799.0C1209.8,798.3 1213.8,797.8 1216.8,797.4C1219.9,797.1 1222.1,797.2 1224.7,796.9C1227.4,796.6 1230.0,795.4 1232.6,795.6C1235.3,795.8 1237.7,798.0 1240.5,798.2C1243.4,798.4 1246.7,796.3 1249.7,796.9C1252.8,797.5 1255.7,799.9 1258.9,801.6C1262.2,803.4 1266.0,805.8 1269.5,807.4C1273.0,809.0 1277.4,810.7 1280.0,811.4C1282.6,812.0 1282.6,809.8 1285.3,811.4C1287.9,812.9 1292.3,818.1 1295.8,820.6C1299.3,823.1 1302.8,824.2 1306.3,826.4C1309.8,828.6 1313.3,831.4 1316.8,833.7C1320.4,836.1 1323.9,838.8 1327.4,840.3C1330.9,841.9 1334.4,841.4 1337.9,842.9C1341.4,844.5 1344.9,847.1 1348.4,849.5C1351.9,851.9 1355.4,854.4 1358.9,857.4C1362.5,860.4 1366.0,864.4 1369.5,867.4C1373.0,870.5 1376.5,873.8 1380.0,875.8C1383.5,877.9 1387.0,878.0 1390.5,879.8C1394.0,881.5 1397.5,884.4 1401.1,886.4C1404.6,888.3 1408.1,890.1 1411.6,891.6C1415.1,893.2 1418.6,894.4 1422.1,895.6C1425.6,896.8 1429.6,898.6 1432.6,899.0C1435.7,899.4 1437.9,898.6 1440.5,898.2C1443.2,897.8 1445.8,895.9 1448.4,896.4C1451.1,896.8 1453.2,900.1 1456.3,900.8C1459.4,901.6 1463.8,900.4 1466.8,900.8C1469.9,901.3 1472.1,902.6 1474.7,903.5C1477.4,904.4 1479.6,906.0 1482.6,906.1C1485.7,906.2 1490.1,903.8 1493.2,904.3C1496.2,904.7 1498.4,908.0 1501.1,908.7C1503.7,909.5 1506.3,907.9 1508.9,908.7C1511.6,909.6 1514.2,912.5 1516.8,914.0C1519.5,915.5 1521.7,916.2 1524.7,917.9C1527.8,919.7 1531.8,922.3 1535.3,924.5C1538.8,926.7 1542.5,929.1 1545.8,931.1C1549.1,933.1 1551.7,934.6 1555.0,936.4C1558.3,938.1 1562.0,940.0 1565.5,941.6C1569.0,943.3 1572.5,944.6 1576.1,946.4C1579.6,948.1 1583.5,951.0 1586.6,952.2C1589.6,953.3 1591.8,952.4 1594.5,953.5C1597.1,954.6 1599.7,956.8 1602.4,958.7C1605.0,960.7 1607.6,963.7 1610.3,965.3C1612.9,966.9 1615.5,966.9 1618.2,968.5C1620.8,970.0 1623.4,973.2 1626.1,974.5C1628.7,975.8 1631.3,974.8 1633.9,976.4C1636.6,977.9 1639.2,981.6 1641.8,983.7C1644.5,985.8 1646.7,986.4 1649.7,989.0C1652.8,991.6 1656.8,996.2 1660.3,999.5C1663.8,1002.8 1667.3,1006.5 1670.8,1008.7C1674.3,1010.9 1677.8,1010.9 1681.3,1012.7C1684.8,1014.4 1688.3,1017.1 1691.8,1019.3C1695.4,1021.5 1698.9,1023.9 1702.4,1025.8C1705.9,1027.8 1709.4,1029.4 1712.9,1031.1C1716.4,1032.9 1719.9,1034.6 1723.4,1036.4C1726.9,1038.1 1730.4,1040.0 1733.9,1041.6C1737.5,1043.3 1741.0,1045.0 1744.5,1046.4C1748.0,1047.8 1751.5,1048.9 1755.0,1050.1C1758.5,1051.2 1762.0,1052.5 1765.5,1053.5C1769.0,1054.5 1772.5,1055.4 1776.1,1056.1C1779.6,1056.9 1783.1,1057.4 1786.6,1057.9C1790.1,1058.5 1793.6,1059.2 1797.1,1059.5C1800.6,1059.9 1804.1,1060.1 1807.6,1060.1C1811.1,1060.1 1814.6,1059.9 1818.2,1059.5C1821.7,1059.2 1825.2,1058.6 1828.7,1057.9C1832.2,1057.2 1835.7,1056.3 1839.2,1055.3C1842.7,1054.4 1846.2,1053.3 1849.7,1052.2C1853.2,1051.0 1857.2,1049.3 1860.3,1048.2C1863.3,1047.1 1866.1,1046.2 1868.2,1045.6C1870.3,1044.9 1872.1,1044.5 1872.9,1044.3" fill="none" stroke="#9c0a35" stroke-width="6.2" stroke-linejoin="round"/>
<path d="M111.9,1058.5C113.0,1058.9 116.5,1060.3 118.8,1061.1C121.1,1061.8 123.4,1062.4 125.7,1063.1C128.0,1063.9 130.3,1064.7 132.6,1065.4C134.9,1066.0 137.2,1066.5 139.5,1067.1C141.8,1067.7 144.1,1068.3 146.4,1068.8C148.7,1069.3 151.0,1069.8 153.3,1070.2C155.6,1070.6 157.9,1071.1 160.2,1071.4C162.5,1071.8 164.2,1072.0 167.1,1072.3C169.9,1072.6 173.4,1072.9 177.4,1073.1C181.4,1073.4 186.0,1073.8 191.2,1074.0C196.4,1074.2 202.7,1074.4 208.4,1074.5C214.2,1074.6 219.9,1074.6 225.7,1074.5C231.4,1074.4 237.2,1074.2 242.9,1074.0C248.7,1073.8 254.4,1073.7 260.2,1073.5C265.9,1073.3 271.7,1072.9 277.4,1072.8C283.2,1072.7 288.9,1073.1 294.7,1073.1C300.4,1073.2 306.1,1073.2 311.9,1073.1C317.6,1073.1 324.0,1072.8 329.1,1072.8C334.3,1072.8 338.9,1072.8 342.9,1073.1C347.0,1073.5 349.8,1074.1 353.3,1074.9C356.7,1075.6 360.2,1076.7 363.6,1077.4C367.1,1078.2 370.5,1078.8 374.0,1079.2C377.4,1079.5 380.9,1079.6 384.3,1079.7C387.8,1079.8 391.2,1080.0 394.7,1079.7C398.1,1079.4 401.6,1078.5 405.0,1078.0C408.4,1077.4 411.9,1076.6 415.3,1076.2C418.8,1075.9 422.2,1076.2 425.7,1075.7C429.1,1075.2 432.6,1074.1 436.0,1073.1C439.5,1072.2 443.2,1070.9 446.4,1070.0C449.5,1069.1 452.1,1068.6 455.0,1067.8C457.9,1067.0 460.7,1066.0 463.6,1065.0C466.5,1064.1 469.4,1063.1 472.2,1062.1C475.1,1061.1 478.0,1060.1 480.9,1059.0C483.7,1057.9 486.6,1056.7 489.5,1055.6C492.4,1054.4 495.2,1053.3 498.1,1052.1C501.0,1051.0 503.9,1049.8 506.7,1048.7C509.6,1047.5 512.5,1046.2 515.3,1045.2C518.2,1044.2 521.1,1043.5 524.0,1042.6C526.8,1041.8 529.7,1041.0 532.6,1040.0C535.5,1039.0 538.3,1037.6 541.2,1036.6C544.1,1035.6 547.0,1034.8 549.8,1034.0C552.7,1033.2 555.6,1032.6 558.4,1031.8C561.3,1030.9 564.2,1029.7 567.1,1028.8C569.9,1028.0 572.8,1027.3 575.7,1026.6C578.6,1025.9 581.4,1025.1 584.3,1024.5C587.2,1023.9 590.1,1023.6 592.9,1023.1C595.8,1022.7 598.7,1022.2 601.6,1021.9C604.4,1021.6 607.3,1021.4 610.2,1021.4C613.0,1021.4 615.9,1021.9 618.8,1021.9C621.7,1022.0 625.1,1021.7 627.4,1021.6C629.7,1021.5 630.6,1021.3 632.6,1021.4C634.6,1021.6 637.2,1022.1 639.5,1022.4C641.8,1022.8 644.1,1023.3 646.4,1023.7C648.7,1024.0 651.0,1024.2 653.3,1024.5C655.6,1024.8 657.9,1025.0 660.2,1025.4C662.5,1025.7 664.8,1026.0 667.1,1026.6C669.4,1027.2 671.7,1028.0 674.0,1028.8C676.3,1029.6 678.6,1030.7 680.9,1031.4C683.2,1032.1 685.5,1032.5 687.8,1033.1C690.1,1033.8 692.4,1034.6 694.7,1035.2C697.0,1035.8 699.5,1036.1 701.6,1036.6C703.6,1037.1 705.1,1037.9 706.7,1038.3C708.3,1038.7 709.3,1039.4 711.0,1039.2C712.8,1038.9 714.9,1037.6 717.1,1036.9C719.2,1036.2 721.7,1035.5 724.0,1034.9C726.3,1034.2 728.6,1033.4 730.9,1033.1C733.2,1032.9 735.5,1033.6 737.8,1033.1C740.1,1032.7 742.6,1031.3 744.7,1030.6C746.7,1029.8 747.8,1029.0 749.8,1028.8C751.8,1028.7 754.4,1029.3 756.7,1029.7C759.0,1030.1 761.3,1030.8 763.6,1031.1C765.9,1031.4 768.2,1031.5 770.5,1031.4C772.8,1031.3 775.1,1030.8 777.4,1030.6C779.7,1030.3 782.0,1029.8 784.3,1029.7C786.6,1029.5 788.9,1029.7 791.2,1029.7C793.5,1029.7 795.8,1029.9 798.1,1029.7C800.4,1029.4 802.5,1029.3 805.0,1028.2C807.5,1027.1 810.3,1024.5 812.9,1023.2C815.5,1021.9 818.2,1020.7 820.8,1020.6C823.4,1020.5 825.6,1023.1 828.7,1022.7C831.8,1022.2 835.7,1019.4 839.2,1017.9C842.7,1016.5 846.2,1015.2 849.7,1014.0C853.2,1012.8 856.8,1011.8 860.3,1010.6C863.8,1009.4 867.3,1007.8 870.8,1006.9C874.3,1006.0 877.8,1006.0 881.3,1005.3C884.8,1004.6 888.3,1003.4 891.8,1002.7C895.4,1001.9 898.9,1001.8 902.4,1000.8C905.9,999.9 909.4,996.9 912.9,996.9C916.4,996.9 919.9,1000.1 923.4,1000.8C926.9,1001.6 930.4,1001.6 933.9,1001.6C937.5,1001.6 941.0,1001.1 944.5,1000.8C948.0,1000.6 951.5,999.7 955.0,1000.1C958.5,1000.4 962.0,1002.1 965.5,1002.7C969.0,1003.3 972.5,1003.2 976.1,1003.5C979.6,1003.7 983.5,1004.7 986.6,1004.3C989.6,1003.8 991.8,1002.0 994.5,1000.8C997.1,999.7 999.3,999.0 1002.4,997.4C1005.4,995.9 1009.4,993.3 1012.9,991.6C1016.4,990.0 1019.9,989.2 1023.4,987.7C1026.9,986.1 1030.4,984.4 1033.9,982.4C1037.5,980.4 1041.0,978.3 1044.5,975.8C1048.0,973.4 1051.5,970.7 1055.0,967.9C1058.5,965.2 1062.0,962.4 1065.5,959.5C1069.0,956.7 1072.5,953.8 1076.1,950.8C1079.6,947.9 1083.1,944.9 1086.6,941.6C1090.1,938.3 1093.6,934.8 1097.1,931.1C1100.6,927.4 1104.1,923.2 1107.6,919.3C1111.1,915.3 1114.6,911.4 1118.2,907.4C1121.7,903.5 1125.2,899.7 1128.7,895.6C1132.2,891.4 1135.7,886.6 1139.2,882.4C1142.7,878.3 1146.2,874.1 1149.7,870.6C1153.2,867.1 1156.8,863.8 1160.3,861.4C1163.8,859.0 1167.5,858.1 1170.8,856.1C1174.1,854.1 1177.1,851.1 1180.0,849.5C1182.9,848.0 1185.3,847.8 1187.9,846.9C1190.5,846.0 1192.7,844.9 1195.8,844.3C1198.9,843.6 1202.8,843.2 1206.3,842.9C1209.8,842.7 1213.3,842.9 1216.8,842.9C1220.4,842.9 1224.3,842.8 1227.4,842.9C1230.4,843.1 1232.6,843.3 1235.3,843.7C1237.9,844.2 1240.7,845.4 1243.2,845.6C1245.6,845.8 1247.1,844.1 1249.7,844.8C1252.4,845.4 1255.7,847.9 1258.9,849.5C1262.2,851.1 1266.4,852.7 1269.5,854.3C1272.5,855.8 1275.0,858.3 1277.4,858.7C1279.8,859.2 1281.3,856.2 1283.9,856.9C1286.6,857.6 1289.9,861.2 1293.2,862.7C1296.4,864.2 1300.2,864.6 1303.7,865.8C1307.2,867.1 1310.7,868.6 1314.2,870.1C1317.7,871.5 1321.7,873.3 1324.7,874.5C1327.8,875.7 1330.4,876.7 1332.6,877.2C1334.8,877.6 1335.3,876.3 1337.9,877.2C1340.5,878.0 1344.9,880.7 1348.4,882.4C1351.9,884.2 1355.4,885.8 1358.9,887.7C1362.5,889.6 1366.0,891.9 1369.5,893.7C1373.0,895.6 1376.9,898.0 1380.0,899.0C1383.1,900.0 1384.8,898.9 1387.9,899.5C1391.0,900.1 1394.9,901.7 1398.4,902.7C1401.9,903.6 1405.4,904.5 1408.9,905.3C1412.5,906.1 1416.0,907.0 1419.5,907.4C1423.0,907.9 1426.5,908.0 1430.0,907.9C1433.5,907.9 1437.5,907.4 1440.5,906.9C1443.6,906.4 1445.8,904.5 1448.4,904.8C1451.1,905.1 1453.2,908.1 1456.3,908.7C1459.4,909.4 1463.8,908.4 1466.8,908.7C1469.9,909.0 1472.1,909.8 1474.7,910.6C1477.4,911.3 1479.6,913.1 1482.6,913.2C1485.7,913.3 1490.1,911.0 1493.2,911.4C1496.2,911.7 1498.4,914.4 1501.1,915.3C1503.7,916.2 1506.3,915.7 1508.9,916.6C1511.6,917.6 1514.2,919.8 1516.8,921.1C1519.5,922.4 1521.7,922.9 1524.7,924.5C1527.8,926.2 1531.8,928.9 1535.3,931.1C1538.8,933.3 1542.5,936.1 1545.8,937.7C1549.1,939.2 1551.7,939.2 1555.0,940.3C1558.3,941.4 1562.0,942.8 1565.5,944.3C1569.0,945.7 1572.5,947.3 1576.1,949.0C1579.6,950.7 1583.5,953.1 1586.6,954.3C1589.6,955.4 1591.8,954.9 1594.5,956.1C1597.1,957.3 1599.7,959.6 1602.4,961.4C1605.0,963.1 1607.6,965.2 1610.3,966.6C1612.9,968.1 1615.5,968.5 1618.2,970.1C1620.8,971.6 1623.4,974.8 1626.1,975.8C1628.7,976.9 1631.3,975.1 1633.9,976.4C1636.6,977.7 1639.2,981.9 1641.8,983.7C1644.5,985.6 1646.7,985.5 1649.7,987.7C1652.8,989.9 1656.8,994.0 1660.3,996.9C1663.8,999.7 1667.3,1002.7 1670.8,1004.8C1674.3,1006.9 1677.8,1007.7 1681.3,1009.5C1684.8,1011.4 1688.3,1013.8 1691.8,1015.8C1695.4,1017.9 1698.9,1020.0 1702.4,1021.9C1705.9,1023.8 1709.4,1025.5 1712.9,1027.2C1716.4,1028.8 1719.9,1030.1 1723.4,1031.6C1726.9,1033.2 1730.4,1034.8 1733.9,1036.4C1737.5,1037.9 1741.0,1039.7 1744.5,1041.1C1748.0,1042.5 1751.5,1043.6 1755.0,1044.8C1758.5,1046.0 1762.0,1047.2 1765.5,1048.2C1769.0,1049.2 1772.5,1050.1 1776.1,1050.8C1779.6,1051.6 1783.1,1052.1 1786.6,1052.7C1790.1,1053.3 1793.6,1053.9 1797.1,1054.3C1800.6,1054.6 1804.1,1054.7 1807.6,1054.8C1811.1,1054.9 1814.6,1054.9 1818.2,1054.8C1821.7,1054.7 1825.2,1054.5 1828.7,1054.3C1832.2,1054.0 1835.7,1053.9 1839.2,1053.5C1842.7,1053.0 1846.2,1052.3 1849.7,1051.6C1853.2,1051.0 1857.2,1050.1 1860.3,1049.5C1863.3,1049.0 1866.1,1048.6 1868.2,1048.2C1870.3,1047.8 1872.1,1047.1 1872.9,1046.9" fill="none" stroke="#1f5fb0" stroke-width="6.2" stroke-linejoin="round"/>
</g>
<rect x="111.2" y="644.8" width="1817.3999999999999" height="460.29999999999995" fill="none" stroke="#8a8a8a" stroke-width="1.7"/>
<path d="M111.2,1085.6h-3M111.2,1041.5h-3M111.2,997.4h-3M111.2,953.4h-3M111.2,909.3h-3M111.2,865.2h-3M111.2,821.1h-3M111.2,777.0h-3M111.2,733.0h-3M111.2,688.9h-3M111.2,644.8h-3M1928.6,1105.1h3M1928.6,1013.0h3M1928.6,921.0h3M1928.6,828.9h3M1928.6,736.9h3M1928.6,644.8h3M279.5,1105.1v3M453.6,1105.1v3M627.8,1105.1v3M801.9,1105.1v3M976.0,1105.1v3M1150.1,1105.1v3M1324.2,1105.1v3M1498.4,1105.1v3M1672.5,1105.1v3M1846.6,1105.1v3M169.6,1105.1v-3M169.6,644.8v3M262.5,1105.1v-3M262.5,644.8v3M355.3,1105.1v-3M355.3,644.8v3M448.2,1105.1v-3M448.2,644.8v3M541.1,1105.1v-3M541.1,644.8v3M634.0,1105.1v-3M634.0,644.8v3M726.8,1105.1v-3M726.8,644.8v3M819.7,1105.1v-3M819.7,644.8v3M912.6,1105.1v-3M912.6,644.8v3M1005.4,1105.1v-3M1005.4,644.8v3M1098.3,1105.1v-3M1098.3,644.8v3M1191.2,1105.1v-3M1191.2,644.8v3M1284.0,1105.1v-3M1284.0,644.8v3M1376.9,1105.1v-3M1376.9,644.8v3M1469.8,1105.1v-3M1469.8,644.8v3M1562.7,1105.1v-3M1562.7,644.8v3M1655.5,1105.1v-3M1655.5,644.8v3M1748.4,1105.1v-3M1748.4,644.8v3M1841.3,1105.1v-3M1841.3,644.8v3" stroke="#4d4d4d" stroke-width="1.4" fill="none"/>
<g font-size="26.1" text-anchor="end" fill="#000">
<text x="97.3" y="1096.2">0</text>
<text x="97.3" y="1052.1">1</text>
<text x="97.3" y="1008.0">2</text>
<text x="97.3" y="964.0">3</text>
<text x="97.3" y="919.9">4</text>
<text x="97.3" y="875.8">5</text>
<text x="97.3" y="831.7">6</text>
<text x="97.3" y="787.6">7</text>
<text x="97.3" y="743.6">8</text>
<text x="97.3" y="699.5">9</text>
<text x="97.3" y="655.4">10</text>
</g>
<g font-size="26.1" text-anchor="start" fill="#000">
<text x="1943" y="1115.7">0.0</text>
<text x="1943" y="1023.6">0.2</text>
<text x="1943" y="931.6">0.4</text>
<text x="1943" y="839.5">0.6</text>
<text x="1943" y="747.5">0.8</text>
<text x="1943" y="655.4">1.0</text>
</g>
<text font-size="26.1" text-anchor="middle" transform="translate(54.9,874.7) rotate(-90)">Daily Evaporation (mm/day)</text>
<text font-size="26.1" text-anchor="middle" transform="translate(2019.8,877.9) rotate(-90)">NDVI</text>
<text font-size="39.8" text-anchor="middle" x="1015.8" y="625.8">US-Ne2</text>
<text font-size="28.5" x="11" y="649.3">b)</text>
<rect x="124.3" y="658.6999999999999" width="229" height="123.5" rx="6" ry="6" fill="#fff" fill-opacity="0.8" stroke="#dadada" stroke-width="1.4"/>
<rect x="130" y="674.1" width="61.3" height="11.2" fill="#9c0a35" fill-opacity="0.5"/>
<rect x="130" y="676.7" width="61.3" height="6" fill="#9c0a35"/>
<rect x="130" y="712.1" width="61.3" height="11.2" fill="#1f5fb0" fill-opacity="0.45"/>
<rect x="130" y="714.7" width="61.3" height="6" fill="#1f5fb0"/>
<rect x="132.2" y="753.3" width="57.6" height="5.6" fill="#05806a"/>
<g font-size="26.1" fill="#000">
<text x="208.5" y="688.1">Tower E</text>
<text x="208.5" y="726.5">CubeSat E</text>
<text x="208.5" y="764.9">NDVI</text>
</g>
</g>
<g id="panel3">
<rect x="767.8" y="1224.0" width="1143.2" height="460.29999999999995" fill="#d0d3d4"/>
<path d="M169.6,1224.0V1684.3M262.5,1224.0V1684.3M355.3,1224.0V1684.3M448.2,1224.0V1684.3M541.1,1224.0V1684.3M634.0,1224.0V1684.3M726.8,1224.0V1684.3M819.7,1224.0V1684.3M912.6,1224.0V1684.3M1005.4,1224.0V1684.3M1098.3,1224.0V1684.3M1191.2,1224.0V1684.3M1284.0,1224.0V1684.3M1376.9,1224.0V1684.3M1469.8,1224.0V1684.3M1562.7,1224.0V1684.3M1655.5,1224.0V1684.3M1748.4,1224.0V1684.3M1841.3,1224.0V1684.3" stroke="#626262" stroke-width="1.6" stroke-dasharray="6.2,12.9" stroke-dashoffset="2.4" fill="none"/>
<clipPath id="clip3"><rect x="111.2" y="1224.0" width="1817.3999999999999" height="460.29999999999995"/></clipPath>
<g clip-path="url(#clip3)">
<path d="M111.9,1657.3C113.6,1647.0 115.3,1634.6 117.1,1626.3C118.5,1619.4 119.9,1612.9 121.4,1610.8C122.5,1609.0 123.7,1609.0 124.8,1609.0C126.3,1609.0 127.7,1615.9 129.1,1615.9C130.6,1615.9 132.0,1611.6 133.4,1611.6C134.9,1611.6 136.3,1613.6 137.8,1615.1C139.2,1616.5 140.6,1620.2 142.1,1620.2C143.5,1620.2 144.9,1616.1 146.4,1615.1C147.5,1614.2 148.7,1614.2 149.8,1614.2C151.0,1614.2 152.1,1618.8 153.3,1622.8C154.4,1626.9 155.6,1636.6 156.7,1638.3C157.9,1640.1 159.0,1640.1 160.2,1640.1C161.3,1640.1 162.5,1633.2 163.6,1633.2C164.5,1633.2 165.3,1641.5 166.2,1645.2C167.4,1650.2 168.5,1656.3 169.7,1659.0C171.1,1662.5 172.5,1662.5 174.0,1662.5C175.7,1662.5 177.4,1652.0 179.1,1650.4C180.9,1648.9 182.6,1649.5 184.3,1648.7C186.0,1647.9 187.8,1645.5 189.5,1643.5C190.6,1642.2 191.8,1639.2 192.9,1639.2C194.1,1639.2 195.2,1643.9 196.4,1645.2C197.8,1646.9 199.3,1646.7 200.7,1647.8C202.1,1649.0 203.6,1649.4 205.0,1652.1C206.4,1654.9 207.9,1664.2 209.3,1664.2C210.5,1664.2 211.6,1649.8 212.8,1643.5C213.9,1637.2 215.1,1626.3 216.2,1626.3C217.4,1626.3 218.5,1630.0 219.7,1634.9C220.8,1639.8 222.0,1654.2 223.1,1655.6C224.5,1657.3 226.0,1657.1 227.4,1657.3C229.1,1657.6 230.9,1659.9 232.6,1659.9C234.3,1659.9 236.0,1651.3 237.8,1650.4C239.5,1649.5 241.2,1650.2 242.9,1648.7C244.4,1647.5 245.8,1639.4 247.2,1634.9C248.4,1631.3 249.5,1625.4 250.7,1624.6C251.8,1623.7 253.0,1623.7 254.1,1623.7C255.6,1623.7 257.0,1628.7 258.4,1631.4C260.2,1634.7 261.9,1639.4 263.6,1641.8C265.1,1643.8 266.5,1645.2 267.9,1645.2C269.1,1645.2 270.2,1635.9 271.4,1633.2C272.5,1630.4 273.7,1628.9 274.8,1628.9C276.0,1628.9 277.1,1636.6 278.3,1640.1C279.7,1644.4 281.1,1652.1 282.6,1652.1C283.7,1652.1 284.9,1633.7 286.0,1626.3C287.2,1618.8 288.3,1609.6 289.5,1607.3C290.3,1605.6 291.2,1605.6 292.1,1605.6C293.2,1605.6 294.4,1613.9 295.5,1617.7C296.7,1621.4 297.8,1628.0 299.0,1628.0C300.1,1628.0 301.3,1618.5 302.4,1615.9C303.6,1613.3 304.7,1612.5 305.9,1612.5C307.3,1612.5 308.7,1620.5 310.2,1626.3C311.6,1632.0 313.0,1642.7 314.5,1647.0C315.9,1651.3 317.4,1652.1 318.8,1652.1C320.2,1652.1 321.7,1637.5 323.1,1633.2C324.5,1628.9 326.0,1626.3 327.4,1626.3C328.6,1626.3 329.7,1629.7 330.9,1629.7C332.0,1629.7 333.2,1624.6 334.3,1622.8C335.5,1621.1 336.6,1619.4 337.8,1619.4C338.9,1619.4 340.1,1626.7 341.2,1631.4C342.6,1637.4 344.1,1646.9 345.5,1652.1C346.7,1656.3 347.8,1660.8 349.0,1660.8C350.4,1660.8 351.8,1650.0 353.3,1643.5C354.4,1638.3 355.6,1629.7 356.7,1626.3C357.9,1622.8 359.0,1622.8 360.2,1622.8C361.6,1622.8 363.0,1630.3 364.5,1634.9C365.9,1639.5 367.4,1650.4 368.8,1650.4C370.2,1650.4 371.7,1639.1 373.1,1634.9C374.5,1630.7 376.0,1625.4 377.4,1625.4C378.9,1625.4 380.3,1631.3 381.7,1634.9C383.2,1638.5 384.6,1647.0 386.0,1647.0C387.5,1647.0 388.9,1645.8 390.3,1643.5C392.1,1640.8 393.8,1636.0 395.5,1631.4C397.2,1626.9 399.0,1619.5 400.7,1615.9C402.4,1612.3 404.1,1609.9 405.9,1609.9C407.3,1609.9 408.7,1613.5 410.2,1617.7C411.6,1621.8 413.0,1629.1 414.5,1634.9C415.9,1640.6 417.4,1647.8 418.8,1652.1C419.9,1655.6 421.1,1659.0 422.2,1659.0C423.7,1659.0 425.1,1651.9 426.6,1648.7C428.0,1645.5 429.4,1641.2 430.9,1640.1C432.6,1638.7 434.3,1639.3 436.0,1638.3C437.8,1637.3 439.5,1631.4 441.2,1631.4C442.9,1631.4 444.7,1634.9 446.4,1634.9C447.8,1634.9 449.3,1630.2 450.7,1628.0C451.8,1626.2 453.0,1622.8 454.1,1622.8C454.4,1622.8 454.7,1623.0 455.0,1624.2C455.9,1627.8 456.7,1637.0 457.6,1641.4C458.7,1647.4 459.9,1654.4 461.0,1654.4C462.2,1654.4 463.3,1642.5 464.5,1638.0C465.6,1633.5 466.8,1629.8 467.9,1627.7C469.1,1625.5 470.2,1625.1 471.4,1625.1C472.5,1625.1 473.7,1627.7 474.8,1627.7C476.3,1627.7 477.7,1621.9 479.1,1619.0C480.6,1616.2 482.0,1610.4 483.4,1610.4C484.3,1610.4 485.2,1623.5 486.0,1629.4C487.2,1637.2 488.3,1650.9 489.5,1650.9C490.9,1650.9 492.4,1645.5 493.8,1644.9C495.2,1644.2 496.7,1644.8 498.1,1643.2C499.3,1641.9 500.4,1636.3 501.6,1629.4C503.0,1620.8 504.4,1605.1 505.9,1594.9C507.0,1586.7 508.2,1573.3 509.3,1573.3C510.5,1573.3 511.6,1575.9 512.8,1582.8C513.6,1588.0 514.5,1607.0 515.3,1607.0C516.2,1607.0 517.1,1605.5 517.9,1594.9C518.8,1584.3 519.7,1554.1 520.5,1543.2C521.5,1530.8 522.5,1527.7 523.4,1527.7C524.3,1527.7 525.2,1527.7 526.0,1543.2C527.1,1561.8 528.1,1638.0 529.1,1638.0C530.2,1638.0 531.2,1594.8 532.2,1560.4C533.0,1533.7 533.9,1480.4 534.7,1460.4C535.7,1434.7 536.7,1434.6 537.8,1434.6C538.7,1434.6 539.7,1439.3 540.7,1448.3C541.7,1458.0 542.8,1478.4 543.8,1491.4C544.7,1502.3 545.5,1520.8 546.4,1520.8C547.2,1520.8 548.1,1517.2 549.0,1515.6C549.8,1514.0 550.7,1511.3 551.6,1511.3C552.2,1511.3 552.9,1515.5 553.6,1525.9C554.4,1537.2 555.1,1559.6 555.9,1577.7C556.6,1595.8 557.4,1634.6 558.1,1634.6C558.9,1634.6 559.7,1601.1 560.5,1577.7C561.3,1555.9 562.0,1509.3 562.8,1500.1C563.7,1488.0 564.7,1488.0 565.7,1488.0C566.7,1488.0 567.8,1496.7 568.8,1505.2C569.9,1514.8 571.1,1534.0 572.2,1543.2C573.4,1552.4 574.5,1551.8 575.7,1560.4C576.8,1569.0 578.0,1581.5 579.1,1594.9C580.0,1605.0 580.9,1621.1 581.7,1629.4C582.7,1638.8 583.7,1646.6 584.7,1646.6C586.0,1646.6 587.3,1636.2 588.6,1629.4C590.1,1621.9 591.5,1609.3 592.9,1603.5C594.7,1596.6 596.4,1593.2 598.1,1593.2C599.8,1593.2 601.6,1596.6 603.3,1603.5C604.7,1609.3 606.1,1622.0 607.6,1629.4C609.3,1638.3 611.0,1651.8 612.8,1651.8C614.2,1651.8 615.6,1640.3 617.1,1629.4C618.5,1618.5 619.9,1595.5 621.4,1586.3C622.8,1577.1 624.3,1574.2 625.7,1574.2C626.8,1574.2 628.0,1581.0 629.1,1586.3C630.6,1592.8 632.0,1610.4 633.4,1610.4C634.9,1610.4 636.3,1600.1 637.8,1600.1C638.9,1600.1 640.1,1607.6 641.2,1612.1C642.6,1617.8 644.1,1631.1 645.5,1631.1C647.0,1631.1 648.4,1617.3 649.8,1617.3C651.0,1617.3 652.1,1617.3 653.3,1620.8C654.4,1624.2 655.6,1633.7 656.7,1638.0C657.9,1642.3 659.0,1646.6 660.2,1646.6C661.9,1646.6 663.6,1636.4 665.3,1629.4C666.8,1623.5 668.2,1613.4 669.7,1608.7C670.8,1604.9 672.0,1602.7 673.1,1602.7C674.5,1602.7 676.0,1609.1 677.4,1612.1C679.1,1615.8 680.9,1622.5 682.6,1622.5C684.3,1622.5 686.0,1617.7 687.8,1615.6C689.5,1613.4 691.2,1610.9 692.9,1609.6C694.4,1608.4 695.8,1607.8 697.2,1607.8C698.7,1607.8 700.1,1610.6 701.6,1613.9C703.0,1617.2 704.4,1624.5 705.9,1627.7C707.3,1630.8 708.7,1632.8 710.2,1632.8C711.6,1632.8 713.0,1629.0 714.5,1625.9C716.2,1622.3 717.9,1617.2 719.7,1612.1C721.1,1607.9 722.5,1601.4 724.0,1598.3C725.1,1595.9 726.3,1594.9 727.4,1594.9C728.9,1594.9 730.3,1608.1 731.7,1612.1C733.4,1617.0 735.2,1618.2 736.9,1620.8C738.6,1623.3 740.3,1625.8 742.1,1627.7C743.5,1629.2 744.9,1631.1 746.4,1631.1C747.8,1631.1 749.3,1625.4 750.7,1620.8C752.1,1616.2 753.6,1607.5 755.0,1603.5C756.4,1599.5 757.9,1596.6 759.3,1596.6C760.7,1596.6 762.2,1606.1 763.6,1610.4C765.1,1614.7 766.5,1622.5 767.9,1622.5C768.8,1622.5 769.7,1601.2 770.5,1594.9C771.6,1587.4 772.6,1582.8 773.6,1582.8C774.6,1582.8 775.6,1595.8 776.6,1603.5C777.4,1610.3 778.3,1625.9 779.1,1625.9C780.0,1625.9 780.9,1609.6 781.7,1603.5C782.9,1595.4 784.0,1585.7 785.2,1584.6C786.3,1583.4 787.5,1584.1 788.6,1582.8C789.8,1581.5 790.9,1566.6 792.1,1560.4C793.2,1554.2 794.4,1545.8 795.5,1545.8C796.7,1545.8 797.8,1553.7 799.0,1569.0C799.8,1580.6 800.7,1607.3 801.6,1620.8C802.4,1634.3 803.3,1650.1 804.1,1650.1C804.4,1650.1 804.7,1650.1 805.0,1649.6C806.1,1647.8 807.1,1623.7 808.2,1612.7C809.3,1600.8 810.4,1587.8 811.6,1581.2C812.5,1576.0 813.3,1574.6 814.2,1574.6C815.4,1574.6 816.5,1585.6 817.6,1591.7C818.9,1598.3 820.1,1612.7 821.3,1612.7C822.7,1612.7 824.1,1604.8 825.5,1604.8C826.8,1604.8 828.0,1614.9 829.2,1618.0C830.4,1620.9 831.5,1623.3 832.6,1623.3C833.9,1623.3 835.3,1615.8 836.6,1612.7C837.9,1609.7 839.2,1606.6 840.5,1604.8C841.8,1603.1 843.2,1604.0 844.5,1602.2C846.2,1599.9 848.0,1596.4 849.7,1591.7C851.3,1587.5 852.9,1581.1 854.5,1575.9C856.0,1571.0 857.5,1561.4 858.9,1561.4C860.3,1561.4 861.6,1574.4 862.9,1578.5C864.2,1582.7 865.5,1586.4 866.8,1586.4C868.0,1586.4 869.1,1557.8 870.3,1546.9C871.3,1536.9 872.4,1523.3 873.4,1523.3C874.7,1523.3 876.1,1537.3 877.4,1541.7C878.2,1544.6 879.1,1546.9 880.0,1546.9C881.1,1546.9 882.3,1539.1 883.4,1539.1C884.6,1539.1 885.9,1543.2 887.1,1549.6C888.5,1556.8 889.9,1574.7 891.3,1581.2C892.8,1588.1 894.3,1589.1 895.8,1589.1C897.3,1589.1 898.8,1586.4 900.3,1586.4C901.8,1586.4 903.4,1587.7 905.0,1587.7C906.3,1587.7 907.6,1576.2 908.9,1573.3C910.1,1570.7 911.2,1570.6 912.4,1570.6C913.4,1570.6 914.5,1579.6 915.5,1586.4C916.8,1595.0 918.2,1610.5 919.5,1618.0C920.5,1624.0 921.6,1628.5 922.6,1628.5C923.8,1628.5 924.9,1582.9 926.1,1560.1C926.9,1542.6 927.8,1512.7 928.7,1507.5C929.6,1502.2 930.4,1502.2 931.3,1502.2C932.4,1502.2 933.4,1517.5 934.5,1533.8C935.4,1548.7 936.4,1594.3 937.4,1594.3C938.2,1594.3 938.9,1553.7 939.7,1533.8C940.4,1516.1 941.1,1483.3 941.8,1481.2C942.7,1478.5 943.6,1478.5 944.5,1478.5C945.5,1478.5 946.6,1501.1 947.6,1520.6C948.8,1541.8 949.9,1602.2 951.1,1602.2C952.2,1602.2 953.3,1557.7 954.5,1533.8C955.4,1515.4 956.2,1480.3 957.1,1475.9C958.2,1470.6 959.2,1470.6 960.3,1470.6C961.1,1470.6 962.0,1513.8 962.9,1533.8C963.9,1557.8 965.0,1602.2 966.1,1602.2C967.2,1602.2 968.3,1574.5 969.5,1560.1C970.4,1549.0 971.2,1529.9 972.1,1525.9C973.2,1520.6 974.4,1520.6 975.5,1520.6C976.6,1520.6 977.6,1530.2 978.7,1533.8C980.0,1538.3 981.3,1544.3 982.6,1544.3C983.9,1544.3 985.3,1533.8 986.6,1533.8C987.9,1533.8 989.2,1533.8 990.5,1536.4C991.8,1539.1 993.2,1573.3 994.5,1573.3C995.8,1573.3 997.1,1551.3 998.4,1533.8C999.7,1516.2 1001.1,1482.0 1002.4,1468.0C1003.7,1454.0 1005.0,1449.6 1006.3,1449.6C1007.6,1449.6 1008.9,1456.2 1010.3,1468.0C1011.6,1479.8 1012.9,1505.7 1014.2,1520.6C1015.5,1535.5 1016.8,1557.5 1018.2,1557.5C1019.2,1557.5 1020.3,1553.5 1021.3,1552.2C1022.5,1550.8 1023.6,1549.6 1024.7,1549.6C1026.1,1549.6 1027.4,1559.2 1028.7,1565.4C1030.0,1571.5 1031.3,1586.4 1032.6,1586.4C1033.8,1586.4 1034.9,1567.1 1036.1,1560.1C1037.1,1553.6 1038.2,1545.6 1039.2,1545.6C1040.1,1545.6 1041.0,1552.6 1041.8,1560.1C1042.9,1569.1 1043.9,1596.9 1045.0,1596.9C1046.1,1596.9 1047.3,1560.3 1048.4,1533.8C1049.3,1513.4 1050.2,1473.3 1051.1,1460.1C1051.8,1449.6 1052.5,1449.6 1053.2,1449.6C1054.2,1449.6 1055.3,1456.2 1056.3,1468.0C1057.6,1482.8 1058.9,1517.1 1060.3,1533.8C1061.6,1550.5 1062.9,1568.0 1064.2,1568.0C1065.5,1568.0 1066.8,1557.0 1068.2,1549.6C1069.2,1543.6 1070.3,1531.7 1071.3,1528.5C1072.2,1525.9 1073.1,1525.9 1073.9,1525.9C1075.1,1525.9 1076.2,1538.6 1077.4,1546.9C1079.1,1559.8 1080.9,1580.2 1082.6,1591.7C1083.8,1599.2 1084.9,1607.5 1086.1,1607.5C1087.1,1607.5 1088.2,1565.8 1089.2,1546.9C1090.5,1523.4 1091.8,1495.2 1093.2,1481.2C1094.3,1469.0 1095.4,1465.4 1096.6,1465.4C1097.6,1465.4 1098.7,1467.4 1099.7,1470.6C1101.5,1476.0 1103.2,1483.8 1105.0,1494.3C1106.8,1504.8 1108.5,1524.3 1110.3,1533.8C1111.8,1542.3 1113.4,1549.6 1115.0,1549.6C1116.1,1549.6 1117.1,1514.5 1118.2,1494.3C1119.2,1474.1 1120.3,1438.4 1121.3,1428.5C1122.0,1421.9 1122.7,1421.9 1123.4,1421.9C1124.7,1421.9 1126.1,1438.4 1127.4,1454.8C1128.7,1471.3 1130.0,1520.6 1131.3,1520.6C1132.6,1520.6 1133.9,1469.0 1135.3,1441.7C1136.4,1418.0 1137.5,1374.8 1138.7,1368.0C1139.6,1362.7 1140.4,1362.7 1141.3,1362.7C1142.5,1362.7 1143.8,1368.0 1145.0,1368.0C1146.1,1368.0 1147.3,1355.7 1148.4,1349.6C1149.6,1343.4 1150.7,1334.0 1151.8,1331.2C1152.9,1328.5 1153.9,1328.5 1155.0,1328.5C1156.3,1328.5 1157.6,1337.3 1158.9,1349.6C1160.3,1361.9 1161.6,1387.8 1162.9,1402.2C1164.6,1421.4 1166.4,1446.9 1168.2,1446.9C1169.5,1446.9 1170.8,1425.9 1172.1,1418.0C1173.4,1410.1 1174.7,1399.6 1176.1,1399.6C1177.4,1399.6 1178.7,1399.6 1180.0,1412.7C1180.9,1421.5 1181.8,1452.2 1182.6,1468.0C1183.7,1486.9 1184.7,1515.4 1185.8,1515.4C1186.9,1515.4 1188.1,1485.0 1189.2,1468.0C1190.1,1454.9 1191.0,1434.4 1191.8,1425.9C1192.7,1417.3 1193.6,1416.7 1194.5,1416.7C1195.4,1416.7 1196.2,1425.2 1197.1,1428.5C1198.0,1431.8 1198.9,1436.4 1199.7,1436.4C1201.1,1436.4 1202.4,1414.1 1203.7,1402.2C1205.0,1390.4 1206.3,1371.3 1207.6,1365.4C1208.5,1361.4 1209.4,1361.4 1210.3,1361.4C1211.6,1361.4 1212.9,1370.0 1214.2,1373.3C1215.5,1376.6 1216.8,1381.2 1218.2,1381.2C1219.3,1381.2 1220.4,1361.1 1221.6,1354.8C1222.6,1349.0 1223.7,1344.3 1224.7,1344.3C1225.8,1344.3 1226.8,1348.4 1227.9,1357.5C1229.0,1367.3 1230.2,1392.5 1231.3,1402.2C1232.2,1409.7 1233.1,1412.7 1233.9,1412.7C1234.8,1412.7 1235.7,1378.1 1236.6,1365.4C1237.5,1352.6 1238.3,1340.2 1239.2,1336.4C1239.8,1333.8 1240.4,1333.8 1241.1,1333.8C1242.2,1333.8 1243.3,1346.9 1244.5,1354.8C1245.6,1362.7 1246.8,1375.8 1247.9,1381.2C1248.9,1386.1 1250.0,1386.4 1251.1,1386.4C1252.4,1386.4 1253.7,1371.9 1255.0,1362.7C1256.3,1353.5 1257.6,1339.5 1258.9,1331.2C1260.3,1322.8 1261.6,1317.3 1262.9,1312.7C1264.0,1308.8 1265.2,1304.8 1266.3,1304.8C1267.4,1304.8 1268.4,1304.8 1269.5,1312.7C1270.4,1319.3 1271.2,1334.7 1272.1,1362.7C1273.0,1390.8 1273.9,1448.6 1274.7,1481.2C1275.8,1520.2 1276.8,1573.3 1277.9,1573.3C1278.9,1573.3 1279.8,1526.8 1280.8,1494.3C1281.7,1464.8 1282.5,1410.5 1283.4,1389.1C1284.3,1367.6 1285.2,1365.4 1286.1,1365.4C1287.1,1365.4 1288.2,1375.5 1289.2,1378.5C1290.1,1381.0 1291.0,1382.5 1291.8,1382.5C1292.7,1382.5 1293.6,1375.9 1294.5,1375.9C1295.4,1375.9 1296.2,1379.4 1297.1,1396.9C1298.0,1414.5 1298.9,1454.5 1299.7,1481.2C1300.4,1502.5 1301.1,1541.7 1301.8,1541.7C1302.9,1541.7 1303.9,1474.6 1305.0,1441.7C1306.1,1408.8 1307.1,1361.5 1308.2,1344.3C1309.1,1328.5 1310.1,1328.5 1311.1,1328.5C1312.1,1328.5 1313.2,1328.5 1314.2,1354.8C1315.1,1376.8 1316.0,1444.3 1316.8,1481.2C1317.7,1518.0 1318.6,1575.9 1319.5,1575.9C1320.4,1575.9 1321.2,1507.4 1322.1,1468.0C1322.8,1436.5 1323.5,1375.9 1324.2,1365.4C1324.8,1356.2 1325.4,1356.2 1326.1,1356.2C1326.9,1356.2 1327.8,1366.0 1328.7,1389.1C1329.6,1412.1 1330.4,1467.7 1331.3,1494.3C1332.5,1529.0 1333.6,1565.4 1334.7,1565.4C1335.6,1565.4 1336.5,1536.9 1337.4,1520.6C1338.2,1504.4 1339.1,1475.9 1340.0,1468.0C1340.9,1460.1 1341.8,1460.1 1342.6,1460.1C1343.7,1460.1 1344.7,1477.6 1345.8,1494.3C1346.8,1511.0 1347.9,1560.1 1348.9,1560.1C1350.1,1560.1 1351.2,1516.2 1352.4,1494.3C1353.5,1472.4 1354.6,1439.9 1355.8,1428.5C1356.8,1418.0 1357.9,1418.0 1358.9,1418.0C1360.0,1418.0 1361.1,1430.4 1362.1,1441.7C1363.2,1453.9 1364.4,1489.1 1365.5,1489.1C1366.4,1489.1 1367.3,1471.5 1368.2,1454.8C1369.0,1438.2 1369.9,1396.9 1370.8,1389.1C1371.7,1381.2 1372.5,1381.2 1373.4,1381.2C1374.6,1381.2 1375.7,1394.0 1376.8,1402.2C1377.9,1409.8 1378.9,1423.1 1380.0,1428.5C1381.3,1435.3 1382.6,1436.4 1383.9,1436.4C1385.3,1436.4 1386.6,1428.5 1387.9,1428.5C1389.2,1428.5 1390.5,1433.8 1391.8,1441.7C1393.2,1449.6 1394.5,1467.6 1395.8,1475.9C1397.1,1484.2 1398.4,1491.7 1399.7,1491.7C1401.5,1491.7 1403.2,1485.4 1405.0,1468.0C1406.3,1455.0 1407.6,1422.5 1408.9,1407.5C1410.0,1395.5 1411.1,1383.8 1412.1,1383.8C1413.2,1383.8 1414.4,1383.8 1415.5,1386.4C1416.4,1388.4 1417.3,1406.2 1418.2,1428.5C1419.0,1450.9 1419.9,1497.9 1420.8,1520.6C1421.9,1550.2 1423.1,1578.5 1424.2,1578.5C1425.3,1578.5 1426.3,1520.2 1427.4,1494.3C1428.4,1468.4 1429.5,1434.3 1430.5,1423.3C1431.4,1414.1 1432.3,1414.1 1433.2,1414.1C1434.0,1414.1 1434.9,1419.5 1435.8,1441.7C1436.7,1463.8 1437.5,1523.3 1438.4,1546.9C1439.3,1570.6 1440.2,1583.8 1441.1,1583.8C1442.0,1583.8 1443.0,1526.1 1443.9,1494.3C1444.8,1465.4 1445.7,1411.0 1446.6,1402.2C1447.6,1391.7 1448.7,1391.7 1449.7,1391.7C1450.9,1391.7 1452.0,1409.6 1453.2,1441.7C1454.2,1471.3 1455.3,1545.3 1456.3,1573.3C1457.2,1596.6 1458.1,1603.5 1458.9,1603.5C1460.0,1603.5 1461.1,1549.7 1462.1,1520.6C1463.0,1496.4 1463.9,1452.2 1464.7,1444.3C1465.6,1436.4 1466.5,1436.4 1467.4,1436.4C1468.2,1436.4 1469.1,1456.0 1470.0,1468.0C1471.1,1483.6 1472.3,1504.3 1473.4,1520.6C1474.7,1539.5 1476.1,1560.1 1477.4,1573.3C1478.7,1586.4 1480.0,1599.6 1481.3,1599.6C1482.6,1599.6 1483.9,1573.3 1485.3,1560.1C1486.6,1546.9 1487.9,1530.3 1489.2,1520.6C1490.5,1511.0 1491.8,1511.0 1493.2,1502.2C1494.5,1493.4 1495.8,1478.8 1497.1,1468.0C1498.2,1458.7 1499.4,1447.3 1500.5,1441.7C1501.6,1436.5 1502.6,1435.1 1503.7,1435.1C1504.7,1435.1 1505.8,1441.4 1506.8,1454.8C1508.0,1469.4 1509.1,1506.2 1510.3,1520.6C1511.1,1531.7 1512.0,1536.4 1512.9,1536.4C1513.8,1536.4 1514.6,1512.7 1515.5,1507.5C1516.4,1502.2 1517.3,1502.2 1518.2,1502.2C1519.5,1502.2 1520.8,1515.4 1522.1,1515.4C1523.4,1515.4 1524.7,1507.9 1526.1,1504.8C1527.4,1501.8 1528.7,1496.9 1530.0,1496.9C1531.3,1496.9 1532.6,1496.9 1533.9,1496.9C1535.3,1496.9 1536.6,1494.3 1537.9,1494.3C1539.2,1494.3 1540.5,1504.3 1541.8,1507.5C1543.0,1510.3 1544.1,1512.7 1545.3,1512.7C1546.5,1512.7 1547.7,1506.8 1548.9,1504.8C1549.8,1503.5 1550.7,1502.2 1551.6,1502.2C1552.7,1502.2 1553.9,1510.6 1555.0,1524.6C1556.1,1537.5 1557.1,1567.5 1558.2,1581.2C1559.6,1599.4 1561.0,1615.4 1562.4,1615.4C1563.9,1615.4 1565.4,1588.7 1566.8,1573.3C1568.2,1559.6 1569.5,1540.9 1570.8,1528.5C1571.8,1518.6 1572.9,1509.6 1573.9,1504.8C1575.1,1499.7 1576.2,1499.6 1577.4,1499.6C1578.5,1499.6 1579.6,1509.5 1580.8,1515.4C1582.0,1521.7 1583.2,1536.4 1584.5,1536.4C1585.6,1536.4 1586.8,1530.7 1587.9,1528.5C1589.0,1526.3 1590.2,1523.3 1591.3,1523.3C1592.4,1523.3 1593.4,1536.5 1594.5,1541.7C1595.8,1548.2 1597.1,1557.5 1598.4,1557.5C1599.6,1557.5 1600.7,1542.9 1601.8,1539.1C1603.1,1534.9 1604.3,1533.8 1605.5,1533.8C1606.7,1533.8 1607.8,1546.9 1608.9,1546.9C1610.1,1546.9 1611.2,1545.0 1612.4,1544.3C1613.4,1543.7 1614.5,1543.0 1615.5,1543.0C1616.8,1543.0 1618.2,1560.1 1619.5,1560.1C1620.8,1560.1 1622.1,1560.1 1623.4,1557.5C1624.7,1554.8 1626.1,1544.3 1627.4,1544.3C1628.5,1544.3 1629.6,1550.8 1630.8,1560.1C1631.8,1568.7 1632.9,1588.4 1633.9,1596.9C1635.3,1607.7 1636.6,1615.4 1637.9,1615.4C1639.0,1615.4 1640.2,1597.4 1641.3,1586.4C1642.4,1576.3 1643.4,1556.9 1644.5,1552.2C1645.4,1548.3 1646.2,1548.3 1647.1,1548.3C1648.2,1548.3 1649.2,1558.1 1650.3,1560.1C1651.4,1562.3 1652.5,1561.3 1653.7,1562.7C1654.8,1564.2 1656.0,1566.5 1657.1,1570.6C1658.2,1574.5 1659.2,1582.0 1660.3,1586.4C1661.6,1591.9 1662.9,1597.4 1664.2,1599.6C1665.5,1601.8 1666.8,1600.8 1668.2,1602.2C1669.9,1604.2 1671.7,1608.6 1673.4,1612.7C1675.2,1616.9 1676.9,1627.2 1678.7,1627.2C1680.0,1627.2 1681.3,1619.1 1682.6,1612.7C1683.9,1606.4 1685.3,1589.1 1686.6,1589.1C1687.9,1589.1 1689.2,1592.1 1690.5,1596.9C1691.8,1601.8 1693.2,1611.9 1694.5,1618.0C1696.1,1625.3 1697.6,1636.4 1699.2,1636.4C1700.3,1636.4 1701.3,1625.0 1702.4,1620.6C1703.7,1615.1 1705.0,1607.5 1706.3,1607.5C1707.6,1607.5 1708.9,1619.8 1710.3,1623.3C1711.6,1626.8 1712.9,1628.5 1714.2,1628.5C1715.4,1628.5 1716.5,1610.2 1717.6,1604.8C1718.7,1599.9 1719.7,1596.9 1720.8,1596.9C1722.1,1596.9 1723.4,1613.6 1724.7,1620.6C1725.9,1626.7 1727.0,1636.4 1728.2,1636.4C1729.2,1636.4 1730.3,1618.7 1731.3,1612.7C1732.4,1606.8 1733.4,1600.9 1734.5,1600.9C1736.1,1600.9 1737.6,1612.4 1739.2,1618.0C1741.0,1624.2 1742.7,1633.7 1744.5,1636.4C1746.1,1638.9 1747.6,1638.1 1749.2,1639.1C1751.0,1640.1 1752.7,1644.3 1754.5,1644.3C1756.0,1644.3 1757.5,1626.6 1758.9,1620.6C1760.3,1615.4 1761.6,1610.1 1762.9,1610.1C1764.2,1610.1 1765.5,1612.7 1766.8,1615.4C1768.2,1618.0 1769.5,1624.2 1770.8,1625.9C1772.5,1628.1 1774.3,1627.1 1776.1,1628.5C1777.8,1629.9 1779.6,1636.4 1781.3,1636.4C1782.9,1636.4 1784.5,1636.4 1786.1,1636.4C1787.5,1636.4 1789.0,1626.6 1790.5,1623.3C1792.3,1619.4 1794.0,1615.4 1795.8,1615.4C1797.1,1615.4 1798.4,1615.4 1799.7,1615.4C1801.1,1615.4 1802.4,1626.7 1803.7,1631.2C1805.4,1637.1 1807.2,1645.6 1808.9,1645.6C1811.1,1645.6 1813.3,1640.7 1815.5,1639.1C1817.3,1637.7 1819.0,1637.7 1820.8,1636.4C1822.5,1635.1 1824.3,1632.9 1826.1,1631.2C1827.8,1629.4 1829.6,1627.2 1831.3,1625.9C1833.1,1624.6 1834.8,1623.3 1836.6,1623.3C1837.9,1623.3 1839.2,1633.8 1840.5,1639.1C1841.8,1644.3 1843.2,1651.3 1844.5,1654.8C1845.8,1658.4 1847.1,1660.1 1848.4,1660.1C1849.7,1660.1 1851.1,1648.4 1852.4,1644.3C1854.1,1638.8 1855.9,1634.2 1857.6,1632.5C1858.9,1631.2 1860.3,1631.2 1861.6,1631.2C1862.9,1631.2 1864.2,1639.1 1865.5,1639.1C1866.6,1639.1 1867.6,1639.1 1868.7,1636.4C1869.4,1634.7 1870.1,1625.9 1870.8,1620.6" fill="none" stroke="#9c0a35" stroke-opacity="0.5" stroke-width="5.9" stroke-linejoin="round" stroke-linecap="butt"/>
<path d="M111.9,1662.5C113.6,1658.5 115.3,1653.9 117.1,1650.4C118.8,1647.0 120.5,1644.1 122.2,1641.8C124.0,1639.5 125.7,1637.5 127.4,1636.6C129.1,1635.8 130.9,1635.8 132.6,1635.8C134.0,1635.8 135.5,1638.9 136.9,1640.1C138.6,1641.5 140.3,1643.5 142.1,1643.5C143.8,1643.5 145.5,1641.6 147.2,1640.9C149.0,1640.2 150.7,1639.2 152.4,1639.2C154.1,1639.2 155.9,1643.2 157.6,1643.5C159.3,1643.8 161.0,1643.6 162.8,1644.4C163.9,1644.9 165.1,1648.8 166.2,1652.1C167.4,1655.4 168.5,1662.1 169.7,1664.2C171.1,1666.8 172.5,1666.8 174.0,1666.8C175.7,1666.8 177.4,1662.1 179.1,1660.8C180.9,1659.5 182.6,1659.9 184.3,1659.0C186.0,1658.2 187.8,1655.6 189.5,1655.6C191.2,1655.6 192.9,1656.9 194.7,1657.3C196.4,1657.7 198.1,1657.6 199.8,1658.2C201.6,1658.7 203.3,1659.3 205.0,1660.8C206.7,1662.2 208.4,1666.8 210.2,1666.8C211.9,1666.8 213.6,1661.0 215.3,1659.0C216.8,1657.4 218.2,1655.6 219.7,1655.6C221.1,1655.6 222.5,1662.5 224.0,1662.5C225.7,1662.5 227.4,1662.5 229.1,1662.5C230.6,1662.5 232.0,1665.9 233.4,1665.9C235.2,1665.9 236.9,1662.9 238.6,1662.5C240.6,1662.0 242.6,1662.4 244.7,1661.6C246.4,1661.0 248.1,1656.9 249.8,1655.6C251.6,1654.3 253.3,1654.4 255.0,1653.9C256.7,1653.3 258.4,1653.1 260.2,1652.1C261.9,1651.1 263.6,1648.7 265.3,1647.8C266.8,1647.1 268.2,1647.0 269.7,1647.0C271.4,1647.0 273.1,1654.6 274.8,1657.3C276.3,1659.6 277.7,1662.5 279.1,1662.5C280.6,1662.5 282.0,1656.4 283.4,1652.1C284.9,1647.8 286.3,1639.9 287.8,1636.6C288.9,1634.0 290.1,1633.2 291.2,1633.2C292.6,1633.2 294.1,1643.5 295.5,1643.5C297.0,1643.5 298.4,1634.0 299.8,1631.4C301.3,1628.9 302.7,1628.0 304.1,1628.0C305.6,1628.0 307.0,1635.2 308.4,1640.1C309.9,1645.0 311.3,1653.3 312.8,1657.3C314.2,1661.3 315.6,1664.2 317.1,1664.2C318.8,1664.2 320.5,1662.5 322.2,1660.8C324.0,1659.0 325.7,1657.1 327.4,1653.9C328.9,1651.2 330.3,1646.8 331.7,1643.5C333.2,1640.2 334.6,1635.5 336.0,1634.0C336.9,1633.2 337.8,1633.2 338.6,1633.2C339.8,1633.2 340.9,1643.9 342.1,1648.7C343.5,1654.7 344.9,1665.1 346.4,1665.1C347.8,1665.1 349.3,1665.1 350.7,1664.2C352.1,1663.3 353.6,1657.5 355.0,1655.6C356.7,1653.3 358.4,1652.1 360.2,1652.1C361.9,1652.1 363.6,1652.7 365.3,1653.9C367.1,1655.0 368.8,1659.0 370.5,1659.0C372.2,1659.0 374.0,1656.4 375.7,1656.4C377.4,1656.4 379.1,1657.5 380.9,1658.2C382.6,1658.9 384.3,1660.2 386.0,1660.8C387.8,1661.3 389.5,1661.6 391.2,1661.6C393.5,1661.6 395.8,1655.5 398.1,1653.9C399.8,1652.6 401.6,1652.1 403.3,1652.1C405.0,1652.1 406.7,1655.6 408.4,1657.3C410.2,1659.0 411.9,1660.9 413.6,1662.5C415.3,1664.1 417.1,1666.8 418.8,1666.8C420.5,1666.8 422.2,1666.8 424.0,1666.8C425.7,1666.8 427.4,1664.9 429.1,1664.2C431.4,1663.3 433.7,1663.2 436.0,1662.5C437.8,1662.0 439.5,1660.8 441.2,1660.8C442.9,1660.8 444.7,1661.6 446.4,1661.6C448.1,1661.6 449.8,1658.4 451.6,1658.2C452.7,1658.0 453.9,1658.0 455.0,1658.0C456.7,1658.0 458.4,1665.6 460.2,1665.6C461.9,1665.6 463.6,1661.7 465.3,1661.3C467.6,1660.7 469.9,1661.0 472.2,1660.4C474.0,1660.0 475.7,1657.3 477.4,1656.1C479.1,1655.0 480.9,1653.5 482.6,1653.5C484.9,1653.5 487.2,1659.6 489.5,1660.4C491.8,1661.3 494.1,1661.3 496.4,1661.3C498.1,1661.3 499.8,1660.0 501.6,1656.1C503.3,1652.2 505.0,1642.4 506.7,1638.0C508.2,1634.3 509.6,1631.1 511.0,1631.1C512.5,1631.1 513.9,1646.6 515.3,1646.6C516.5,1646.6 517.6,1646.6 518.8,1636.3C519.7,1628.5 520.5,1603.4 521.4,1594.9C522.2,1586.4 523.1,1585.4 524.0,1585.4C525.0,1585.4 526.0,1599.9 527.1,1612.1C527.9,1621.6 528.7,1648.3 529.5,1648.3C530.5,1648.3 531.6,1626.8 532.6,1612.1C533.4,1599.9 534.3,1579.4 535.2,1569.0C536.0,1558.7 536.9,1550.1 537.8,1550.1C538.7,1550.1 539.7,1556.0 540.7,1560.4C541.7,1565.1 542.8,1574.0 543.8,1577.7C544.9,1581.7 546.1,1581.7 547.2,1582.8C548.4,1584.0 549.5,1583.0 550.7,1586.3C552.1,1590.3 553.6,1603.5 555.0,1612.1C556.1,1619.0 557.3,1632.8 558.4,1632.8C559.6,1632.8 560.7,1601.7 561.9,1586.3C562.8,1574.7 563.6,1556.1 564.5,1551.8C565.3,1547.5 566.2,1547.5 567.1,1547.5C568.2,1547.5 569.4,1554.4 570.5,1560.4C572.2,1569.4 574.0,1583.4 575.7,1594.9C577.4,1606.4 579.1,1620.5 580.9,1629.4C582.3,1636.8 583.7,1644.9 585.2,1644.9C586.6,1644.9 588.0,1629.6 589.5,1620.8C591.2,1610.2 592.9,1594.4 594.7,1586.3C596.1,1579.5 597.5,1574.2 599.0,1574.2C600.4,1574.2 601.8,1585.5 603.3,1594.9C605.0,1606.2 606.7,1628.1 608.4,1638.0C610.2,1647.9 611.9,1654.4 613.6,1654.4C615.1,1654.4 616.5,1639.3 617.9,1629.4C619.4,1619.5 620.8,1602.1 622.2,1594.9C623.4,1589.1 624.5,1588.0 625.7,1588.0C626.8,1588.0 628.0,1605.8 629.1,1612.1C630.6,1620.0 632.0,1629.4 633.4,1629.4C634.6,1629.4 635.7,1611.7 636.9,1603.5C637.8,1597.4 638.6,1586.3 639.5,1586.3C640.3,1586.3 641.2,1596.7 642.1,1603.5C643.5,1614.9 644.9,1643.2 646.4,1643.2C647.5,1643.2 648.7,1609.1 649.8,1594.9C650.7,1584.3 651.6,1569.9 652.4,1567.3C653.3,1564.7 654.1,1564.7 655.0,1564.7C656.1,1564.7 657.3,1573.0 658.4,1577.7C660.2,1584.6 661.9,1599.5 663.6,1600.1C665.1,1600.5 666.5,1600.2 667.9,1600.9C669.4,1601.7 670.8,1624.6 672.2,1632.8C673.7,1641.0 675.1,1650.1 676.6,1650.1C678.0,1650.1 679.4,1636.9 680.9,1629.4C682.3,1621.9 683.7,1605.2 685.2,1605.2C686.3,1605.2 687.5,1607.3 688.6,1610.4C690.1,1614.4 691.5,1627.7 692.9,1627.7C694.4,1627.7 695.8,1617.0 697.2,1612.1C698.7,1607.3 700.1,1601.2 701.6,1598.3C703.0,1595.5 704.4,1594.9 705.9,1594.9C707.3,1594.9 708.7,1603.6 710.2,1608.7C711.9,1614.8 713.6,1628.5 715.3,1628.5C716.5,1628.5 717.6,1625.5 718.8,1620.8C720.2,1614.8 721.7,1601.5 723.1,1594.9C724.5,1588.3 726.0,1581.1 727.4,1581.1C728.9,1581.1 730.3,1588.3 731.7,1594.9C733.2,1601.5 734.6,1613.6 736.0,1620.8C737.8,1629.4 739.5,1636.8 741.2,1641.4C742.6,1645.3 744.1,1647.5 745.5,1647.5C747.0,1647.5 748.4,1634.8 749.8,1629.4C751.6,1622.9 753.3,1612.1 755.0,1612.1C756.7,1612.1 758.4,1615.3 760.2,1617.3C761.9,1619.3 763.6,1624.2 765.3,1624.2C767.1,1624.2 768.8,1624.2 770.5,1624.2C772.0,1624.2 773.4,1629.7 774.8,1632.8C776.3,1636.0 777.7,1643.2 779.1,1643.2C780.3,1643.2 781.4,1635.1 782.6,1629.4C784.0,1622.2 785.5,1610.1 786.9,1603.5C788.3,1596.9 789.8,1591.9 791.2,1589.7C792.4,1588.0 793.5,1588.0 794.7,1588.0C795.8,1588.0 797.0,1596.6 798.1,1603.5C799.3,1610.4 800.4,1624.6 801.6,1629.4C802.7,1634.1 803.9,1634.1 805.0,1634.1C806.3,1634.1 807.6,1608.4 808.9,1599.6C810.3,1590.8 811.6,1581.2 812.9,1581.2C814.2,1581.2 815.5,1583.8 816.8,1586.4C818.2,1589.1 819.5,1594.2 820.8,1596.9C822.5,1600.6 824.3,1602.2 826.1,1604.8C827.8,1607.5 829.6,1612.7 831.3,1612.7C833.1,1612.7 834.8,1611.0 836.6,1610.1C838.3,1609.2 840.1,1608.8 841.8,1607.5C843.6,1606.2 845.4,1604.0 847.1,1602.2C848.9,1600.5 850.6,1598.7 852.4,1596.9C854.1,1595.2 855.9,1591.7 857.6,1591.7C859.4,1591.7 861.1,1597.7 862.9,1599.6C864.2,1601.0 865.5,1602.2 866.8,1602.2C868.0,1602.2 869.1,1575.3 870.3,1565.4C871.3,1556.2 872.4,1544.3 873.4,1544.3C874.7,1544.3 876.1,1551.8 877.4,1554.8C878.7,1557.9 880.0,1559.8 881.3,1562.7C883.1,1566.7 884.8,1565.8 886.6,1575.9C888.3,1586.0 890.1,1612.4 891.8,1623.3C893.2,1631.4 894.5,1636.4 895.8,1636.4C897.1,1636.4 898.4,1618.3 899.7,1612.7C901.5,1605.3 903.2,1602.6 905.0,1599.6C906.8,1596.5 908.5,1594.3 910.3,1594.3C911.6,1594.3 912.9,1604.4 914.2,1612.7C915.5,1621.1 916.8,1638.0 918.2,1644.3C919.7,1651.9 921.3,1652.2 922.9,1652.2C923.9,1652.2 925.0,1616.1 926.1,1599.6C927.4,1579.0 928.7,1541.7 930.0,1541.7C930.9,1541.7 931.8,1541.7 932.6,1549.6C933.7,1559.1 934.7,1596.9 935.8,1596.9C936.9,1596.9 938.1,1562.4 939.2,1546.9C940.3,1532.7 941.3,1507.5 942.4,1507.5C943.2,1507.5 944.1,1507.5 945.0,1507.5C946.1,1507.5 947.3,1531.2 948.4,1546.9C949.6,1562.7 950.7,1602.2 951.8,1602.2C952.9,1602.2 953.9,1555.7 955.0,1533.8C955.9,1515.5 956.8,1483.8 957.6,1481.2C958.5,1478.5 959.4,1478.5 960.3,1478.5C961.1,1478.5 962.0,1515.1 962.9,1533.8C963.9,1556.2 965.0,1602.2 966.1,1602.2C967.2,1602.2 968.3,1570.5 969.5,1560.1C970.4,1552.1 971.2,1544.3 972.1,1544.3C973.2,1544.3 974.4,1544.9 975.5,1552.2C977.0,1561.8 978.5,1589.2 980.0,1599.6C981.3,1608.7 982.6,1612.7 983.9,1612.7C984.8,1612.7 985.7,1599.6 986.6,1599.6C987.5,1599.6 988.3,1603.8 989.2,1607.5C990.5,1613.0 991.8,1628.5 993.2,1628.5C994.3,1628.5 995.4,1614.5 996.6,1599.6C998.1,1580.1 999.6,1543.2 1001.1,1520.6C1002.4,1500.7 1003.7,1470.6 1005.0,1470.6C1005.9,1470.6 1006.8,1470.6 1007.6,1481.2C1008.9,1496.9 1010.3,1539.4 1011.6,1560.1C1012.7,1578.1 1013.9,1599.6 1015.0,1599.6C1016.5,1599.6 1018.0,1586.4 1019.5,1586.4C1020.8,1586.4 1022.1,1589.2 1023.4,1591.7C1025.2,1595.0 1026.9,1604.8 1028.7,1604.8C1030.4,1604.8 1032.2,1604.8 1033.9,1604.8C1035.3,1604.8 1036.6,1607.9 1037.9,1612.7C1039.2,1617.6 1040.5,1628.1 1041.8,1633.8C1042.9,1638.4 1043.9,1644.3 1045.0,1644.3C1046.1,1644.3 1047.3,1615.6 1048.4,1599.6C1049.3,1587.3 1050.2,1562.7 1051.1,1560.1C1051.9,1557.5 1052.8,1557.5 1053.7,1557.5C1054.6,1557.5 1055.4,1566.7 1056.3,1573.3C1057.2,1579.8 1058.1,1596.9 1058.9,1596.9C1060.3,1596.9 1061.6,1578.3 1062.9,1573.3C1063.9,1569.2 1065.0,1568.0 1066.1,1568.0C1067.6,1568.0 1069.2,1575.6 1070.8,1578.5C1072.5,1581.8 1074.3,1582.8 1076.1,1586.4C1077.4,1589.2 1078.7,1592.2 1080.0,1596.9C1081.1,1601.1 1082.3,1609.2 1083.4,1612.7C1084.3,1615.4 1085.2,1616.7 1086.1,1616.7C1087.1,1616.7 1088.2,1577.3 1089.2,1560.1C1090.5,1538.7 1091.8,1511.3 1093.2,1502.2C1094.3,1494.3 1095.4,1494.3 1096.6,1494.3C1097.6,1494.3 1098.7,1495.5 1099.7,1496.9C1101.5,1499.4 1103.2,1502.6 1105.0,1507.5C1106.8,1512.3 1108.5,1521.5 1110.3,1525.9C1112.0,1530.3 1113.8,1533.8 1115.5,1533.8C1116.8,1533.8 1118.2,1502.8 1119.5,1494.3C1120.5,1487.5 1121.6,1485.1 1122.6,1485.1C1123.6,1485.1 1124.6,1494.5 1125.5,1502.2C1126.6,1510.6 1127.6,1526.7 1128.7,1533.8C1129.6,1539.7 1130.4,1543.0 1131.3,1543.0C1132.4,1543.0 1133.4,1501.6 1134.5,1481.2C1135.6,1459.0 1136.8,1428.6 1137.9,1415.4C1139.2,1400.1 1140.5,1399.6 1141.8,1399.6C1143.2,1399.6 1144.5,1401.3 1145.8,1402.2C1147.1,1403.1 1148.4,1404.2 1149.7,1404.8C1151.1,1405.5 1152.4,1406.2 1153.7,1406.2C1155.0,1406.2 1156.3,1403.5 1157.6,1403.5C1158.9,1403.5 1160.3,1418.7 1161.6,1428.5C1162.9,1438.4 1164.2,1455.7 1165.5,1462.7C1166.6,1468.4 1167.6,1469.3 1168.7,1469.3C1169.8,1469.3 1171.0,1448.6 1172.1,1441.7C1173.4,1433.7 1174.7,1425.9 1176.1,1425.9C1177.4,1425.9 1178.7,1425.9 1180.0,1440.4C1180.9,1450.0 1181.8,1492.3 1182.6,1507.5C1183.7,1525.7 1184.7,1536.4 1185.8,1536.4C1186.9,1536.4 1188.1,1512.3 1189.2,1494.3C1190.4,1476.3 1191.5,1435.4 1192.6,1428.5C1193.5,1423.3 1194.4,1423.3 1195.3,1423.3C1196.1,1423.3 1197.0,1447.4 1197.9,1454.8C1198.9,1463.8 1200.0,1470.6 1201.1,1470.6C1202.1,1470.6 1203.2,1442.0 1204.2,1428.5C1205.4,1413.9 1206.5,1386.4 1207.6,1386.4C1208.5,1386.4 1209.4,1386.4 1210.3,1389.1C1211.1,1391.7 1212.0,1415.5 1212.9,1423.3C1214.0,1433.3 1215.2,1439.1 1216.3,1439.1C1217.5,1439.1 1218.8,1415.1 1220.0,1407.5C1221.1,1400.4 1222.3,1394.3 1223.4,1394.3C1224.6,1394.3 1225.7,1400.8 1226.8,1407.5C1228.1,1414.7 1229.3,1429.9 1230.5,1436.4C1231.5,1441.5 1232.5,1444.3 1233.4,1444.3C1234.5,1444.3 1235.5,1412.9 1236.6,1402.2C1237.7,1390.7 1238.9,1380.0 1240.0,1378.5C1241.1,1377.2 1242.1,1377.2 1243.2,1377.2C1244.2,1377.2 1245.3,1394.8 1246.3,1402.2C1247.5,1410.2 1248.6,1420.6 1249.7,1423.3C1250.9,1425.9 1252.0,1425.9 1253.2,1425.9C1254.4,1425.9 1255.6,1417.8 1256.8,1412.7C1258.0,1408.1 1259.1,1400.3 1260.3,1396.9C1261.6,1393.0 1262.9,1393.0 1264.2,1391.7C1265.5,1390.4 1266.8,1389.1 1268.2,1389.1C1269.0,1389.1 1269.9,1405.1 1270.8,1423.3C1271.9,1446.9 1273.1,1496.0 1274.2,1520.6C1275.5,1549.0 1276.8,1578.5 1278.2,1578.5C1279.2,1578.5 1280.3,1533.4 1281.3,1507.5C1282.4,1481.6 1283.4,1431.2 1284.5,1423.3C1285.2,1418.0 1285.9,1418.0 1286.6,1418.0C1287.7,1418.0 1288.9,1441.7 1290.0,1441.7C1290.9,1441.7 1291.8,1431.7 1292.6,1428.5C1293.4,1425.7 1294.2,1423.3 1295.0,1423.3C1295.9,1423.3 1296.8,1436.4 1297.6,1454.8C1298.5,1473.3 1299.4,1513.3 1300.3,1533.8C1300.8,1546.1 1301.3,1560.1 1301.8,1560.1C1302.9,1560.1 1303.9,1518.6 1305.0,1494.3C1306.1,1468.0 1307.3,1424.6 1308.4,1407.5C1309.3,1394.3 1310.2,1394.3 1311.1,1394.3C1312.1,1394.3 1313.2,1394.3 1314.2,1415.4C1315.1,1432.9 1316.0,1486.6 1316.8,1520.6C1317.5,1547.8 1318.2,1599.6 1318.9,1599.6C1320.0,1599.6 1321.1,1540.2 1322.1,1507.5C1323.0,1480.2 1323.9,1430.5 1324.7,1420.6C1325.4,1412.7 1326.1,1412.7 1326.8,1412.7C1327.7,1412.7 1328.6,1432.5 1329.5,1454.8C1330.4,1477.2 1331.2,1527.6 1332.1,1546.9C1333.0,1566.2 1333.9,1570.6 1334.7,1570.6C1335.6,1570.6 1336.5,1539.1 1337.4,1520.6C1338.2,1502.2 1339.1,1464.1 1340.0,1460.1C1340.9,1456.2 1341.8,1456.2 1342.6,1456.2C1343.7,1456.2 1344.7,1474.8 1345.8,1494.3C1346.8,1513.8 1347.9,1573.3 1348.9,1573.3C1350.1,1573.3 1351.2,1530.3 1352.4,1507.5C1353.5,1484.7 1354.6,1447.8 1355.8,1436.4C1356.8,1425.9 1357.9,1425.9 1358.9,1425.9C1360.0,1425.9 1361.1,1437.5 1362.1,1449.6C1363.2,1462.6 1364.4,1502.2 1365.5,1502.2C1366.4,1502.2 1367.3,1481.2 1368.2,1468.0C1369.0,1454.8 1369.9,1428.5 1370.8,1423.3C1371.7,1418.0 1372.5,1418.0 1373.4,1418.0C1374.6,1418.0 1375.7,1424.9 1376.8,1428.5C1377.9,1431.9 1378.9,1437.3 1380.0,1439.1C1381.3,1441.2 1382.6,1440.2 1383.9,1441.7C1385.3,1443.1 1386.6,1445.2 1387.9,1449.6C1389.2,1454.0 1390.5,1461.4 1391.8,1468.0C1393.2,1474.6 1394.5,1483.8 1395.8,1489.1C1397.1,1494.3 1398.4,1499.6 1399.7,1499.6C1401.5,1499.6 1403.2,1494.2 1405.0,1481.2C1406.3,1471.4 1407.6,1446.1 1408.9,1436.4C1410.3,1426.8 1411.6,1423.3 1412.9,1423.3C1413.9,1423.3 1415.0,1423.3 1416.1,1425.9C1417.0,1428.3 1418.0,1435.5 1418.9,1454.8C1419.8,1472.4 1420.7,1514.1 1421.6,1533.8C1422.5,1553.5 1423.3,1573.3 1424.2,1573.3C1425.3,1573.3 1426.3,1519.3 1427.4,1494.3C1428.4,1469.3 1429.5,1434.3 1430.5,1423.3C1431.4,1414.1 1432.3,1414.1 1433.2,1414.1C1434.0,1414.1 1434.9,1419.5 1435.8,1441.7C1436.7,1463.8 1437.5,1523.7 1438.4,1546.9C1439.3,1570.2 1440.2,1581.2 1441.1,1581.2C1442.0,1581.2 1443.0,1514.2 1443.9,1481.2C1444.8,1451.1 1445.7,1401.6 1446.6,1391.7C1447.6,1379.8 1448.7,1379.8 1449.7,1379.8C1450.8,1379.8 1451.8,1407.5 1452.9,1441.7C1453.9,1473.1 1454.8,1544.5 1455.8,1573.3C1456.8,1604.6 1457.9,1618.0 1458.9,1618.0C1460.0,1618.0 1461.1,1565.7 1462.1,1533.8C1463.0,1507.2 1463.9,1452.2 1464.7,1444.3C1465.6,1436.4 1466.5,1436.4 1467.4,1436.4C1468.2,1436.4 1469.1,1456.0 1470.0,1468.0C1471.1,1483.6 1472.3,1504.3 1473.4,1520.6C1474.7,1539.5 1476.1,1560.7 1477.4,1573.3C1478.4,1583.4 1479.5,1591.7 1480.5,1591.7C1481.9,1591.7 1483.3,1570.4 1484.7,1560.1C1486.0,1551.1 1487.2,1535.3 1488.4,1533.8C1489.8,1532.1 1491.2,1533.1 1492.6,1531.2C1494.1,1529.1 1495.6,1510.8 1497.1,1494.3C1498.2,1481.7 1499.4,1455.5 1500.5,1446.9C1501.6,1439.1 1502.6,1439.1 1503.7,1439.1C1504.6,1439.1 1505.4,1441.2 1506.3,1454.8C1507.4,1471.2 1508.4,1515.9 1509.5,1533.8C1510.4,1548.7 1511.2,1557.5 1512.1,1557.5C1513.0,1557.5 1513.9,1517.8 1514.7,1507.5C1515.9,1494.0 1517.0,1495.0 1518.2,1491.7C1519.5,1487.8 1520.8,1490.0 1522.1,1486.4C1523.2,1483.6 1524.2,1476.5 1525.3,1473.3C1526.1,1470.6 1527.0,1468.0 1527.9,1468.0C1529.0,1468.0 1530.2,1479.8 1531.3,1486.4C1532.5,1493.0 1533.6,1507.5 1534.7,1507.5C1536.0,1507.5 1537.2,1491.7 1538.4,1491.7C1539.6,1491.7 1540.7,1498.9 1541.8,1502.2C1543.2,1506.0 1544.5,1512.7 1545.8,1512.7C1547.1,1512.7 1548.4,1507.5 1549.7,1507.5C1551.5,1507.5 1553.2,1511.1 1555.0,1527.2C1556.1,1536.9 1557.1,1563.0 1558.2,1573.3C1559.6,1587.0 1561.0,1594.3 1562.4,1594.3C1563.9,1594.3 1565.4,1574.8 1566.8,1560.1C1568.2,1547.2 1569.5,1526.1 1570.8,1512.7C1571.8,1502.0 1572.9,1488.9 1573.9,1486.4C1575.1,1483.8 1576.2,1483.8 1577.4,1483.8C1578.5,1483.8 1579.6,1497.8 1580.8,1507.5C1582.0,1517.9 1583.2,1536.8 1584.5,1544.3C1585.6,1551.3 1586.8,1552.2 1587.9,1552.2C1589.2,1552.2 1590.5,1546.5 1591.8,1544.3C1593.2,1542.1 1594.5,1540.8 1595.8,1539.1C1597.1,1537.3 1598.4,1535.1 1599.7,1533.8C1601.1,1532.5 1602.4,1531.2 1603.7,1531.2C1605.0,1531.2 1606.3,1546.9 1607.6,1552.2C1608.9,1557.5 1610.3,1562.7 1611.6,1562.7C1613.3,1562.7 1615.1,1554.8 1616.8,1554.8C1618.2,1554.8 1619.5,1568.0 1620.8,1568.0C1622.1,1568.0 1623.4,1551.7 1624.7,1546.9C1625.9,1542.8 1627.0,1540.4 1628.2,1540.4C1629.2,1540.4 1630.3,1552.6 1631.3,1560.1C1632.6,1569.5 1633.9,1584.9 1635.3,1591.7C1636.4,1597.6 1637.5,1599.6 1638.7,1599.6C1639.9,1599.6 1641.1,1586.1 1642.4,1581.2C1643.8,1575.5 1645.2,1568.0 1646.6,1568.0C1647.8,1568.0 1649.0,1570.6 1650.3,1570.6C1651.4,1570.6 1652.5,1568.0 1653.7,1568.0C1654.8,1568.0 1656.0,1580.7 1657.1,1586.4C1658.6,1593.9 1660.1,1603.0 1661.6,1607.5C1662.9,1611.4 1664.2,1612.7 1665.5,1612.7C1667.3,1612.7 1669.0,1606.1 1670.8,1604.8C1673.0,1603.2 1675.2,1604.3 1677.4,1602.2C1679.1,1600.6 1680.9,1595.0 1682.6,1591.7C1684.4,1588.4 1686.1,1582.5 1687.9,1582.5C1689.2,1582.5 1690.5,1602.3 1691.8,1612.7C1693.8,1628.0 1695.7,1660.1 1697.6,1660.1C1698.8,1660.1 1699.9,1639.9 1701.1,1628.5C1702.4,1615.4 1703.7,1593.0 1705.0,1586.4C1706.1,1581.2 1707.1,1581.2 1708.2,1581.2C1709.3,1581.2 1710.4,1604.8 1711.6,1604.8C1712.9,1604.8 1714.2,1602.0 1715.5,1599.6C1716.8,1597.2 1718.2,1590.4 1719.5,1590.4C1720.6,1590.4 1721.8,1606.0 1722.9,1612.7C1724.4,1621.6 1725.9,1636.4 1727.4,1636.4C1728.7,1636.4 1730.0,1626.4 1731.3,1623.3C1733.1,1619.0 1734.8,1615.4 1736.6,1615.4C1738.2,1615.4 1739.7,1615.4 1741.3,1615.4C1742.5,1615.4 1743.8,1630.2 1745.0,1636.4C1746.4,1643.5 1747.8,1654.8 1749.2,1654.8C1750.7,1654.8 1752.2,1642.8 1753.7,1639.1C1755.4,1634.6 1757.2,1631.2 1758.9,1631.2C1760.7,1631.2 1762.5,1632.5 1764.2,1632.5C1766.0,1632.5 1767.7,1625.7 1769.5,1623.3C1771.2,1620.9 1773.0,1618.0 1774.7,1618.0C1776.5,1618.0 1778.2,1618.0 1780.0,1618.0C1781.8,1618.0 1783.5,1616.7 1785.3,1616.7C1787.0,1616.7 1788.8,1623.5 1790.5,1625.9C1792.3,1628.3 1794.0,1629.6 1795.8,1631.2C1798.0,1633.1 1800.2,1634.7 1802.4,1636.4C1804.6,1638.2 1806.8,1641.7 1808.9,1641.7C1811.1,1641.7 1813.3,1640.0 1815.5,1636.4C1817.3,1633.5 1819.0,1624.6 1820.8,1623.3C1822.5,1621.9 1824.3,1621.9 1826.1,1621.9C1827.8,1621.9 1829.6,1631.2 1831.3,1631.2C1833.1,1631.2 1834.8,1629.8 1836.6,1629.8C1837.9,1629.8 1839.2,1633.6 1840.5,1636.4C1841.8,1639.3 1843.2,1644.5 1844.5,1646.9C1846.1,1649.9 1847.6,1652.2 1849.2,1652.2C1850.7,1652.2 1852.2,1644.4 1853.7,1641.7C1855.0,1639.3 1856.3,1636.4 1857.6,1636.4C1859.4,1636.4 1861.1,1636.4 1862.9,1636.4C1864.6,1636.4 1866.4,1640.4 1868.2,1640.4C1869.5,1640.4 1870.8,1637.7 1872.1,1636.4" fill="none" stroke="#1f5fb0" stroke-opacity="0.42" stroke-width="5.9" stroke-linejoin="round" stroke-linecap="butt"/>
<path d="M111.9,1591.4C113.3,1591.4 117.6,1591.1 120.5,1590.9C123.4,1590.8 126.0,1590.3 129.1,1590.4C132.3,1590.5 136.0,1590.9 139.5,1591.4C142.9,1592.0 146.4,1592.9 149.8,1593.5C153.3,1594.1 156.7,1594.7 160.2,1595.2C163.6,1595.8 167.4,1596.5 170.5,1597.0C173.7,1597.4 176.3,1598.0 179.1,1597.8C182.0,1597.7 185.2,1596.5 187.8,1596.1C190.3,1595.7 191.8,1595.5 194.7,1595.2C197.5,1595.0 201.6,1594.7 205.0,1594.4C208.4,1594.0 211.9,1593.7 215.3,1593.2C218.8,1592.6 222.2,1591.5 225.7,1590.9C229.1,1590.4 231.7,1590.0 236.0,1589.7C240.3,1589.4 247.0,1589.3 251.6,1589.2C256.1,1589.1 260.2,1588.9 263.6,1589.0C267.1,1589.1 269.4,1589.4 272.2,1589.7C275.1,1590.0 277.7,1590.6 280.9,1590.9C284.0,1591.2 288.0,1591.5 291.2,1591.4C294.4,1591.4 296.4,1590.7 299.8,1590.4C303.3,1590.1 307.6,1589.9 311.9,1589.7C316.2,1589.5 321.7,1589.4 325.7,1589.2C329.7,1589.0 333.2,1588.5 336.0,1588.7C338.9,1588.8 340.6,1589.3 342.9,1590.1C345.2,1590.9 347.8,1592.2 349.8,1593.5C351.8,1594.8 353.3,1597.0 355.0,1597.8C356.7,1598.6 358.4,1598.2 360.2,1598.3C361.9,1598.5 363.6,1599.5 365.3,1598.7C367.1,1597.9 368.8,1595.1 370.5,1593.5C372.2,1591.9 374.0,1590.5 375.7,1589.2C377.4,1587.9 379.1,1586.8 380.9,1585.8C382.6,1584.8 383.2,1583.9 386.0,1583.2C388.9,1582.5 393.8,1582.0 398.1,1581.4C402.4,1580.9 407.3,1580.2 411.9,1579.7C416.5,1579.2 421.7,1578.8 425.7,1578.3C429.7,1577.9 432.6,1577.7 436.0,1577.1C439.5,1576.6 443.2,1575.6 446.4,1574.9C449.5,1574.1 452.4,1573.3 455.0,1572.7C457.6,1572.0 459.6,1571.4 461.9,1570.8C464.2,1570.1 466.2,1569.3 468.8,1568.7C471.4,1568.1 474.5,1567.4 477.4,1567.0C480.3,1566.5 483.2,1566.2 486.0,1565.9C488.9,1565.7 491.8,1565.6 494.7,1565.6C497.5,1565.6 500.7,1565.6 503.3,1565.9C505.9,1566.2 507.6,1566.6 510.2,1567.3C512.8,1568.1 515.9,1569.4 518.8,1570.4C521.7,1571.4 524.8,1572.8 527.4,1573.3C530.0,1573.9 532.0,1574.1 534.3,1573.9C536.6,1573.6 538.9,1572.4 541.2,1571.6C543.5,1570.8 545.8,1569.2 548.1,1569.0C550.4,1568.9 552.7,1569.9 555.0,1570.8C557.3,1571.6 559.6,1573.2 561.9,1574.2C564.2,1575.2 566.5,1576.0 568.8,1576.8C571.1,1577.6 573.1,1578.5 575.7,1579.0C578.3,1579.5 581.4,1579.5 584.3,1579.7C587.2,1579.9 589.8,1580.0 592.9,1580.2C596.1,1580.5 599.8,1580.9 603.3,1581.1C606.7,1581.3 610.2,1581.3 613.6,1581.4C617.1,1581.6 620.5,1582.0 624.0,1582.0C627.4,1581.9 630.9,1581.2 634.3,1581.1C637.8,1581.0 641.2,1581.0 644.7,1581.1C648.1,1581.2 651.6,1581.3 655.0,1581.4C658.4,1581.6 662.2,1582.0 665.3,1582.0C668.5,1582.0 671.4,1582.0 674.0,1581.4C676.6,1580.9 678.3,1579.6 680.9,1578.5C683.4,1577.5 686.6,1576.1 689.5,1575.1C692.4,1574.0 695.8,1572.9 698.1,1572.1C700.4,1571.4 701.3,1571.3 703.3,1570.4C705.3,1569.6 707.9,1567.9 710.2,1567.0C712.5,1566.0 714.8,1565.2 717.1,1564.7C719.4,1564.2 721.4,1563.9 724.0,1563.9C726.6,1563.8 729.7,1564.1 732.6,1564.2C735.5,1564.3 738.0,1564.3 741.2,1564.2C744.4,1564.1 747.5,1563.7 751.6,1563.5C755.6,1563.3 760.7,1563.2 765.3,1563.0C769.9,1562.8 775.1,1562.6 779.1,1562.5C783.2,1562.3 786.3,1562.1 789.5,1562.1C792.6,1562.2 795.5,1562.9 798.1,1563.0C800.7,1563.1 802.5,1562.3 805.0,1562.6C807.5,1562.9 810.3,1564.2 812.9,1564.8C815.5,1565.5 817.7,1566.4 820.8,1566.7C823.9,1567.0 827.4,1566.6 831.3,1566.7C835.3,1566.8 840.1,1567.3 844.5,1567.5C848.9,1567.7 853.2,1567.7 857.6,1568.0C862.0,1568.3 866.4,1569.0 870.8,1569.3C875.2,1569.7 879.6,1570.0 883.9,1570.1C888.3,1570.2 892.7,1570.5 897.1,1570.1C901.5,1569.8 905.9,1568.7 910.3,1568.0C914.6,1567.3 919.0,1566.6 923.4,1565.9C927.8,1565.2 932.2,1564.7 936.6,1564.1C941.0,1563.4 945.4,1562.9 949.7,1562.2C954.1,1561.6 958.5,1560.9 962.9,1560.1C967.3,1559.3 971.7,1558.6 976.1,1557.5C980.4,1556.4 985.3,1554.9 989.2,1553.5C993.2,1552.1 996.2,1550.8 999.7,1549.1C1003.2,1547.3 1006.8,1544.4 1010.3,1543.0C1013.8,1541.6 1017.7,1541.5 1020.8,1540.4C1023.9,1539.3 1026.1,1538.2 1028.7,1536.4C1031.3,1534.7 1033.9,1532.3 1036.6,1529.8C1039.2,1527.4 1041.8,1524.8 1044.5,1521.9C1047.1,1519.1 1049.7,1516.2 1052.4,1512.7C1055.0,1509.2 1057.6,1504.4 1060.3,1500.9C1062.9,1497.4 1066.0,1494.1 1068.2,1491.7C1070.4,1489.3 1071.7,1489.7 1073.4,1486.4C1075.2,1483.1 1076.9,1476.8 1078.7,1471.9C1080.4,1467.1 1082.2,1462.1 1083.9,1457.5C1085.7,1452.9 1087.5,1448.7 1089.2,1444.3C1091.0,1439.9 1092.7,1435.3 1094.5,1431.2C1096.2,1427.0 1097.5,1424.1 1099.7,1419.3C1101.9,1414.5 1105.0,1408.1 1107.6,1402.2C1110.3,1396.3 1112.9,1389.9 1115.5,1383.8C1118.2,1377.6 1120.8,1371.5 1123.4,1365.4C1126.1,1359.2 1128.9,1352.6 1131.3,1346.9C1133.7,1341.2 1135.9,1334.9 1137.9,1331.2C1139.9,1327.4 1141.2,1326.6 1143.2,1324.6C1145.1,1322.6 1147.5,1321.5 1149.7,1319.3C1151.9,1317.1 1153.7,1313.6 1156.3,1311.4C1158.9,1309.2 1162.7,1307.7 1165.5,1306.2C1168.4,1304.6 1171.0,1303.4 1173.4,1302.2C1175.8,1301.0 1177.1,1300.5 1180.0,1298.9C1182.9,1297.4 1187.0,1295.1 1190.5,1293.0C1194.0,1290.9 1197.5,1288.4 1201.1,1286.4C1204.6,1284.4 1208.5,1282.4 1211.6,1281.2C1214.6,1279.9 1216.0,1279.4 1219.5,1279.1C1223.0,1278.7 1228.2,1278.5 1232.6,1279.1C1237.0,1279.6 1241.4,1281.5 1245.8,1282.5C1250.2,1283.5 1254.6,1284.5 1258.9,1285.1C1263.3,1285.7 1267.7,1285.8 1272.1,1285.9C1276.5,1286.0 1280.9,1285.7 1285.3,1285.9C1289.6,1286.1 1294.0,1286.6 1298.4,1286.9C1302.8,1287.3 1307.6,1287.5 1311.6,1287.7C1315.5,1288.0 1319.0,1288.4 1322.1,1288.5C1325.2,1288.7 1327.4,1289.0 1330.0,1288.5C1332.6,1288.1 1334.4,1286.9 1337.9,1285.9C1341.4,1284.9 1346.7,1283.5 1351.1,1282.5C1355.4,1281.5 1359.8,1280.5 1364.2,1279.8C1368.6,1279.2 1372.1,1278.7 1377.4,1278.5C1382.6,1278.3 1390.1,1278.4 1395.8,1278.5C1401.5,1278.6 1406.8,1278.8 1411.6,1279.1C1416.4,1279.3 1420.4,1279.3 1424.7,1279.8C1429.1,1280.4 1433.9,1281.6 1437.9,1282.5C1441.8,1283.4 1444.9,1284.9 1448.4,1285.1C1451.9,1285.3 1455.4,1284.0 1458.9,1283.8C1462.5,1283.6 1466.0,1283.4 1469.5,1283.8C1473.0,1284.1 1476.5,1285.2 1480.0,1285.9C1483.5,1286.6 1487.0,1287.3 1490.5,1287.7C1494.0,1288.2 1497.1,1288.3 1501.1,1288.5C1505.0,1288.7 1510.3,1288.6 1514.2,1289.1C1518.2,1289.5 1521.2,1290.1 1524.7,1291.2C1528.2,1292.3 1531.8,1294.2 1535.3,1295.6C1538.8,1297.0 1542.5,1298.5 1545.8,1299.6C1549.1,1300.7 1552.6,1300.7 1555.0,1302.2C1557.4,1303.7 1558.5,1305.9 1560.3,1308.8C1562.0,1311.6 1563.8,1315.6 1565.5,1319.3C1567.3,1323.0 1569.0,1327.4 1570.8,1331.2C1572.5,1334.9 1574.3,1338.2 1576.1,1341.7C1577.8,1345.2 1579.6,1348.7 1581.3,1352.2C1583.1,1355.7 1584.6,1359.4 1586.6,1362.7C1588.6,1366.0 1591.0,1369.8 1593.2,1371.9C1595.4,1374.1 1598.0,1374.4 1599.7,1375.9C1601.5,1377.4 1602.4,1378.5 1603.7,1381.2C1605.0,1383.8 1606.1,1387.7 1607.6,1391.7C1609.2,1395.6 1611.1,1400.7 1612.9,1404.8C1614.6,1409.0 1616.4,1413.0 1618.2,1416.7C1619.9,1420.4 1621.7,1424.6 1623.4,1427.2C1625.2,1429.8 1626.7,1430.5 1628.7,1432.5C1630.7,1434.4 1633.1,1436.9 1635.3,1439.1C1637.5,1441.2 1639.6,1443.2 1641.8,1445.6C1644.0,1448.0 1646.3,1451.8 1648.4,1453.5C1650.5,1455.3 1652.7,1454.2 1654.5,1456.2C1656.2,1458.1 1657.3,1462.7 1658.9,1465.4C1660.6,1468.0 1662.2,1469.8 1664.2,1471.9C1666.2,1474.1 1668.4,1475.9 1670.8,1478.5C1673.2,1481.2 1676.1,1484.7 1678.7,1487.7C1681.3,1490.8 1684.4,1494.8 1686.6,1496.9C1688.8,1499.1 1689.6,1499.8 1691.8,1500.9C1694.0,1502.0 1696.7,1502.2 1699.7,1503.5C1702.8,1504.8 1706.8,1507.0 1710.3,1508.8C1713.8,1510.5 1717.3,1512.3 1720.8,1514.1C1724.3,1515.8 1728.7,1518.3 1731.3,1519.3C1733.9,1520.3 1734.4,1520.2 1736.6,1520.1C1738.8,1520.0 1741.8,1519.1 1744.5,1518.5C1747.1,1518.0 1750.0,1516.9 1752.4,1516.7C1754.8,1516.5 1756.8,1516.2 1758.9,1517.5C1761.1,1518.8 1763.3,1522.3 1765.5,1524.6C1767.7,1526.9 1769.9,1529.2 1772.1,1531.2C1774.3,1533.1 1776.3,1534.9 1778.7,1536.4C1781.1,1538.0 1783.9,1538.4 1786.6,1540.4C1789.2,1542.3 1791.8,1546.1 1794.5,1548.3C1797.1,1550.5 1799.7,1552.1 1802.4,1553.5C1805.0,1555.0 1807.6,1556.1 1810.3,1556.9C1812.9,1557.8 1815.1,1558.4 1818.2,1558.8C1821.2,1559.2 1825.6,1559.5 1828.7,1559.6C1831.8,1559.7 1833.9,1559.6 1836.6,1559.3C1839.2,1559.1 1842.1,1557.9 1844.5,1558.0C1846.9,1558.1 1848.9,1559.1 1851.1,1560.1C1853.2,1561.1 1855.4,1563.1 1857.6,1564.1C1859.8,1565.0 1861.7,1565.6 1864.2,1565.9C1866.8,1566.2 1871.4,1565.9 1872.9,1565.9" fill="none" stroke="#05806a" stroke-width="5.6" stroke-linejoin="round"/>
<path d="M111.9,1620.2C113.0,1620.8 116.5,1622.5 118.8,1623.7C121.1,1624.8 123.4,1626.1 125.7,1627.1C128.0,1628.1 130.3,1628.9 132.6,1629.7C134.9,1630.6 137.2,1631.5 139.5,1632.3C141.8,1633.1 144.1,1633.9 146.4,1634.6C148.7,1635.2 151.0,1635.7 153.3,1636.3C155.6,1636.9 157.9,1637.5 160.2,1638.0C162.5,1638.5 164.8,1638.8 167.1,1639.2C169.4,1639.6 171.4,1640.0 174.0,1640.4C176.6,1640.8 179.7,1641.2 182.6,1641.4C185.5,1641.7 188.0,1641.9 191.2,1642.1C194.4,1642.3 198.1,1642.5 201.6,1642.7C205.0,1642.8 208.4,1643.1 211.9,1643.2C215.3,1643.3 218.8,1643.3 222.2,1643.2C225.7,1643.1 229.1,1642.8 232.6,1642.7C236.0,1642.5 239.5,1642.3 242.9,1642.1C246.4,1641.9 249.8,1641.7 253.3,1641.4C256.7,1641.2 260.2,1640.7 263.6,1640.4C267.1,1640.1 270.5,1640.0 274.0,1639.7C277.4,1639.4 280.9,1638.9 284.3,1638.7C287.8,1638.5 291.2,1638.7 294.7,1638.7C298.1,1638.7 301.6,1638.9 305.0,1638.7C308.4,1638.5 312.2,1637.9 315.3,1637.5C318.5,1637.1 321.1,1636.6 324.0,1636.3C326.8,1636.0 329.7,1635.6 332.6,1635.8C335.5,1635.9 338.6,1636.5 341.2,1637.0C343.8,1637.5 345.8,1638.5 348.1,1638.7C350.4,1638.9 352.7,1637.8 355.0,1638.3C357.3,1638.9 359.6,1641.0 361.9,1641.8C364.2,1642.6 366.5,1642.9 368.8,1643.2C371.1,1643.5 373.4,1643.9 375.7,1643.5C378.0,1643.1 380.3,1641.3 382.6,1640.9C384.9,1640.6 386.9,1641.7 389.5,1641.4C392.1,1641.2 395.2,1640.3 398.1,1639.2C401.0,1638.1 403.9,1636.2 406.7,1634.9C409.6,1633.6 412.5,1632.6 415.3,1631.4C418.2,1630.3 421.1,1629.4 424.0,1628.0C426.8,1626.6 429.7,1624.4 432.6,1622.8C435.5,1621.2 438.3,1619.7 441.2,1618.5C444.1,1617.4 447.5,1616.5 449.8,1615.9C452.1,1615.4 453.0,1615.6 455.0,1615.1C457.0,1614.6 459.6,1614.0 461.9,1613.0C464.2,1612.0 466.5,1610.3 468.8,1609.0C471.1,1607.8 473.4,1606.6 475.7,1605.6C478.0,1604.5 480.3,1603.6 482.6,1602.7C484.9,1601.7 487.2,1600.5 489.5,1599.7C491.8,1598.9 494.1,1598.6 496.4,1598.0C498.7,1597.4 501.0,1596.9 503.3,1596.3C505.6,1595.6 507.9,1594.6 510.2,1594.0C512.5,1593.5 514.8,1593.2 517.1,1592.8C519.4,1592.5 521.7,1592.1 524.0,1591.8C526.3,1591.5 528.6,1591.5 530.9,1591.1C533.2,1590.7 535.5,1589.8 537.8,1589.4C540.1,1588.9 542.4,1588.5 544.7,1588.3C547.0,1588.2 549.3,1588.4 551.6,1588.3C553.9,1588.3 555.9,1588.1 558.4,1588.0C561.0,1587.9 564.2,1587.7 567.1,1587.7C569.9,1587.6 572.8,1587.5 575.7,1587.7C578.6,1587.8 581.4,1588.1 584.3,1588.3C587.2,1588.5 590.1,1588.4 592.9,1588.9C595.8,1589.3 598.7,1590.4 601.6,1591.1C604.4,1591.8 607.6,1592.4 610.2,1593.2C612.8,1593.9 615.1,1595.0 617.1,1595.8C619.1,1596.5 620.5,1597.3 622.2,1597.5C624.0,1597.7 625.7,1596.9 627.4,1597.0C629.1,1597.1 630.6,1597.3 632.6,1598.0C634.6,1598.7 637.2,1600.1 639.5,1600.9C641.8,1601.8 644.1,1602.5 646.4,1603.2C648.7,1603.8 651.0,1604.4 653.3,1604.9C655.6,1605.4 657.9,1605.5 660.2,1606.1C662.5,1606.7 664.8,1607.5 667.1,1608.3C669.4,1609.2 671.7,1610.1 674.0,1611.3C676.3,1612.4 678.6,1614.0 680.9,1615.2C683.2,1616.5 685.5,1617.8 687.8,1618.7C690.1,1619.6 692.4,1620.0 694.7,1620.8C697.0,1621.5 699.5,1622.5 701.6,1623.3C703.6,1624.2 705.1,1625.4 706.7,1625.9C708.3,1626.5 709.3,1627.2 711.0,1626.8C712.8,1626.4 714.9,1624.5 717.1,1623.3C719.2,1622.2 721.7,1621.0 724.0,1619.9C726.3,1618.7 728.6,1617.0 730.9,1616.4C733.2,1615.9 735.5,1617.5 737.8,1616.4C740.1,1615.4 742.4,1611.9 744.7,1610.4C747.0,1609.0 749.3,1608.3 751.6,1607.8C753.9,1607.4 756.1,1607.7 758.4,1607.8C760.7,1608.0 763.0,1608.7 765.3,1608.7C767.6,1608.7 769.9,1608.3 772.2,1607.8C774.5,1607.3 776.8,1606.2 779.1,1605.6C781.4,1605.0 783.7,1604.8 786.0,1604.4C788.3,1604.0 790.6,1603.6 792.9,1603.2C795.2,1602.7 797.8,1602.2 799.8,1601.8C801.8,1601.4 802.8,1601.8 805.0,1601.0C807.2,1600.2 810.3,1598.1 812.9,1596.9C815.5,1595.8 817.7,1594.4 820.8,1593.8C823.9,1593.1 827.8,1593.8 831.3,1593.0C834.8,1592.2 838.3,1590.4 841.8,1589.1C845.4,1587.7 848.9,1586.6 852.4,1585.1C855.9,1583.6 859.4,1581.5 862.9,1579.8C866.4,1578.2 869.9,1576.7 873.4,1575.4C876.9,1574.1 880.4,1573.2 883.9,1571.9C887.5,1570.7 891.0,1569.3 894.5,1568.0C898.0,1566.7 901.9,1565.1 905.0,1564.1C908.1,1563.0 909.8,1562.0 912.9,1561.4C916.0,1560.9 919.9,1561.1 923.4,1560.6C926.9,1560.2 930.9,1559.3 933.9,1558.8C937.0,1558.3 939.2,1557.6 941.8,1557.5C944.5,1557.3 947.1,1558.2 949.7,1558.0C952.4,1557.8 954.6,1556.2 957.6,1556.2C960.7,1556.2 965.1,1557.8 968.2,1558.0C971.2,1558.2 973.4,1557.2 976.1,1557.5C978.7,1557.7 980.9,1559.9 983.9,1559.6C987.0,1559.2 991.0,1556.9 994.5,1555.4C998.0,1553.8 1001.5,1551.9 1005.0,1550.1C1008.5,1548.3 1012.0,1545.9 1015.5,1544.3C1019.0,1542.7 1022.5,1542.2 1026.1,1540.4C1029.6,1538.5 1033.1,1535.5 1036.6,1533.3C1040.1,1531.1 1043.6,1529.5 1047.1,1527.2C1050.6,1524.9 1054.1,1521.9 1057.6,1519.3C1061.1,1516.7 1064.6,1514.1 1068.2,1511.4C1071.7,1508.8 1075.2,1506.2 1078.7,1503.5C1082.2,1500.9 1085.7,1498.3 1089.2,1495.6C1092.7,1493.0 1096.2,1491.0 1099.7,1487.7C1103.2,1484.4 1106.8,1479.6 1110.3,1475.9C1113.8,1472.2 1117.3,1469.1 1120.8,1465.4C1124.3,1461.6 1128.2,1456.6 1131.3,1453.5C1134.4,1450.5 1136.6,1449.6 1139.2,1446.9C1141.8,1444.3 1144.0,1440.8 1147.1,1437.7C1150.2,1434.7 1154.1,1431.6 1157.6,1428.5C1161.1,1425.5 1164.4,1422.3 1168.2,1419.3C1171.9,1416.4 1176.7,1413.0 1180.0,1410.8C1183.3,1408.6 1185.3,1407.6 1187.9,1406.2C1190.5,1404.7 1192.7,1403.2 1195.8,1402.2C1198.9,1401.2 1202.8,1400.6 1206.3,1400.1C1209.8,1399.6 1213.8,1399.4 1216.8,1399.1C1219.9,1398.7 1222.1,1398.7 1224.7,1398.3C1227.4,1397.8 1230.0,1396.3 1232.6,1396.4C1235.3,1396.6 1237.7,1398.7 1240.5,1399.1C1243.4,1399.4 1246.7,1397.7 1249.7,1398.3C1252.8,1398.8 1255.7,1400.6 1258.9,1402.2C1262.2,1403.8 1266.0,1406.2 1269.5,1408.0C1273.0,1409.8 1277.4,1411.7 1280.0,1412.7C1282.6,1413.7 1282.6,1412.5 1285.3,1414.1C1287.9,1415.6 1292.3,1419.8 1295.8,1421.9C1299.3,1424.1 1302.8,1425.2 1306.3,1427.2C1309.8,1429.2 1313.3,1431.6 1316.8,1433.8C1320.4,1436.0 1323.9,1439.1 1327.4,1440.4C1330.9,1441.7 1334.4,1440.4 1337.9,1441.7C1341.4,1443.0 1344.9,1446.1 1348.4,1448.3C1351.9,1450.5 1355.4,1452.4 1358.9,1454.8C1362.5,1457.3 1366.0,1460.3 1369.5,1462.7C1373.0,1465.1 1376.5,1467.8 1380.0,1469.3C1383.5,1470.9 1387.0,1470.6 1390.5,1471.9C1394.0,1473.3 1397.5,1475.5 1401.1,1477.2C1404.6,1479.0 1408.1,1481.2 1411.6,1482.5C1415.1,1483.8 1418.6,1484.1 1422.1,1485.1C1425.6,1486.1 1429.6,1488.1 1432.6,1488.5C1435.7,1489.0 1437.9,1488.0 1440.5,1487.7C1443.2,1487.5 1445.8,1486.4 1448.4,1486.9C1451.1,1487.5 1453.2,1490.1 1456.3,1491.2C1459.4,1492.2 1463.8,1492.3 1466.8,1493.0C1469.9,1493.7 1472.1,1494.5 1474.7,1495.6C1477.4,1496.7 1479.6,1499.1 1482.6,1499.6C1485.7,1500.0 1490.1,1497.7 1493.2,1498.3C1496.2,1498.8 1498.4,1501.9 1501.1,1502.7C1503.7,1503.6 1506.3,1502.3 1508.9,1503.5C1511.6,1504.8 1514.2,1507.9 1516.8,1510.1C1519.5,1512.3 1521.7,1514.5 1524.7,1516.7C1527.8,1518.9 1531.8,1521.3 1535.3,1523.3C1538.8,1525.2 1542.5,1527.2 1545.8,1528.5C1549.1,1529.8 1551.7,1530.1 1555.0,1531.2C1558.3,1532.3 1562.0,1533.6 1565.5,1535.1C1569.0,1536.6 1572.5,1538.4 1576.1,1540.4C1579.6,1542.3 1583.5,1545.6 1586.6,1546.9C1589.6,1548.3 1591.8,1547.2 1594.5,1548.3C1597.1,1549.4 1599.7,1551.8 1602.4,1553.5C1605.0,1555.3 1607.6,1557.3 1610.3,1558.8C1612.9,1560.2 1615.5,1560.9 1618.2,1562.2C1620.8,1563.5 1623.4,1565.7 1626.1,1566.7C1628.7,1567.6 1631.3,1566.8 1633.9,1568.0C1636.6,1569.2 1639.2,1572.3 1641.8,1573.8C1644.5,1575.3 1646.7,1575.1 1649.7,1577.2C1652.8,1579.3 1656.8,1583.8 1660.3,1586.4C1663.8,1589.1 1667.3,1591.2 1670.8,1593.0C1674.3,1594.8 1677.8,1595.2 1681.3,1596.9C1684.8,1598.7 1688.3,1601.6 1691.8,1603.5C1695.4,1605.5 1698.9,1607.3 1702.4,1608.8C1705.9,1610.3 1709.4,1611.3 1712.9,1612.7C1716.4,1614.2 1719.9,1615.9 1723.4,1617.5C1726.9,1619.0 1730.4,1620.5 1733.9,1621.9C1737.5,1623.4 1741.0,1624.7 1744.5,1625.9C1748.0,1627.1 1751.5,1628.1 1755.0,1629.1C1758.5,1630.0 1762.0,1630.8 1765.5,1631.7C1769.0,1632.6 1772.5,1633.5 1776.1,1634.3C1779.6,1635.1 1783.1,1635.9 1786.6,1636.4C1790.1,1637.0 1793.6,1637.3 1797.1,1637.7C1800.6,1638.2 1804.1,1638.7 1807.6,1639.1C1811.1,1639.4 1814.6,1639.5 1818.2,1639.6C1821.7,1639.7 1825.2,1639.8 1828.7,1639.6C1832.2,1639.4 1835.7,1639.0 1839.2,1638.5C1842.7,1638.1 1846.2,1637.5 1849.7,1636.9C1853.2,1636.4 1857.2,1635.6 1860.3,1635.1C1863.3,1634.6 1866.1,1634.1 1868.2,1633.8C1870.3,1633.5 1872.1,1633.4 1872.9,1633.3" fill="none" stroke="#9c0a35" stroke-width="6.2" stroke-linejoin="round"/>
<path d="M111.9,1644.4C113.0,1644.8 116.5,1646.0 118.8,1646.6C121.1,1647.3 123.4,1647.8 125.7,1648.3C128.0,1648.9 130.3,1649.6 132.6,1650.1C134.9,1650.6 137.2,1650.9 139.5,1651.3C141.8,1651.7 144.1,1652.1 146.4,1652.5C148.7,1652.9 151.0,1653.2 153.3,1653.5C155.6,1653.8 157.9,1654.0 160.2,1654.2C162.5,1654.4 164.2,1654.6 167.1,1654.7C169.9,1654.9 173.4,1655.1 177.4,1655.2C181.4,1655.4 186.0,1655.5 191.2,1655.6C196.4,1655.7 202.7,1655.9 208.4,1655.9C214.2,1656.0 219.9,1656.0 225.7,1655.9C231.4,1655.8 237.2,1655.4 242.9,1655.2C248.7,1655.0 254.4,1655.0 260.2,1654.7C265.9,1654.5 271.7,1653.9 277.4,1653.9C283.2,1653.8 288.9,1654.1 294.7,1654.2C300.4,1654.4 306.1,1654.7 311.9,1654.7C317.6,1654.7 324.0,1654.1 329.1,1654.2C334.3,1654.3 338.9,1654.8 342.9,1655.2C347.0,1655.7 349.8,1656.2 353.3,1657.0C356.7,1657.7 360.2,1659.2 363.6,1659.9C367.1,1660.6 370.5,1660.8 374.0,1661.1C377.4,1661.4 380.9,1661.4 384.3,1661.6C387.8,1661.8 391.2,1662.4 394.7,1662.1C398.1,1661.9 401.6,1660.6 405.0,1659.9C408.4,1659.2 411.9,1658.5 415.3,1658.2C418.8,1657.8 422.2,1658.2 425.7,1657.7C429.1,1657.1 432.6,1655.6 436.0,1654.7C439.5,1653.8 443.2,1652.9 446.4,1652.1C449.5,1651.4 452.1,1651.0 455.0,1650.2C457.9,1649.5 460.7,1648.4 463.6,1647.5C466.5,1646.5 469.4,1645.6 472.2,1644.6C475.1,1643.5 478.0,1642.5 480.9,1641.4C483.7,1640.4 486.6,1639.2 489.5,1638.0C492.4,1636.8 495.2,1635.5 498.1,1634.2C501.0,1632.9 503.9,1631.4 506.7,1630.2C509.6,1629.1 512.5,1628.3 515.3,1627.3C518.2,1626.4 521.1,1625.5 524.0,1624.6C526.8,1623.6 529.7,1622.5 532.6,1621.6C535.5,1620.7 538.3,1619.8 541.2,1619.0C544.1,1618.3 547.0,1617.6 549.8,1617.0C552.7,1616.3 555.6,1616.0 558.4,1615.2C561.3,1614.4 564.2,1613.1 567.1,1612.1C569.9,1611.2 572.8,1610.4 575.7,1609.6C578.6,1608.7 581.4,1608.0 584.3,1607.3C587.2,1606.6 590.1,1605.8 592.9,1605.2C595.8,1604.7 598.7,1604.3 601.6,1604.0C604.4,1603.8 607.3,1603.8 610.2,1603.9C613.0,1603.9 615.9,1604.4 618.8,1604.4C621.7,1604.4 625.1,1603.9 627.4,1603.9C629.7,1603.8 630.6,1603.6 632.6,1603.9C634.6,1604.1 637.2,1604.8 639.5,1605.2C641.8,1605.7 644.1,1606.3 646.4,1606.6C648.7,1607.0 651.0,1607.0 653.3,1607.3C655.6,1607.6 657.9,1608.0 660.2,1608.3C662.5,1608.7 664.8,1608.9 667.1,1609.6C669.4,1610.2 671.7,1611.3 674.0,1612.1C676.3,1613.0 678.6,1614.0 680.9,1614.7C683.2,1615.4 685.5,1615.8 687.8,1616.4C690.1,1617.1 692.4,1618.0 694.7,1618.7C697.0,1619.4 699.5,1619.8 701.6,1620.4C703.6,1621.0 705.1,1621.7 706.7,1622.1C708.3,1622.5 709.3,1623.2 711.0,1622.8C712.8,1622.5 714.9,1620.8 717.1,1619.9C719.2,1619.0 721.7,1618.3 724.0,1617.7C726.3,1617.0 728.6,1616.2 730.9,1615.9C733.2,1615.6 735.5,1616.6 737.8,1615.9C740.1,1615.3 742.6,1613.1 744.7,1612.1C746.7,1611.2 747.8,1610.6 749.8,1610.4C751.8,1610.3 754.4,1610.9 756.7,1611.3C759.0,1611.6 761.3,1612.2 763.6,1612.5C765.9,1612.8 768.2,1613.1 770.5,1613.0C772.8,1612.9 775.1,1612.3 777.4,1612.1C779.7,1611.9 782.0,1611.9 784.3,1611.8C786.6,1611.7 788.9,1611.8 791.2,1611.8C793.5,1611.8 795.8,1611.9 798.1,1611.8C800.4,1611.7 802.5,1612.1 805.0,1611.4C807.5,1610.7 810.3,1608.7 812.9,1607.5C815.5,1606.3 818.2,1604.5 820.8,1604.3C823.4,1604.1 825.6,1606.7 828.7,1606.2C831.8,1605.6 835.7,1602.4 839.2,1600.9C842.7,1599.4 846.2,1598.1 849.7,1596.9C853.2,1595.8 856.8,1595.0 860.3,1593.8C863.8,1592.6 867.3,1590.5 870.8,1589.6C874.3,1588.7 877.8,1589.1 881.3,1588.5C884.8,1587.9 888.3,1586.6 891.8,1585.9C895.4,1585.2 898.9,1585.3 902.4,1584.3C905.9,1583.3 909.4,1580.0 912.9,1579.8C916.4,1579.7 919.9,1582.6 923.4,1583.3C926.9,1583.9 930.4,1583.7 933.9,1583.8C937.5,1583.9 941.0,1583.9 944.5,1583.8C948.0,1583.7 951.5,1582.9 955.0,1583.3C958.5,1583.6 962.0,1585.1 965.5,1585.9C969.0,1586.6 972.5,1587.1 976.1,1587.7C979.6,1588.4 983.5,1589.8 986.6,1589.6C989.6,1589.4 991.8,1587.6 994.5,1586.4C997.1,1585.2 999.3,1584.0 1002.4,1582.5C1005.4,1580.9 1009.4,1578.7 1012.9,1577.2C1016.4,1575.7 1019.9,1574.6 1023.4,1573.3C1026.9,1571.9 1030.4,1571.0 1033.9,1569.3C1037.5,1567.6 1041.0,1565.5 1044.5,1563.3C1048.0,1561.1 1051.5,1558.7 1055.0,1556.2C1058.5,1553.7 1062.0,1550.9 1065.5,1548.3C1069.0,1545.6 1072.5,1543.2 1076.1,1540.4C1079.6,1537.5 1083.1,1534.4 1086.6,1531.2C1090.1,1527.9 1093.6,1524.1 1097.1,1520.6C1100.6,1517.1 1104.1,1513.6 1107.6,1510.1C1111.1,1506.6 1114.6,1503.1 1118.2,1499.6C1121.7,1496.1 1125.2,1493.2 1128.7,1489.1C1132.2,1484.9 1135.7,1479.0 1139.2,1474.6C1142.7,1470.2 1146.2,1466.0 1149.7,1462.7C1153.2,1459.4 1156.8,1457.0 1160.3,1454.8C1163.8,1452.6 1167.5,1451.6 1170.8,1449.6C1174.1,1447.6 1177.1,1444.7 1180.0,1443.0C1182.9,1441.3 1185.3,1440.6 1187.9,1439.6C1190.5,1438.6 1192.7,1437.6 1195.8,1436.9C1198.9,1436.3 1202.8,1436.2 1206.3,1435.9C1209.8,1435.6 1213.3,1435.2 1216.8,1435.1C1220.4,1435.0 1224.3,1435.0 1227.4,1435.1C1230.4,1435.2 1232.6,1435.6 1235.3,1435.9C1237.9,1436.2 1240.7,1436.9 1243.2,1436.9C1245.6,1436.9 1247.1,1435.3 1249.7,1435.9C1252.4,1436.5 1255.7,1438.9 1258.9,1440.4C1262.2,1441.9 1266.4,1443.3 1269.5,1444.8C1272.5,1446.4 1275.0,1449.2 1277.4,1449.6C1279.8,1449.9 1281.3,1446.4 1283.9,1446.9C1286.6,1447.5 1289.9,1451.2 1293.2,1452.7C1296.4,1454.3 1300.2,1454.9 1303.7,1456.2C1307.2,1457.4 1310.7,1458.8 1314.2,1460.1C1317.7,1461.4 1321.7,1463.0 1324.7,1464.1C1327.8,1465.1 1330.4,1466.4 1332.6,1466.7C1334.8,1467.0 1335.3,1465.2 1337.9,1465.9C1340.5,1466.6 1344.9,1469.0 1348.4,1470.6C1351.9,1472.3 1355.4,1474.2 1358.9,1475.9C1362.5,1477.6 1366.0,1479.2 1369.5,1480.6C1373.0,1482.0 1376.9,1483.8 1380.0,1484.3C1383.1,1484.8 1384.8,1483.4 1387.9,1483.8C1391.0,1484.2 1394.9,1486.0 1398.4,1486.9C1401.9,1487.9 1405.4,1488.9 1408.9,1489.6C1412.5,1490.3 1416.0,1490.8 1419.5,1491.2C1423.0,1491.5 1426.5,1491.8 1430.0,1491.7C1433.5,1491.6 1437.5,1490.9 1440.5,1490.4C1443.6,1489.8 1445.8,1488.1 1448.4,1488.5C1451.1,1489.0 1453.2,1492.1 1456.3,1493.0C1459.4,1493.9 1463.8,1493.2 1466.8,1493.8C1469.9,1494.4 1472.1,1495.5 1474.7,1496.4C1477.4,1497.4 1479.6,1499.3 1482.6,1499.6C1485.7,1499.9 1490.1,1497.7 1493.2,1498.3C1496.2,1498.8 1498.4,1501.6 1501.1,1502.7C1503.7,1503.8 1506.3,1503.5 1508.9,1504.8C1511.6,1506.2 1514.2,1508.7 1516.8,1510.6C1519.5,1512.6 1521.7,1514.6 1524.7,1516.7C1527.8,1518.8 1531.8,1521.2 1535.3,1523.3C1538.8,1525.3 1542.5,1527.7 1545.8,1529.1C1549.1,1530.4 1551.7,1530.1 1555.0,1531.2C1558.3,1532.2 1562.0,1533.6 1565.5,1535.1C1569.0,1536.6 1572.5,1538.4 1576.1,1540.4C1579.6,1542.3 1583.5,1545.5 1586.6,1546.9C1589.6,1548.4 1591.8,1547.7 1594.5,1549.1C1597.1,1550.4 1599.7,1553.0 1602.4,1554.8C1605.0,1556.7 1607.6,1558.7 1610.3,1560.1C1612.9,1561.5 1615.5,1561.9 1618.2,1563.3C1620.8,1564.7 1623.4,1567.5 1626.1,1568.5C1628.7,1569.5 1631.3,1568.1 1633.9,1569.3C1636.6,1570.5 1639.2,1574.1 1641.8,1575.9C1644.5,1577.6 1646.7,1577.6 1649.7,1579.8C1652.8,1582.0 1656.8,1586.4 1660.3,1589.1C1663.8,1591.7 1667.3,1593.9 1670.8,1595.6C1674.3,1597.4 1677.8,1598.0 1681.3,1599.6C1684.8,1601.2 1688.3,1603.6 1691.8,1605.4C1695.4,1607.1 1698.9,1608.7 1702.4,1610.1C1705.9,1611.6 1709.4,1612.7 1712.9,1614.1C1716.4,1615.4 1719.9,1616.7 1723.4,1618.0C1726.9,1619.3 1730.4,1620.7 1733.9,1621.9C1737.5,1623.2 1741.0,1624.3 1744.5,1625.4C1748.0,1626.5 1751.5,1627.6 1755.0,1628.5C1758.5,1629.5 1762.0,1630.3 1765.5,1631.2C1769.0,1632.0 1772.5,1633.0 1776.1,1633.8C1779.6,1634.6 1783.1,1635.4 1786.6,1635.9C1790.1,1636.4 1793.6,1636.6 1797.1,1636.9C1800.6,1637.3 1804.1,1637.7 1807.6,1638.0C1811.1,1638.3 1814.6,1638.4 1818.2,1638.5C1821.7,1638.6 1825.2,1638.6 1828.7,1638.5C1832.2,1638.5 1835.7,1638.4 1839.2,1638.3C1842.7,1638.1 1846.2,1638.0 1849.7,1637.7C1853.2,1637.5 1857.2,1637.2 1860.3,1636.9C1863.3,1636.7 1866.1,1636.6 1868.2,1636.4C1870.3,1636.2 1872.1,1636.0 1872.9,1635.9" fill="none" stroke="#1f5fb0" stroke-width="6.2" stroke-linejoin="round"/>
</g>
<rect x="111.2" y="1224.0" width="1817.3999999999999" height="460.29999999999995" fill="none" stroke="#8a8a8a" stroke-width="1.7"/>
<path d="M111.2,1669.9h-3M111.2,1625.3h-3M111.2,1580.7h-3M111.2,1536.1h-3M111.2,1491.5h-3M111.2,1447.0h-3M111.2,1402.4h-3M111.2,1357.8h-3M111.2,1313.2h-3M111.2,1268.6h-3M111.2,1224.0h-3M1928.6,1684.3h3M1928.6,1592.2h3M1928.6,1500.2h3M1928.6,1408.1h3M1928.6,1316.1h3M1928.6,1224.0h3M279.5,1684.3v3M453.6,1684.3v3M627.8,1684.3v3M801.9,1684.3v3M976.0,1684.3v3M1150.1,1684.3v3M1324.2,1684.3v3M1498.4,1684.3v3M1672.5,1684.3v3M1846.6,1684.3v3M169.6,1684.3v-3M169.6,1224.0v3M262.5,1684.3v-3M262.5,1224.0v3M355.3,1684.3v-3M355.3,1224.0v3M448.2,1684.3v-3M448.2,1224.0v3M541.1,1684.3v-3M541.1,1224.0v3M634.0,1684.3v-3M634.0,1224.0v3M726.8,1684.3v-3M726.8,1224.0v3M819.7,1684.3v-3M819.7,1224.0v3M912.6,1684.3v-3M912.6,1224.0v3M1005.4,1684.3v-3M1005.4,1224.0v3M1098.3,1684.3v-3M1098.3,1224.0v3M1191.2,1684.3v-3M1191.2,1224.0v3M1284.0,1684.3v-3M1284.0,1224.0v3M1376.9,1684.3v-3M1376.9,1224.0v3M1469.8,1684.3v-3M1469.8,1224.0v3M1562.7,1684.3v-3M1562.7,1224.0v3M1655.5,1684.3v-3M1655.5,1224.0v3M1748.4,1684.3v-3M1748.4,1224.0v3M1841.3,1684.3v-3M1841.3,1224.0v3" stroke="#4d4d4d" stroke-width="1.4" fill="none"/>
<g font-size="26.1" text-anchor="end" fill="#000">
<text x="97.3" y="1680.5">0</text>
<text x="97.3" y="1635.9">1</text>
<text x="97.3" y="1591.3">2</text>
<text x="97.3" y="1546.7">3</text>
<text x="97.3" y="1502.1">4</text>
<text x="97.3" y="1457.5">5</text>
<text x="97.3" y="1413.0">6</text>
<text x="97.3" y="1368.4">7</text>
<text x="97.3" y="1323.8">8</text>
<text x="97.3" y="1279.2">9</text>
<text x="97.3" y="1234.6">10</text>
</g>
<g font-size="26.1" text-anchor="start" fill="#000">
<text x="1943" y="1694.9">0.0</text>
<text x="1943" y="1602.8">0.2</text>
<text x="1943" y="1510.8">0.4</text>
<text x="1943" y="1418.7">0.6</text>
<text x="1943" y="1326.7">0.8</text>
<text x="1943" y="1234.6">1.0</text>
</g>
<text font-size="26.1" text-anchor="middle" transform="translate(54.9,1454.0) rotate(-90)">Daily Evaporation (mm/day)</text>
<text font-size="26.1" text-anchor="middle" transform="translate(2019.8,1457.2) rotate(-90)">NDVI</text>
<text font-size="39.8" text-anchor="middle" x="1015.8" y="1205.0">US-Ne3</text>
<text font-size="28.5" x="11" y="1228.5">c)</text>
<rect x="124.3" y="1237.9" width="229" height="123.5" rx="6" ry="6" fill="#fff" fill-opacity="0.8" stroke="#dadada" stroke-width="1.4"/>
<rect x="130" y="1253.3" width="61.3" height="11.2" fill="#9c0a35" fill-opacity="0.5"/>
<rect x="130" y="1255.9" width="61.3" height="6" fill="#9c0a35"/>
<rect x="130" y="1291.3" width="61.3" height="11.2" fill="#1f5fb0" fill-opacity="0.45"/>
<rect x="130" y="1293.9" width="61.3" height="6" fill="#1f5fb0"/>
<rect x="132.2" y="1332.5" width="57.6" height="5.6" fill="#05806a"/>
<g font-size="26.1" fill="#000">
<text x="208.5" y="1267.3">Tower E</text>
<text x="208.5" y="1305.7">CubeSat E</text>
<text x="208.5" y="1344.1">NDVI</text>
</g>
</g>
<g font-size="26.1" text-anchor="middle" fill="#000">
<text x="280.1" y="1718.6">30</text>
<text x="454.2" y="1718.6">60</text>
<text x="628.4" y="1718.6">90</text>
<text x="802.5" y="1718.6">120</text>
<text x="976.6" y="1718.6">150</text>
<text x="1150.7" y="1718.6">180</text>
<text x="1324.8" y="1718.6">210</text>
<text x="1499.0" y="1718.6">240</text>
<text x="1673.1" y="1718.6">270</text>
<text x="1847.2" y="1718.6">300</text>
</g>
<text font-size="26.1" text-anchor="middle" x="1024.8" y="1767.4">Day of the Year</text>
</svg>
</body></html>
